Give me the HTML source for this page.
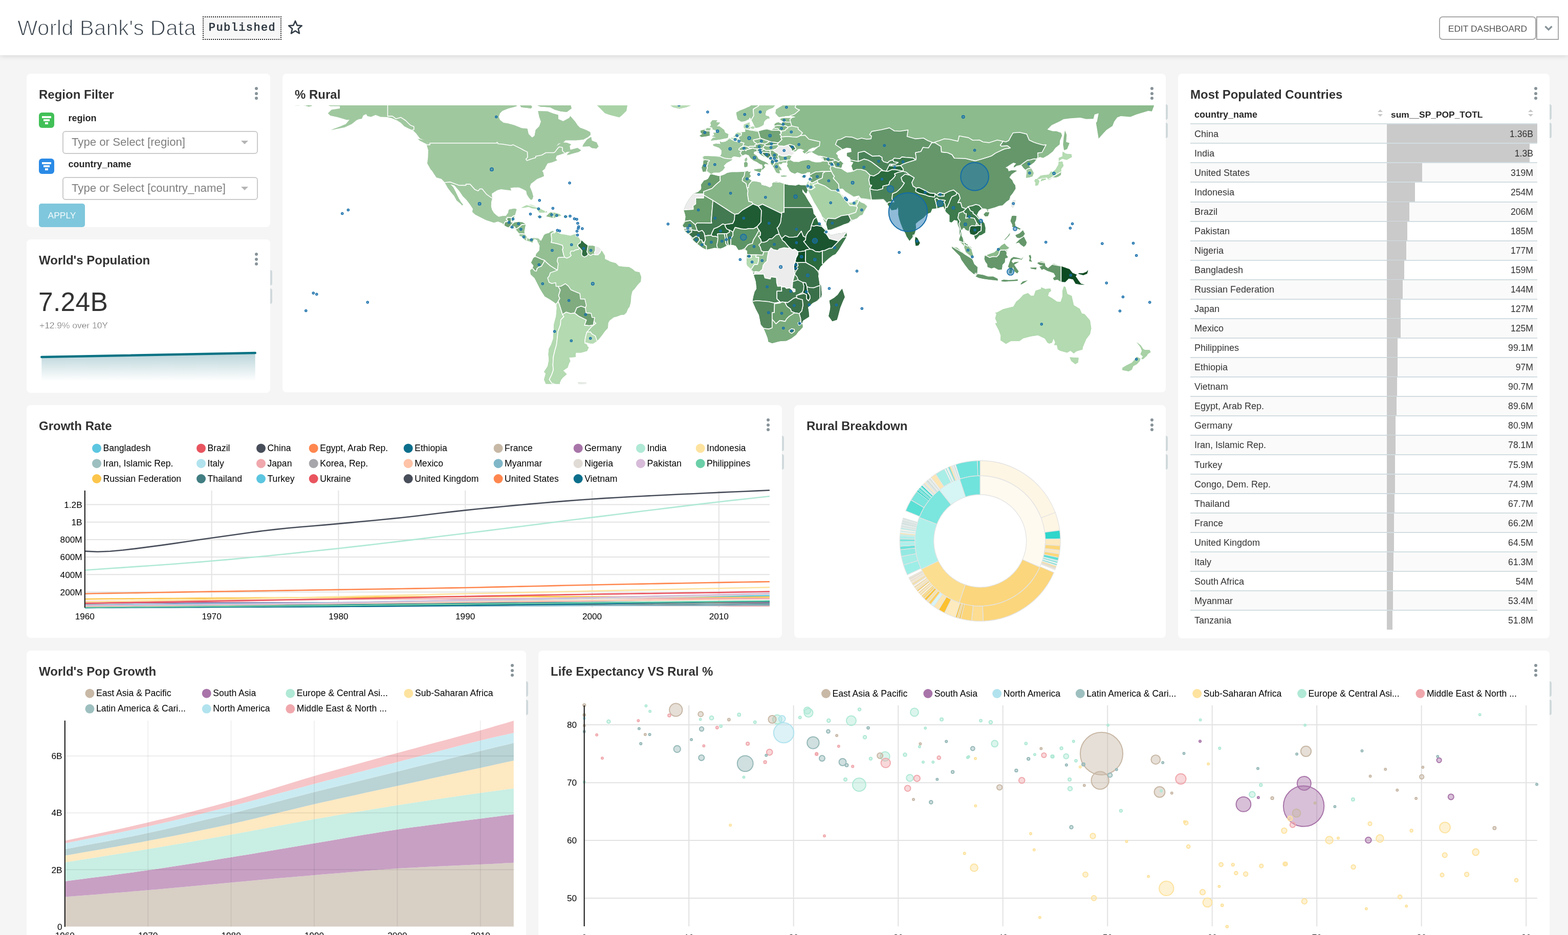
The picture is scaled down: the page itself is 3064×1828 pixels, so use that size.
<!DOCTYPE html><html><head><meta charset="utf-8"><title>World Bank's Data</title><style>
*{box-sizing:border-box;margin:0;padding:0}
html,body{width:3064px;height:1828px;overflow:hidden;background:#f5f5f5;font-family:"Liberation Sans", Arial, Helvetica, sans-serif;color:#333}
.abs{position:absolute}
.hdr{position:absolute;left:0;top:0;width:3064px;height:108px;background:#fff;box-shadow:0 2px 10px rgba(0,0,0,0.13)}
.panel{position:absolute;background:#fff;border-radius:8px}
.ttl{position:absolute;font-weight:700;font-size:24px;color:#323232;white-space:nowrap;line-height:1}
.keb{position:absolute;width:6px}
.keb i{display:block;width:6px;height:6px;border-radius:3px;background:#879399;margin-bottom:3.6px}
.grip{position:absolute;width:4px;border-radius:0 4px 4px 0;background:#d0d9dc}
.lg{font-size:17.6px;fill:#000}
.ax{font-size:17.2px;fill:#000}
svg text{font-family:"Liberation Sans", Arial, Helvetica, sans-serif}
</style></head><body>
<div class="hdr"></div>
<div class="abs" style="left:34px;top:31px;font-size:42px;line-height:48px;color:#36404a;white-space:nowrap;letter-spacing:0.2px;-webkit-text-stroke:1.3px #fff;paint-order:normal">World Bank's Data</div>
<div class="abs" style="left:396px;top:32px;width:154px;height:46px;border:2.4px dotted #222;background:#f7f7f7;font-family:'Liberation Mono',monospace;font-weight:400;font-size:22px;letter-spacing:1.4px;-webkit-text-stroke:0.7px #2b353e;line-height:41px;text-align:center;color:#2b353e;padding-left:1px">Published</div>
<svg class="abs" style="left:560px;top:38px" width="34" height="32" viewBox="0 0 34 32"><path d="M17 3 L20.6 11.6 L29.8 12.3 L22.8 18.3 L25 27.3 L17 22.4 L9 27.3 L11.2 18.3 L4.2 12.3 L13.4 11.6 Z" fill="none" stroke="#323c46" stroke-width="2.6" stroke-linejoin="round"/></svg>
<div class="abs" style="left:2812px;top:32px;width:190px;height:46px;border:2px solid #a9a9a9;border-radius:7px;background:#fff;font-size:17.4px;line-height:44px;text-align:center;color:#555;white-space:nowrap">EDIT DASHBOARD</div>
<div class="abs" style="left:3002px;top:32px;width:44px;height:46px;border:2px solid #a9a9a9;background:#fff"></div>
<svg class="abs" style="left:3016px;top:48px" width="20" height="14"><path d="M3.5 3.5 L10 10 L16.5 3.5" fill="none" stroke="#879399" stroke-width="3.2"/></svg>
<div class="panel" style="left:52px;top:144px;width:476px;height:300px"></div>
<div class="ttl" style="left:76px;top:172.7px;font-size:24px">Region Filter</div>
<div class="keb" style="left:498.0px;top:170.0px"><i></i><i></i><i></i></div>
<div class="abs" style="left:76px;top:220px;width:30px;height:30px;border-radius:6px;background:#41c057"><div class="abs" style="left:6px;top:7.3px;width:18px;height:3.4px;background:#fff"></div><div class="abs" style="left:9px;top:13.4px;width:12px;height:3.4px;background:#fff"></div><div class="abs" style="left:12px;top:19.3px;width:6px;height:3.4px;background:#fff"></div></div>
<div class="abs" style="left:133.5px;top:221px;font-size:18px;font-weight:700;line-height:20px;color:#262626">region</div>
<div class="abs" style="left:122px;top:256px;width:382px;height:45px;border:2px solid #cbcbcb;border-radius:6px;background:#fff"></div>
<div class="abs" style="left:140px;top:265px;font-size:22.2px;line-height:26px;color:#7f7f7f;white-space:nowrap">Type or Select [region]</div>
<svg class="abs" style="left:470px;top:274px" width="16" height="10"><path d="M1 1 L15 1 L8 8 Z" fill="#b4b4b4"/></svg>
<div class="abs" style="left:76px;top:310px;width:30px;height:30px;border-radius:6px;background:#2a8ae6"><div class="abs" style="left:6px;top:7.3px;width:18px;height:3.4px;background:#fff"></div><div class="abs" style="left:9px;top:13.4px;width:12px;height:3.4px;background:#fff"></div><div class="abs" style="left:12px;top:19.3px;width:6px;height:3.4px;background:#fff"></div></div>
<div class="abs" style="left:133.5px;top:311px;font-size:18px;font-weight:700;line-height:20px;color:#262626">country_name</div>
<div class="abs" style="left:122px;top:346px;width:382px;height:45px;border:2px solid #cbcbcb;border-radius:6px;background:#fff"></div>
<div class="abs" style="left:140px;top:355px;font-size:22.2px;line-height:26px;color:#7f7f7f;white-space:nowrap">Type or Select [country_name]</div>
<svg class="abs" style="left:470px;top:364px" width="16" height="10"><path d="M1 1 L15 1 L8 8 Z" fill="#b4b4b4"/></svg>
<div class="abs" style="left:76px;top:398px;width:90px;height:46px;border-radius:5px;background:#7fc7dc;color:#f4fbfd;font-size:17.4px;line-height:46px;text-align:center">APPLY</div>
<div class="panel" style="left:52px;top:468px;width:476px;height:300px"></div>
<div class="ttl" style="left:76px;top:496.7px;font-size:24px">World's Population</div>
<div class="keb" style="left:498.0px;top:494.0px"><i></i><i></i><i></i></div>
<div class="abs" style="left:75px;top:561px;font-size:51.5px;line-height:58px;color:#333;letter-spacing:0.3px">7.24B</div>
<div class="abs" style="left:77px;top:626px;font-size:17.4px;line-height:20px;color:#5a5a5a;-webkit-text-stroke:0.45px #fff">+12.9% over 10Y</div>
<svg class="abs" style="left:52px;top:468px" width="476" height="300"><defs><linearGradient id="spg" x1="0" y1="0" x2="0" y2="1"><stop offset="0" stop-color="#b9d4d9"/><stop offset="1" stop-color="#fff"/></linearGradient></defs><path d="M29.3 230 L446.7 222 L446.7 277 L29.3 277 Z" fill="url(#spg)"/><path d="M29.3 230 L446.7 222" stroke="#0b7384" stroke-width="4.5" stroke-linecap="round" fill="none"/></svg>
<div class="grip" style="left:528px;top:528px;height:30px"></div>
<div class="grip" style="left:528px;top:564px;height:30px"></div>
<div class="panel" style="left:552px;top:144px;width:1726px;height:623px"></div>
<div class="ttl" style="left:576px;top:172.7px;font-size:24px">% Rural</div>
<div class="keb" style="left:2248.0px;top:170.0px"><i></i><i></i><i></i></div>
<svg class="abs" style="left:0;top:0" width="2300" height="780" viewBox="0 0 2300 780"><defs><clipPath id="mc"><rect x="576" y="206" width="1679" height="544.5"/></clipPath><clipPath id="cl_nam"><path d="M631.4 202.3 L645.4 207.5 L664.1 207.5 L664.1 212.1 L647.8 214.5 L640.8 221.5 L645.4 226.1 L659.4 228.9 L678.1 234.5 L682.8 234.1 L675.8 242.5 L664.1 247.6 L652.4 251.8 L646.4 254.6 L659.4 251.8 L673.4 249.0 L687.4 242.5 L696.8 235.0 L701.4 233.1 L707.0 232.2 L709.8 225.7 L715.5 222.9 L717.8 227.1 L724.8 228.5 L734.1 224.7 L743.5 228.5 L757.5 228.9 L764.5 230.8 L776.1 235.5 L783.1 240.1 L790.1 247.1 L799.5 251.8 L807.4 255.1 L813.5 261.1 L820.5 270.5 L829.8 274.2 L839.1 283.1 L833.5 282.6 L836.8 293.8 L836.3 307.8 L834.9 319.5 L841.5 331.2 L843.8 333.5 L846.6 337.7 L852.7 347.0 L862.5 349.8 L868.5 355.9 L871.8 361.5 L875.1 367.6 L883.0 377.8 L887.2 382.5 L892.3 391.8 L900.7 398.8 L902.6 401.6 L904.9 400.2 L900.7 395.1 L896.1 387.2 L890.5 375.5 L885.8 366.2 L879.7 360.1 L888.1 362.4 L897.5 373.2 L904.5 383.4 L911.5 390.4 L918.9 400.2 L924.1 408.2 L923.1 414.2 L928.7 419.4 L939.5 425.0 L949.3 430.1 L965.1 435.2 L973.1 432.9 L981.5 436.2 L985.2 440.4 L990.8 443.6 L997.8 445.5 L1007.1 446.9 L1009.5 450.2 L1014.1 455.8 L1015.5 457.2 L1015.1 460.9 L1020.2 462.8 L1025.8 469.3 L1028.6 470.2 L1035.1 472.1 L1040.3 474.4 L1042.1 469.8 L1044.5 467.0 L1049.6 469.3 L1051.5 474.9 L1054.3 475.8 L1054.7 469.8 L1054.3 467.9 L1049.1 464.6 L1044.5 463.7 L1039.8 466.0 L1035.1 467.4 L1031.9 466.5 L1028.1 461.8 L1024.9 457.2 L1024.4 452.5 L1025.8 445.5 L1027.2 438.5 L1021.1 434.8 L1014.1 433.8 L1007.1 434.8 L1003.4 435.2 L1000.6 434.3 L1003.9 426.8 L1005.7 422.2 L1007.1 417.5 L1009.5 409.1 L1004.8 407.7 L994.1 410.0 L993.1 416.1 L988.5 422.2 L981.5 422.6 L974.5 424.0 L969.8 420.8 L965.1 416.6 L961.4 410.5 L959.5 403.5 L960.0 394.2 L961.9 387.6 L960.9 378.8 L965.1 376.0 L972.1 371.8 L979.1 369.9 L988.5 371.3 L997.8 372.2 L999.2 372.7 L997.3 367.6 L1004.8 366.6 L1014.1 366.6 L1021.1 369.4 L1028.1 373.2 L1029.5 380.2 L1033.7 386.7 L1037.5 390.9 L1040.7 389.0 L1042.1 383.9 L1039.8 375.5 L1035.6 365.2 L1037.5 359.2 L1042.6 355.4 L1049.1 350.3 L1051.9 348.9 L1058.5 346.6 L1063.1 344.2 L1061.3 336.3 L1059.4 334.4 L1065.0 329.8 L1065.9 327.0 L1070.1 319.5 L1079.5 317.2 L1085.5 314.8 L1088.8 313.4 L1086.0 309.7 L1087.9 304.6 L1098.1 301.3 L1102.8 299.4 L1107.5 297.1 L1114.5 296.2 L1108.9 300.8 L1107.5 304.1 L1116.8 300.8 L1130.8 297.1 L1135.5 293.8 L1128.5 289.2 L1114.5 292.9 L1113.1 285.4 L1115.9 282.2 L1107.5 278.9 L1098.1 278.4 L1091.1 283.1 L1086.5 286.8 L1091.1 280.8 L1100.5 278.4 L1105.1 274.2 L1126.1 274.2 L1140.1 272.8 L1149.0 268.1 L1154.1 263.5 L1153.2 258.3 L1144.8 254.1 L1133.1 249.5 L1128.5 244.8 L1123.8 237.8 L1114.5 227.1 L1112.1 230.8 L1100.5 236.9 L1091.1 233.1 L1090.7 224.7 L1079.5 221.5 L1070.1 217.7 L1051.5 217.3 L1053.8 228.5 L1057.1 237.8 L1053.8 247.1 L1046.8 254.1 L1044.5 265.8 L1039.8 269.1 L1032.8 262.1 L1030.5 251.8 L1018.8 250.4 L1004.8 244.8 L993.1 241.5 L983.8 240.1 L976.8 234.5 L974.5 228.5 L976.8 221.5 L981.5 216.8 L993.1 212.1 L1004.8 208.9 L1009.5 207.5 L1009.5 195.8 L948.8 191.1 L855.5 184.1 L762.1 182.7 L687.4 175.7 L654.8 181.8 L640.8 188.8 L650.1 195.8 Z M1042.1 202.8 L1056.1 208.4 L1074.8 209.8 L1084.1 214.5 L1095.8 217.7 L1107.5 219.1 L1112.1 215.4 L1116.8 212.1 L1114.5 202.8 Z M1014.1 202.8 L1018.8 209.8 L1028.1 210.7 L1037.5 212.1 L1039.8 208.9 L1035.1 202.8 Z M1138.3 286.4 L1140.1 282.2 L1147.1 272.8 L1155.1 267.7 L1156.5 275.1 L1165.8 278.4 L1169.5 286.4 L1165.3 290.6 L1156.5 289.2 L1151.8 285.9 Z M816.3 271.4 L829.8 274.2 L839.6 282.6 L833.1 281.2 L820.5 275.1 Z"/></clipPath><clipPath id="cl_grl"><path d="M1163.5 202.8 L1172.8 212.1 L1182.2 221.5 L1191.5 224.7 L1210.2 229.4 L1214.8 226.1 L1224.2 216.8 L1226.5 202.8 Z M1301.2 202.8 L1309.6 205.6 L1315.2 209.8 L1327.8 212.6 L1340.8 209.8 L1352.0 205.1 L1350.2 198.1 L1322.2 198.1 L1303.5 199.1 Z"/></clipPath><clipPath id="cl_car"><path d="M1018.8 406.3 L1028.1 401.6 L1037.5 400.2 L1044.5 402.6 L1053.8 407.2 L1063.1 411.9 L1069.7 414.2 L1065.5 415.6 L1053.8 415.6 L1049.1 408.2 L1039.8 407.2 L1032.8 404.4 L1023.5 406.3 Z M1067.8 422.2 L1074.8 415.6 L1081.8 415.6 L1093.5 418.4 L1096.7 421.7 L1088.8 423.6 L1081.8 426.4 L1074.8 424.5 L1067.8 423.1 Z M1050.1 422.6 L1059.9 423.6 L1057.1 425.4 L1050.5 423.6 Z M1101.9 422.2 L1109.3 422.6 L1108.9 424.5 L1101.9 424.5 Z"/></clipPath><clipPath id="cl_sam"><path d="M1054.3 467.9 L1057.1 471.2 L1060.8 464.6 L1063.1 459.5 L1066.4 457.2 L1072.5 455.8 L1079.5 450.6 L1083.2 453.4 L1081.3 458.1 L1084.1 455.8 L1088.8 451.6 L1089.7 454.8 L1096.7 458.1 L1105.1 459.0 L1114.5 460.9 L1121.5 458.6 L1126.6 458.6 L1123.8 461.8 L1130.8 464.2 L1133.1 468.8 L1136.4 469.8 L1142.5 475.8 L1149.0 480.5 L1158.8 480.5 L1163.5 481.9 L1170.5 484.2 L1174.7 488.9 L1177.5 492.2 L1182.2 500.1 L1182.2 506.2 L1189.2 509.4 L1192.0 511.3 L1203.6 514.6 L1209.2 520.2 L1219.5 521.6 L1229.3 522.0 L1235.8 525.8 L1241.4 530.4 L1249.8 532.3 L1253.1 541.6 L1252.2 550.5 L1245.6 557.5 L1240.5 564.5 L1235.8 569.2 L1233.5 578.5 L1232.6 591.1 L1230.2 600.0 L1227.4 603.2 L1224.2 611.2 L1219.5 615.4 L1213.9 615.8 L1205.5 619.1 L1199.4 620.5 L1191.5 626.6 L1188.7 631.2 L1187.8 641.5 L1182.2 647.6 L1176.5 655.5 L1170.0 663.4 L1165.8 667.2 L1159.3 671.4 L1153.2 671.4 L1145.7 669.5 L1142.9 668.6 L1147.1 673.2 L1148.1 677.4 L1150.9 678.4 L1147.1 686.3 L1135.5 689.6 L1125.2 689.6 L1124.7 698.0 L1112.1 698.9 L1114.5 705.9 L1112.1 710.1 L1109.3 718.5 L1100.5 724.6 L1107.5 731.6 L1099.5 738.6 L1096.3 742.8 L1093.5 749.3 L1096.3 753.1 L1095.3 763.8 L1110.7 764.7 L1100.5 767.5 L1088.8 765.7 L1079.5 760.5 L1067.8 753.5 L1063.1 741.9 L1066.4 730.2 L1063.1 726.9 L1070.1 716.2 L1072.5 704.5 L1071.5 692.8 L1072.5 682.1 L1076.7 674.2 L1080.9 662.5 L1081.8 648.5 L1082.3 634.5 L1086.5 618.2 L1087.9 602.8 L1087.4 594.4 L1082.3 590.6 L1074.8 585.5 L1064.5 579.4 L1059.4 571.5 L1055.2 564.5 L1050.5 555.2 L1044.5 543.5 L1037.0 536.5 L1036.1 528.6 L1040.7 524.4 L1042.6 519.2 L1037.9 513.6 L1042.1 504.8 L1046.8 501.0 L1047.7 496.4 L1053.8 489.8 L1054.7 480.5 L1051.9 474.9 L1054.3 475.8 Z M1129.4 747.5 L1144.8 747.0 L1146.2 749.8 L1137.8 752.6 L1130.8 751.2 Z"/></clipPath><clipPath id="cl_afr"><path d="M1388.0 341.4 L1390.8 341.0 L1401.5 343.8 L1406.2 344.7 L1415.5 341.4 L1421.1 338.2 L1429.5 336.8 L1441.2 336.8 L1452.8 336.3 L1460.8 334.4 L1463.6 336.8 L1466.8 335.4 L1464.5 340.5 L1467.3 344.2 L1462.6 348.9 L1469.2 354.0 L1477.1 355.0 L1486.4 357.3 L1488.3 362.0 L1497.2 363.8 L1504.2 367.1 L1508.8 363.8 L1509.3 358.2 L1515.8 355.0 L1523.3 356.4 L1532.2 360.1 L1541.5 362.0 L1555.0 362.9 L1560.2 361.0 L1566.2 362.4 L1575.1 362.4 L1578.4 370.8 L1575.6 378.3 L1572.3 375.5 L1567.6 369.0 L1568.1 375.5 L1573.2 382.0 L1578.8 391.8 L1582.1 397.0 L1587.7 405.8 L1589.1 412.8 L1589.6 417.5 L1595.2 424.5 L1598.9 434.3 L1603.1 438.5 L1610.1 445.5 L1616.6 449.2 L1617.6 453.9 L1623.2 460.0 L1627.8 459.0 L1637.2 456.7 L1646.5 455.8 L1654.0 453.4 L1654.9 460.0 L1652.6 465.6 L1646.5 475.8 L1639.5 487.5 L1632.5 496.8 L1626.9 499.2 L1618.5 505.7 L1611.5 512.2 L1606.8 517.8 L1603.1 521.6 L1600.3 527.6 L1598.9 540.2 L1599.8 545.8 L1601.2 555.2 L1604.0 557.5 L1605.0 566.8 L1605.4 576.2 L1604.5 580.8 L1598.4 586.9 L1587.7 592.5 L1578.8 600.9 L1580.2 608.8 L1581.2 619.1 L1569.5 626.6 L1567.6 629.8 L1569.0 639.2 L1562.5 646.2 L1560.2 648.0 L1555.5 654.6 L1546.2 661.6 L1536.8 666.2 L1522.8 667.2 L1508.8 670.9 L1501.4 668.1 L1500.4 661.6 L1496.2 650.8 L1492.5 642.0 L1486.9 634.5 L1483.2 615.8 L1477.1 604.2 L1470.6 589.2 L1472.4 579.4 L1474.8 570.6 L1478.5 564.5 L1477.1 550.5 L1472.9 537.0 L1471.5 531.8 L1466.8 526.2 L1460.3 519.7 L1458.9 513.2 L1459.4 506.6 L1459.8 498.2 L1460.3 490.3 L1455.6 487.5 L1448.2 488.0 L1443.0 488.4 L1437.9 480.5 L1431.4 478.6 L1421.1 480.0 L1410.8 484.7 L1406.2 486.1 L1396.8 484.2 L1380.5 488.0 L1372.1 483.8 L1362.3 476.3 L1353.9 468.8 L1347.8 460.0 L1343.2 455.8 L1337.6 450.6 L1337.1 445.5 L1333.8 439.9 L1338.5 432.9 L1339.9 423.6 L1338.5 417.5 L1336.2 410.5 L1340.8 398.8 L1346.4 389.5 L1354.8 379.2 L1364.2 375.5 L1369.8 370.4 L1370.7 366.6 L1369.8 361.5 L1375.8 353.1 L1380.0 351.7 L1383.8 349.4 L1386.6 344.2 Z M1645.6 564.5 L1650.7 580.8 L1647.0 588.8 L1641.8 601.8 L1637.2 619.6 L1635.3 625.2 L1626.4 628.0 L1619.4 618.2 L1619.4 617.2 L1621.8 606.5 L1622.7 599.5 L1620.8 587.8 L1630.2 582.2 L1637.2 576.2 L1640.9 570.6 Z"/></clipPath><clipPath id="cl_eur"><path d="M1371.2 327.4 L1373.5 335.8 L1381.0 334.9 L1386.1 338.2 L1389.4 340.5 L1394.5 337.2 L1405.7 337.2 L1412.2 333.0 L1416.4 327.4 L1414.1 324.2 L1419.7 318.6 L1425.8 315.3 L1430.4 312.5 L1430.0 307.8 L1434.2 305.5 L1440.7 306.4 L1445.8 307.4 L1450.5 304.1 L1456.6 301.3 L1463.1 303.6 L1466.8 309.2 L1472.9 313.9 L1478.5 316.2 L1485.5 320.9 L1489.2 321.8 L1490.6 327.0 L1488.3 331.2 L1490.6 331.2 L1495.3 326.5 L1492.5 322.8 L1495.8 320.0 L1501.8 321.4 L1499.5 319.0 L1494.4 316.2 L1489.7 314.4 L1481.8 310.6 L1479.0 305.0 L1472.9 300.8 L1473.4 296.6 L1479.4 295.2 L1479.0 298.0 L1483.2 297.6 L1486.4 302.2 L1492.0 305.5 L1497.6 307.8 L1501.8 310.6 L1506.0 313.4 L1506.0 319.0 L1508.4 322.8 L1512.1 327.4 L1514.9 333.0 L1516.8 336.8 L1520.0 338.6 L1523.8 338.6 L1522.8 332.1 L1527.5 332.6 L1525.2 327.9 L1521.9 324.6 L1521.0 320.0 L1526.6 320.9 L1529.8 317.6 L1536.8 318.1 L1539.6 320.0 L1537.8 324.2 L1540.6 328.4 L1542.9 333.5 L1546.2 336.8 L1553.2 339.6 L1558.3 336.8 L1567.2 340.0 L1574.2 339.1 L1577.4 336.8 L1583.5 336.3 L1582.6 341.4 L1583.0 345.2 L1581.2 350.3 L1578.8 355.4 L1575.1 362.4 L1578.4 370.8 L1585.8 384.8 L1590.5 394.2 L1597.5 405.8 L1604.5 417.5 L1609.2 429.2 L1614.8 438.5 L1617.6 449.2 L1625.5 448.8 L1639.5 443.2 L1648.8 438.5 L1659.1 435.7 L1667.5 429.6 L1674.5 426.8 L1680.6 421.2 L1685.3 419.8 L1688.5 412.8 L1694.6 403.5 L1689.0 398.4 L1681.5 395.6 L1678.7 392.3 L1678.7 385.3 L1673.6 390.4 L1667.5 396.0 L1658.2 396.5 L1656.3 393.7 L1656.3 389.5 L1654.5 386.7 L1652.6 392.8 L1649.8 388.1 L1647.4 383.0 L1641.8 377.8 L1639.0 369.0 L1646.5 368.5 L1650.3 372.2 L1655.4 378.3 L1667.5 384.4 L1678.3 382.0 L1682.9 388.1 L1690.9 390.0 L1703.0 390.9 L1714.2 390.4 L1726.3 390.0 L1728.2 392.8 L1733.8 397.9 L1737.5 404.4 L1742.2 411.0 L1752.0 409.6 L1754.3 404.9 L1755.3 410.5 L1755.3 419.8 L1757.6 429.2 L1759.9 436.2 L1764.6 448.3 L1769.3 456.2 L1771.6 462.3 L1777.2 470.7 L1780.5 467.0 L1785.6 460.4 L1788.4 453.4 L1790.3 447.4 L1789.3 437.6 L1794.9 432.4 L1799.6 429.2 L1804.3 425.9 L1811.3 418.4 L1818.7 415.2 L1821.5 408.2 L1827.1 407.7 L1833.2 406.8 L1837.9 404.9 L1843.9 404.0 L1846.3 411.0 L1849.5 415.2 L1855.6 420.8 L1855.6 433.8 L1859.8 434.8 L1864.5 430.1 L1871.0 431.5 L1871.9 439.4 L1875.7 447.8 L1875.2 459.5 L1874.3 470.7 L1881.7 478.2 L1884.1 483.3 L1888.3 495.0 L1893.9 499.6 L1898.5 502.4 L1902.3 502.0 L1898.5 489.8 L1898.1 483.8 L1892.5 479.6 L1886.9 476.3 L1883.1 469.3 L1878.5 460.4 L1878.9 450.2 L1882.2 445.5 L1884.5 445.5 L1886.9 449.2 L1892.9 451.6 L1896.2 457.2 L1903.2 459.5 L1906.0 468.4 L1913.9 460.0 L1917.2 459.5 L1925.1 454.8 L1925.6 445.5 L1923.7 437.1 L1920.9 433.4 L1913.5 426.8 L1908.8 420.3 L1912.5 412.8 L1917.7 408.2 L1922.3 407.2 L1927.5 408.2 L1930.3 413.8 L1931.2 409.1 L1937.3 407.2 L1945.2 404.9 L1951.3 402.6 L1959.2 401.2 L1966.2 394.6 L1973.2 389.5 L1973.7 383.9 L1978.8 377.8 L1984.4 369.0 L1983.9 362.4 L1980.2 357.8 L1977.9 352.2 L1972.3 347.0 L1976.9 340.5 L1982.5 336.8 L1987.2 334.0 L1982.5 333.0 L1976.9 333.0 L1970.9 334.9 L1969.5 330.2 L1964.8 327.4 L1968.5 325.6 L1973.2 322.3 L1980.2 318.1 L1985.8 319.5 L1981.6 324.2 L1981.1 327.4 L1987.2 323.7 L1995.6 322.3 L1999.8 327.9 L2004.5 332.6 L2006.3 333.5 L2005.9 340.5 L2004.9 347.5 L2010.5 347.0 L2017.5 344.7 L2019.9 338.2 L2015.7 330.2 L2010.5 324.2 L2014.7 321.8 L2020.8 317.2 L2025.5 311.1 L2031.5 306.9 L2038.5 308.8 L2047.9 303.6 L2057.2 296.2 L2062.3 289.2 L2070.7 282.2 L2071.2 275.1 L2075.4 264.9 L2073.5 259.7 L2064.2 256.5 L2057.2 256.5 L2046.5 253.2 L2054.9 244.8 L2071.2 236.9 L2078.2 233.1 L2092.2 231.3 L2110.9 229.9 L2122.6 232.7 L2136.6 232.2 L2138.9 223.8 L2146.8 221.5 L2143.6 237.8 L2141.7 240.1 L2146.8 270.9 L2155.7 261.1 L2162.2 254.1 L2173.9 246.2 L2177.2 237.8 L2183.2 229.4 L2190.2 227.1 L2208.9 228.5 L2220.6 223.8 L2243.9 216.8 L2250.9 217.7 L2255.6 205.1 L2255.6 172.5 L1569.5 172.5 L1546.2 177.1 L1532.2 177.1 L1508.8 181.8 L1490.2 188.8 L1480.8 195.8 L1473.8 202.8 L1469.2 205.1 L1464.5 208.4 L1461.2 209.8 L1454.2 213.1 L1445.8 216.3 L1438.8 220.1 L1439.8 226.6 L1441.6 233.6 L1448.2 237.8 L1455.2 236.9 L1463.1 233.1 L1465.4 228.9 L1467.8 233.6 L1471.0 239.2 L1474.3 246.2 L1475.7 249.9 L1482.7 249.0 L1488.3 246.2 L1492.0 243.9 L1493.0 238.3 L1495.8 234.5 L1500.0 231.7 L1503.7 231.3 L1502.8 228.0 L1496.2 225.7 L1495.8 222.4 L1497.2 216.8 L1502.3 213.5 L1510.2 210.7 L1514.4 206.1 L1519.1 201.9 L1528.4 201.4 L1534.5 203.7 L1534.0 205.1 L1529.8 206.1 L1516.3 214.0 L1515.4 221.5 L1519.6 226.6 L1522.4 228.9 L1531.7 227.5 L1539.2 226.6 L1550.8 227.5 L1554.6 228.9 L1546.2 230.8 L1530.8 230.8 L1525.2 232.2 L1525.2 234.5 L1529.4 236.4 L1528.0 242.5 L1521.0 239.2 L1516.3 240.6 L1513.5 242.9 L1514.0 248.5 L1513.0 250.4 L1507.0 254.6 L1501.8 252.7 L1492.5 254.1 L1481.8 256.9 L1476.2 254.6 L1470.1 255.5 L1466.4 254.6 L1462.2 251.8 L1463.1 249.0 L1466.4 245.3 L1464.5 244.8 L1464.5 239.2 L1453.8 243.4 L1453.3 249.0 L1455.6 251.8 L1457.0 256.5 L1455.2 258.3 L1448.2 258.8 L1441.2 259.3 L1437.4 261.6 L1435.6 265.8 L1431.8 268.6 L1427.2 270.0 L1423.0 270.9 L1422.5 274.2 L1416.4 277.5 L1409.9 278.0 L1406.6 276.6 L1408.0 281.7 L1399.2 280.8 L1393.1 282.6 L1394.5 285.0 L1405.2 288.7 L1409.9 293.8 L1409.9 300.4 L1407.1 306.0 L1397.8 305.5 L1388.4 305.0 L1377.2 305.0 L1372.1 307.8 L1374.9 313.0 L1374.0 320.9 Z M575.4 200.5 L575.4 207.0 L591.8 205.6 L603.4 208.9 L610.0 207.5 L610.0 200.5 Z M1466.4 248.5 L1470.6 247.4 L1474.3 247.1 L1474.3 250.4 L1472.0 251.8 L1467.8 250.9 Z M1460.8 249.5 L1465.0 249.0 L1465.9 251.3 L1463.1 251.8 L1460.8 250.9 Z M1388.9 274.7 L1399.2 273.7 L1410.8 271.9 L1422.0 269.5 L1423.4 262.5 L1416.9 259.3 L1415.0 254.1 L1409.0 249.5 L1405.7 247.1 L1400.6 247.1 L1407.1 239.7 L1399.2 239.2 L1401.5 235.0 L1392.2 235.0 L1388.4 240.1 L1389.4 245.7 L1386.6 248.1 L1392.6 249.9 L1392.2 252.7 L1400.6 255.5 L1401.5 259.3 L1394.0 259.7 L1395.9 264.4 L1391.2 266.3 L1399.6 268.6 L1393.1 269.5 Z M1387.5 264.9 L1386.6 258.8 L1387.5 254.1 L1388.9 250.9 L1381.0 249.9 L1375.8 253.7 L1368.8 255.5 L1369.3 259.3 L1372.6 262.1 L1367.0 265.3 L1370.7 267.7 L1378.2 266.7 Z M1473.4 331.6 L1486.0 329.8 L1488.3 330.2 L1486.0 337.2 L1482.2 335.8 L1474.3 333.0 Z M1454.7 326.5 L1453.8 319.0 L1455.2 317.2 L1458.4 316.2 L1461.2 319.5 L1460.3 325.6 L1457.5 326.5 Z M1455.6 315.3 L1455.6 311.1 L1458.9 307.8 L1460.3 311.6 L1458.4 315.3 Z M1525.2 343.8 L1529.8 342.8 L1538.2 343.8 L1535.4 345.2 L1527.5 345.6 Z M1566.2 346.1 L1569.0 343.8 L1576.5 342.4 L1572.8 345.2 L1569.5 347.0 Z M1787.9 470.7 L1788.9 463.2 L1792.6 465.6 L1797.7 474.9 L1794.5 480.0 L1789.3 480.5 Z M1976.5 403.5 L1976.0 397.9 L1980.2 390.9 L1984.4 391.8 L1982.5 401.2 L1979.3 406.3 Z M1922.3 418.9 L1926.5 414.7 L1933.1 415.2 L1930.7 422.2 L1925.1 423.1 Z M2026.4 349.8 L2033.9 343.3 L2043.2 341.9 L2049.7 341.4 L2053.9 334.9 L2056.3 336.8 L2062.3 332.1 L2068.4 321.8 L2068.9 316.2 L2075.9 315.8 L2078.2 324.2 L2073.5 330.2 L2073.5 336.8 L2073.1 341.9 L2067.9 345.6 L2063.3 347.0 L2057.2 346.6 L2054.4 348.4 L2049.3 352.2 L2046.0 347.0 L2036.2 348.0 L2029.2 350.3 Z M2068.9 314.8 L2068.9 308.8 L2075.9 306.0 L2076.8 296.6 L2082.4 300.4 L2093.6 301.8 L2094.5 306.9 L2084.3 312.5 L2075.4 310.2 Z M2021.3 354.0 L2023.1 350.3 L2027.3 350.3 L2031.1 354.0 L2028.3 362.0 L2023.1 362.9 L2023.6 356.8 Z M2033.4 354.5 L2035.7 349.4 L2043.7 348.9 L2044.1 350.8 L2037.6 353.1 Z M2079.1 293.8 L2077.3 282.2 L2078.7 268.1 L2081.0 255.1 L2084.3 263.5 L2083.3 277.5 L2089.9 279.8 L2085.2 291.5 Z M1974.6 432.0 L1977.4 422.2 L1981.1 421.7 L1986.3 422.6 L1985.3 430.1 L1983.0 435.2 L1984.4 442.2 L1994.7 447.4 L1991.9 448.8 L1983.0 443.6 L1978.3 444.1 L1978.3 439.4 Z M1984.9 475.8 L1991.9 468.8 L2000.7 462.8 L2006.3 474.0 L2004.5 479.1 L2000.7 482.4 L1994.7 478.2 L1990.9 474.0 Z M1984.9 459.5 L1992.3 456.2 L1998.9 450.2 L2002.6 457.2 L1998.9 462.3 L1991.9 465.6 L1987.2 464.6 L1984.4 460.4 Z M1962.5 469.3 L1969.9 460.9 L1973.7 455.3 L1972.3 460.0 L1964.3 468.4 Z M1859.8 482.4 L1870.5 484.2 L1883.6 496.8 L1899.9 507.1 L1903.7 516.4 L1910.2 522.5 L1909.3 535.6 L1903.2 536.0 L1892.9 527.2 L1886.4 518.8 L1878.5 507.6 L1875.7 500.6 L1869.1 494.0 L1860.7 485.6 Z M1906.5 540.2 L1910.7 536.0 L1920.9 537.4 L1930.7 540.7 L1941.0 540.7 L1949.4 544.9 L1949.9 548.6 L1933.5 546.8 L1920.9 544.9 L1912.1 543.0 Z M1924.2 500.1 L1927.5 499.2 L1933.5 496.8 L1942.9 493.6 L1951.7 485.6 L1956.9 480.0 L1962.9 476.3 L1967.6 481.4 L1971.8 484.2 L1968.1 488.0 L1966.2 498.2 L1970.4 503.8 L1964.3 504.8 L1963.4 512.7 L1958.7 517.8 L1957.8 526.7 L1951.3 527.6 L1942.9 523.0 L1937.3 524.8 L1929.8 522.0 L1929.3 516.4 L1925.6 511.8 L1923.7 506.6 Z M1972.3 534.2 L1973.2 524.8 L1969.9 521.6 L1974.6 507.6 L1976.0 505.2 L1980.7 502.4 L1989.5 504.3 L1996.1 506.6 L1999.8 502.0 L1996.5 507.6 L1989.5 506.2 L1980.2 506.2 L1976.5 510.4 L1979.7 515.0 L1982.5 512.7 L1990.9 511.8 L1981.6 517.4 L1985.8 523.9 L1990.5 530.4 L1987.7 534.6 L1982.5 530.4 L1979.3 521.1 L1976.9 534.2 Z M2010.5 500.1 L2013.3 498.2 L2015.2 502.9 L2013.8 507.1 L2016.6 511.8 L2011.0 510.4 L2012.4 504.8 Z M2012.9 523.4 L2025.5 523.0 L2024.5 526.7 L2015.2 525.3 Z M1994.2 555.6 L1998.4 550.5 L2009.6 547.7 L2005.9 550.0 L1996.1 556.1 Z M1956.9 548.2 L1961.5 546.8 L1970.9 547.7 L1979.3 547.2 L1988.6 546.3 L1988.6 549.1 L1977.9 549.6 L1963.9 550.5 L1956.9 550.0 Z M2026.9 514.6 L2033.4 510.4 L2041.3 512.7 L2042.7 520.6 L2047.9 524.4 L2058.6 515.5 L2073.5 520.6 L2089.9 526.2 L2095.9 533.7 L2104.3 537.0 L2102.0 540.2 L2107.6 548.6 L2112.3 554.7 L2119.3 556.6 L2112.3 556.6 L2102.5 556.1 L2096.9 546.3 L2088.5 544.4 L2081.0 551.9 L2073.5 551.0 L2066.5 546.8 L2060.0 547.7 L2057.7 544.0 L2062.8 540.2 L2059.1 533.7 L2046.5 529.5 L2039.5 525.8 L2035.7 527.6 L2031.5 521.6 L2039.0 518.8 L2032.5 518.3 Z M2107.6 534.2 L2116.0 534.2 L2123.0 531.4 L2126.3 528.1 L2124.4 535.1 L2117.0 537.9 L2107.6 535.6 Z"/></clipPath><clipPath id="cl_aus"><path d="M1944.7 611.2 L1948.5 610.7 L1960.1 604.6 L1970.9 601.8 L1980.2 599.5 L1985.8 589.7 L1992.3 584.6 L1999.8 576.2 L2008.7 572.9 L2014.7 578.5 L2020.3 578.0 L2023.6 568.2 L2034.3 565.0 L2034.3 561.7 L2042.7 565.0 L2052.5 564.0 L2053.9 568.7 L2049.7 572.0 L2047.9 578.5 L2055.3 582.7 L2065.6 589.7 L2072.6 590.2 L2076.3 579.0 L2075.9 569.6 L2078.7 560.3 L2081.9 560.8 L2085.7 574.8 L2094.1 578.5 L2098.3 596.7 L2109.9 603.7 L2114.1 613.0 L2119.3 614.0 L2130.0 626.6 L2132.4 642.0 L2130.0 653.2 L2122.6 663.0 L2116.0 678.4 L2115.1 683.5 L2103.4 686.8 L2098.3 691.0 L2091.7 685.8 L2085.2 689.6 L2071.7 685.8 L2067.0 683.0 L2065.1 674.6 L2060.0 674.6 L2061.9 669.0 L2058.6 662.0 L2055.8 670.0 L2050.2 671.8 L2046.5 669.5 L2041.8 662.0 L2028.3 655.5 L2013.8 657.8 L1999.3 661.6 L1992.3 666.7 L1975.5 666.7 L1965.7 672.3 L1955.0 665.3 L1955.5 656.0 L1951.7 645.7 L1944.7 632.2 L1948.5 631.2 L1944.7 622.4 L1947.1 614.0 Z M2090.3 698.4 L2107.6 699.4 L2106.7 708.7 L2101.1 712.0 L2093.1 705.4 Z M2221.0 669.0 L2229.0 675.1 L2233.6 682.1 L2236.9 684.0 L2246.2 684.0 L2248.6 688.6 L2243.0 691.9 L2241.1 695.6 L2233.2 702.6 L2230.4 701.2 L2233.2 697.0 L2228.5 692.4 L2231.3 685.8 L2228.5 678.8 Z M2221.5 697.5 L2228.5 701.2 L2227.1 705.9 L2221.5 712.0 L2214.5 715.7 L2211.7 722.7 L2205.6 726.0 L2193.0 723.6 L2193.5 719.0 L2201.4 714.3 L2211.7 709.2 L2218.7 701.2 Z"/></clipPath></defs><g clip-path="url(#mc)"><path d="M631.4 202.3 L645.4 207.5 L664.1 207.5 L664.1 212.1 L647.8 214.5 L640.8 221.5 L645.4 226.1 L659.4 228.9 L678.1 234.5 L682.8 234.1 L675.8 242.5 L664.1 247.6 L652.4 251.8 L646.4 254.6 L659.4 251.8 L673.4 249.0 L687.4 242.5 L696.8 235.0 L701.4 233.1 L707.0 232.2 L709.8 225.7 L715.5 222.9 L717.8 227.1 L724.8 228.5 L734.1 224.7 L743.5 228.5 L757.5 228.9 L764.5 230.8 L776.1 235.5 L783.1 240.1 L790.1 247.1 L799.5 251.8 L807.4 255.1 L813.5 261.1 L820.5 270.5 L829.8 274.2 L839.1 283.1 L833.5 282.6 L836.8 293.8 L836.3 307.8 L834.9 319.5 L841.5 331.2 L843.8 333.5 L846.6 337.7 L852.7 347.0 L862.5 349.8 L868.5 355.9 L871.8 361.5 L875.1 367.6 L883.0 377.8 L887.2 382.5 L892.3 391.8 L900.7 398.8 L902.6 401.6 L904.9 400.2 L900.7 395.1 L896.1 387.2 L890.5 375.5 L885.8 366.2 L879.7 360.1 L888.1 362.4 L897.5 373.2 L904.5 383.4 L911.5 390.4 L918.9 400.2 L924.1 408.2 L923.1 414.2 L928.7 419.4 L939.5 425.0 L949.3 430.1 L965.1 435.2 L973.1 432.9 L981.5 436.2 L985.2 440.4 L990.8 443.6 L997.8 445.5 L1007.1 446.9 L1009.5 450.2 L1014.1 455.8 L1015.5 457.2 L1015.1 460.9 L1020.2 462.8 L1025.8 469.3 L1028.6 470.2 L1035.1 472.1 L1040.3 474.4 L1042.1 469.8 L1044.5 467.0 L1049.6 469.3 L1051.5 474.9 L1054.3 475.8 L1054.7 469.8 L1054.3 467.9 L1049.1 464.6 L1044.5 463.7 L1039.8 466.0 L1035.1 467.4 L1031.9 466.5 L1028.1 461.8 L1024.9 457.2 L1024.4 452.5 L1025.8 445.5 L1027.2 438.5 L1021.1 434.8 L1014.1 433.8 L1007.1 434.8 L1003.4 435.2 L1000.6 434.3 L1003.9 426.8 L1005.7 422.2 L1007.1 417.5 L1009.5 409.1 L1004.8 407.7 L994.1 410.0 L993.1 416.1 L988.5 422.2 L981.5 422.6 L974.5 424.0 L969.8 420.8 L965.1 416.6 L961.4 410.5 L959.5 403.5 L960.0 394.2 L961.9 387.6 L960.9 378.8 L965.1 376.0 L972.1 371.8 L979.1 369.9 L988.5 371.3 L997.8 372.2 L999.2 372.7 L997.3 367.6 L1004.8 366.6 L1014.1 366.6 L1021.1 369.4 L1028.1 373.2 L1029.5 380.2 L1033.7 386.7 L1037.5 390.9 L1040.7 389.0 L1042.1 383.9 L1039.8 375.5 L1035.6 365.2 L1037.5 359.2 L1042.6 355.4 L1049.1 350.3 L1051.9 348.9 L1058.5 346.6 L1063.1 344.2 L1061.3 336.3 L1059.4 334.4 L1065.0 329.8 L1065.9 327.0 L1070.1 319.5 L1079.5 317.2 L1085.5 314.8 L1088.8 313.4 L1086.0 309.7 L1087.9 304.6 L1098.1 301.3 L1102.8 299.4 L1107.5 297.1 L1114.5 296.2 L1108.9 300.8 L1107.5 304.1 L1116.8 300.8 L1130.8 297.1 L1135.5 293.8 L1128.5 289.2 L1114.5 292.9 L1113.1 285.4 L1115.9 282.2 L1107.5 278.9 L1098.1 278.4 L1091.1 283.1 L1086.5 286.8 L1091.1 280.8 L1100.5 278.4 L1105.1 274.2 L1126.1 274.2 L1140.1 272.8 L1149.0 268.1 L1154.1 263.5 L1153.2 258.3 L1144.8 254.1 L1133.1 249.5 L1128.5 244.8 L1123.8 237.8 L1114.5 227.1 L1112.1 230.8 L1100.5 236.9 L1091.1 233.1 L1090.7 224.7 L1079.5 221.5 L1070.1 217.7 L1051.5 217.3 L1053.8 228.5 L1057.1 237.8 L1053.8 247.1 L1046.8 254.1 L1044.5 265.8 L1039.8 269.1 L1032.8 262.1 L1030.5 251.8 L1018.8 250.4 L1004.8 244.8 L993.1 241.5 L983.8 240.1 L976.8 234.5 L974.5 228.5 L976.8 221.5 L981.5 216.8 L993.1 212.1 L1004.8 208.9 L1009.5 207.5 L1009.5 195.8 L948.8 191.1 L855.5 184.1 L762.1 182.7 L687.4 175.7 L654.8 181.8 L640.8 188.8 L650.1 195.8 Z M1042.1 202.8 L1056.1 208.4 L1074.8 209.8 L1084.1 214.5 L1095.8 217.7 L1107.5 219.1 L1112.1 215.4 L1116.8 212.1 L1114.5 202.8 Z M1014.1 202.8 L1018.8 209.8 L1028.1 210.7 L1037.5 212.1 L1039.8 208.9 L1035.1 202.8 Z M1138.3 286.4 L1140.1 282.2 L1147.1 272.8 L1155.1 267.7 L1156.5 275.1 L1165.8 278.4 L1169.5 286.4 L1165.3 290.6 L1156.5 289.2 L1151.8 285.9 Z M816.3 271.4 L829.8 274.2 L839.6 282.6 L833.1 281.2 L820.5 275.1 Z" fill="#a0c89f"/><path d="M1163.5 202.8 L1172.8 212.1 L1182.2 221.5 L1191.5 224.7 L1210.2 229.4 L1214.8 226.1 L1224.2 216.8 L1226.5 202.8 Z M1301.2 202.8 L1309.6 205.6 L1315.2 209.8 L1327.8 212.6 L1340.8 209.8 L1352.0 205.1 L1350.2 198.1 L1322.2 198.1 L1303.5 199.1 Z" fill="#a9d3a7"/><path d="M1018.8 406.3 L1028.1 401.6 L1037.5 400.2 L1044.5 402.6 L1053.8 407.2 L1063.1 411.9 L1069.7 414.2 L1065.5 415.6 L1053.8 415.6 L1049.1 408.2 L1039.8 407.2 L1032.8 404.4 L1023.5 406.3 Z M1067.8 422.2 L1074.8 415.6 L1081.8 415.6 L1093.5 418.4 L1096.7 421.7 L1088.8 423.6 L1081.8 426.4 L1074.8 424.5 L1067.8 423.1 Z M1050.1 422.6 L1059.9 423.6 L1057.1 425.4 L1050.5 423.6 Z M1101.9 422.2 L1109.3 422.6 L1108.9 424.5 L1101.9 424.5 Z" fill="#b3dab0"/><path d="M1054.3 467.9 L1057.1 471.2 L1060.8 464.6 L1063.1 459.5 L1066.4 457.2 L1072.5 455.8 L1079.5 450.6 L1083.2 453.4 L1081.3 458.1 L1084.1 455.8 L1088.8 451.6 L1089.7 454.8 L1096.7 458.1 L1105.1 459.0 L1114.5 460.9 L1121.5 458.6 L1126.6 458.6 L1123.8 461.8 L1130.8 464.2 L1133.1 468.8 L1136.4 469.8 L1142.5 475.8 L1149.0 480.5 L1158.8 480.5 L1163.5 481.9 L1170.5 484.2 L1174.7 488.9 L1177.5 492.2 L1182.2 500.1 L1182.2 506.2 L1189.2 509.4 L1192.0 511.3 L1203.6 514.6 L1209.2 520.2 L1219.5 521.6 L1229.3 522.0 L1235.8 525.8 L1241.4 530.4 L1249.8 532.3 L1253.1 541.6 L1252.2 550.5 L1245.6 557.5 L1240.5 564.5 L1235.8 569.2 L1233.5 578.5 L1232.6 591.1 L1230.2 600.0 L1227.4 603.2 L1224.2 611.2 L1219.5 615.4 L1213.9 615.8 L1205.5 619.1 L1199.4 620.5 L1191.5 626.6 L1188.7 631.2 L1187.8 641.5 L1182.2 647.6 L1176.5 655.5 L1170.0 663.4 L1165.8 667.2 L1159.3 671.4 L1153.2 671.4 L1145.7 669.5 L1142.9 668.6 L1147.1 673.2 L1148.1 677.4 L1150.9 678.4 L1147.1 686.3 L1135.5 689.6 L1125.2 689.6 L1124.7 698.0 L1112.1 698.9 L1114.5 705.9 L1112.1 710.1 L1109.3 718.5 L1100.5 724.6 L1107.5 731.6 L1099.5 738.6 L1096.3 742.8 L1093.5 749.3 L1096.3 753.1 L1095.3 763.8 L1110.7 764.7 L1100.5 767.5 L1088.8 765.7 L1079.5 760.5 L1067.8 753.5 L1063.1 741.9 L1066.4 730.2 L1063.1 726.9 L1070.1 716.2 L1072.5 704.5 L1071.5 692.8 L1072.5 682.1 L1076.7 674.2 L1080.9 662.5 L1081.8 648.5 L1082.3 634.5 L1086.5 618.2 L1087.9 602.8 L1087.4 594.4 L1082.3 590.6 L1074.8 585.5 L1064.5 579.4 L1059.4 571.5 L1055.2 564.5 L1050.5 555.2 L1044.5 543.5 L1037.0 536.5 L1036.1 528.6 L1040.7 524.4 L1042.6 519.2 L1037.9 513.6 L1042.1 504.8 L1046.8 501.0 L1047.7 496.4 L1053.8 489.8 L1054.7 480.5 L1051.9 474.9 L1054.3 475.8 Z M1129.4 747.5 L1144.8 747.0 L1146.2 749.8 L1137.8 752.6 L1130.8 751.2 Z" fill="#a8d1a6"/><path d="M1388.0 341.4 L1390.8 341.0 L1401.5 343.8 L1406.2 344.7 L1415.5 341.4 L1421.1 338.2 L1429.5 336.8 L1441.2 336.8 L1452.8 336.3 L1460.8 334.4 L1463.6 336.8 L1466.8 335.4 L1464.5 340.5 L1467.3 344.2 L1462.6 348.9 L1469.2 354.0 L1477.1 355.0 L1486.4 357.3 L1488.3 362.0 L1497.2 363.8 L1504.2 367.1 L1508.8 363.8 L1509.3 358.2 L1515.8 355.0 L1523.3 356.4 L1532.2 360.1 L1541.5 362.0 L1555.0 362.9 L1560.2 361.0 L1566.2 362.4 L1575.1 362.4 L1578.4 370.8 L1575.6 378.3 L1572.3 375.5 L1567.6 369.0 L1568.1 375.5 L1573.2 382.0 L1578.8 391.8 L1582.1 397.0 L1587.7 405.8 L1589.1 412.8 L1589.6 417.5 L1595.2 424.5 L1598.9 434.3 L1603.1 438.5 L1610.1 445.5 L1616.6 449.2 L1617.6 453.9 L1623.2 460.0 L1627.8 459.0 L1637.2 456.7 L1646.5 455.8 L1654.0 453.4 L1654.9 460.0 L1652.6 465.6 L1646.5 475.8 L1639.5 487.5 L1632.5 496.8 L1626.9 499.2 L1618.5 505.7 L1611.5 512.2 L1606.8 517.8 L1603.1 521.6 L1600.3 527.6 L1598.9 540.2 L1599.8 545.8 L1601.2 555.2 L1604.0 557.5 L1605.0 566.8 L1605.4 576.2 L1604.5 580.8 L1598.4 586.9 L1587.7 592.5 L1578.8 600.9 L1580.2 608.8 L1581.2 619.1 L1569.5 626.6 L1567.6 629.8 L1569.0 639.2 L1562.5 646.2 L1560.2 648.0 L1555.5 654.6 L1546.2 661.6 L1536.8 666.2 L1522.8 667.2 L1508.8 670.9 L1501.4 668.1 L1500.4 661.6 L1496.2 650.8 L1492.5 642.0 L1486.9 634.5 L1483.2 615.8 L1477.1 604.2 L1470.6 589.2 L1472.4 579.4 L1474.8 570.6 L1478.5 564.5 L1477.1 550.5 L1472.9 537.0 L1471.5 531.8 L1466.8 526.2 L1460.3 519.7 L1458.9 513.2 L1459.4 506.6 L1459.8 498.2 L1460.3 490.3 L1455.6 487.5 L1448.2 488.0 L1443.0 488.4 L1437.9 480.5 L1431.4 478.6 L1421.1 480.0 L1410.8 484.7 L1406.2 486.1 L1396.8 484.2 L1380.5 488.0 L1372.1 483.8 L1362.3 476.3 L1353.9 468.8 L1347.8 460.0 L1343.2 455.8 L1337.6 450.6 L1337.1 445.5 L1333.8 439.9 L1338.5 432.9 L1339.9 423.6 L1338.5 417.5 L1336.2 410.5 L1340.8 398.8 L1346.4 389.5 L1354.8 379.2 L1364.2 375.5 L1369.8 370.4 L1370.7 366.6 L1369.8 361.5 L1375.8 353.1 L1380.0 351.7 L1383.8 349.4 L1386.6 344.2 Z M1645.6 564.5 L1650.7 580.8 L1647.0 588.8 L1641.8 601.8 L1637.2 619.6 L1635.3 625.2 L1626.4 628.0 L1619.4 618.2 L1619.4 617.2 L1621.8 606.5 L1622.7 599.5 L1620.8 587.8 L1630.2 582.2 L1637.2 576.2 L1640.9 570.6 Z" fill="#4d8458"/><path d="M1371.2 327.4 L1373.5 335.8 L1381.0 334.9 L1386.1 338.2 L1389.4 340.5 L1394.5 337.2 L1405.7 337.2 L1412.2 333.0 L1416.4 327.4 L1414.1 324.2 L1419.7 318.6 L1425.8 315.3 L1430.4 312.5 L1430.0 307.8 L1434.2 305.5 L1440.7 306.4 L1445.8 307.4 L1450.5 304.1 L1456.6 301.3 L1463.1 303.6 L1466.8 309.2 L1472.9 313.9 L1478.5 316.2 L1485.5 320.9 L1489.2 321.8 L1490.6 327.0 L1488.3 331.2 L1490.6 331.2 L1495.3 326.5 L1492.5 322.8 L1495.8 320.0 L1501.8 321.4 L1499.5 319.0 L1494.4 316.2 L1489.7 314.4 L1481.8 310.6 L1479.0 305.0 L1472.9 300.8 L1473.4 296.6 L1479.4 295.2 L1479.0 298.0 L1483.2 297.6 L1486.4 302.2 L1492.0 305.5 L1497.6 307.8 L1501.8 310.6 L1506.0 313.4 L1506.0 319.0 L1508.4 322.8 L1512.1 327.4 L1514.9 333.0 L1516.8 336.8 L1520.0 338.6 L1523.8 338.6 L1522.8 332.1 L1527.5 332.6 L1525.2 327.9 L1521.9 324.6 L1521.0 320.0 L1526.6 320.9 L1529.8 317.6 L1536.8 318.1 L1539.6 320.0 L1537.8 324.2 L1540.6 328.4 L1542.9 333.5 L1546.2 336.8 L1553.2 339.6 L1558.3 336.8 L1567.2 340.0 L1574.2 339.1 L1577.4 336.8 L1583.5 336.3 L1582.6 341.4 L1583.0 345.2 L1581.2 350.3 L1578.8 355.4 L1575.1 362.4 L1578.4 370.8 L1585.8 384.8 L1590.5 394.2 L1597.5 405.8 L1604.5 417.5 L1609.2 429.2 L1614.8 438.5 L1617.6 449.2 L1625.5 448.8 L1639.5 443.2 L1648.8 438.5 L1659.1 435.7 L1667.5 429.6 L1674.5 426.8 L1680.6 421.2 L1685.3 419.8 L1688.5 412.8 L1694.6 403.5 L1689.0 398.4 L1681.5 395.6 L1678.7 392.3 L1678.7 385.3 L1673.6 390.4 L1667.5 396.0 L1658.2 396.5 L1656.3 393.7 L1656.3 389.5 L1654.5 386.7 L1652.6 392.8 L1649.8 388.1 L1647.4 383.0 L1641.8 377.8 L1639.0 369.0 L1646.5 368.5 L1650.3 372.2 L1655.4 378.3 L1667.5 384.4 L1678.3 382.0 L1682.9 388.1 L1690.9 390.0 L1703.0 390.9 L1714.2 390.4 L1726.3 390.0 L1728.2 392.8 L1733.8 397.9 L1737.5 404.4 L1742.2 411.0 L1752.0 409.6 L1754.3 404.9 L1755.3 410.5 L1755.3 419.8 L1757.6 429.2 L1759.9 436.2 L1764.6 448.3 L1769.3 456.2 L1771.6 462.3 L1777.2 470.7 L1780.5 467.0 L1785.6 460.4 L1788.4 453.4 L1790.3 447.4 L1789.3 437.6 L1794.9 432.4 L1799.6 429.2 L1804.3 425.9 L1811.3 418.4 L1818.7 415.2 L1821.5 408.2 L1827.1 407.7 L1833.2 406.8 L1837.9 404.9 L1843.9 404.0 L1846.3 411.0 L1849.5 415.2 L1855.6 420.8 L1855.6 433.8 L1859.8 434.8 L1864.5 430.1 L1871.0 431.5 L1871.9 439.4 L1875.7 447.8 L1875.2 459.5 L1874.3 470.7 L1881.7 478.2 L1884.1 483.3 L1888.3 495.0 L1893.9 499.6 L1898.5 502.4 L1902.3 502.0 L1898.5 489.8 L1898.1 483.8 L1892.5 479.6 L1886.9 476.3 L1883.1 469.3 L1878.5 460.4 L1878.9 450.2 L1882.2 445.5 L1884.5 445.5 L1886.9 449.2 L1892.9 451.6 L1896.2 457.2 L1903.2 459.5 L1906.0 468.4 L1913.9 460.0 L1917.2 459.5 L1925.1 454.8 L1925.6 445.5 L1923.7 437.1 L1920.9 433.4 L1913.5 426.8 L1908.8 420.3 L1912.5 412.8 L1917.7 408.2 L1922.3 407.2 L1927.5 408.2 L1930.3 413.8 L1931.2 409.1 L1937.3 407.2 L1945.2 404.9 L1951.3 402.6 L1959.2 401.2 L1966.2 394.6 L1973.2 389.5 L1973.7 383.9 L1978.8 377.8 L1984.4 369.0 L1983.9 362.4 L1980.2 357.8 L1977.9 352.2 L1972.3 347.0 L1976.9 340.5 L1982.5 336.8 L1987.2 334.0 L1982.5 333.0 L1976.9 333.0 L1970.9 334.9 L1969.5 330.2 L1964.8 327.4 L1968.5 325.6 L1973.2 322.3 L1980.2 318.1 L1985.8 319.5 L1981.6 324.2 L1981.1 327.4 L1987.2 323.7 L1995.6 322.3 L1999.8 327.9 L2004.5 332.6 L2006.3 333.5 L2005.9 340.5 L2004.9 347.5 L2010.5 347.0 L2017.5 344.7 L2019.9 338.2 L2015.7 330.2 L2010.5 324.2 L2014.7 321.8 L2020.8 317.2 L2025.5 311.1 L2031.5 306.9 L2038.5 308.8 L2047.9 303.6 L2057.2 296.2 L2062.3 289.2 L2070.7 282.2 L2071.2 275.1 L2075.4 264.9 L2073.5 259.7 L2064.2 256.5 L2057.2 256.5 L2046.5 253.2 L2054.9 244.8 L2071.2 236.9 L2078.2 233.1 L2092.2 231.3 L2110.9 229.9 L2122.6 232.7 L2136.6 232.2 L2138.9 223.8 L2146.8 221.5 L2143.6 237.8 L2141.7 240.1 L2146.8 270.9 L2155.7 261.1 L2162.2 254.1 L2173.9 246.2 L2177.2 237.8 L2183.2 229.4 L2190.2 227.1 L2208.9 228.5 L2220.6 223.8 L2243.9 216.8 L2250.9 217.7 L2255.6 205.1 L2255.6 172.5 L1569.5 172.5 L1546.2 177.1 L1532.2 177.1 L1508.8 181.8 L1490.2 188.8 L1480.8 195.8 L1473.8 202.8 L1469.2 205.1 L1464.5 208.4 L1461.2 209.8 L1454.2 213.1 L1445.8 216.3 L1438.8 220.1 L1439.8 226.6 L1441.6 233.6 L1448.2 237.8 L1455.2 236.9 L1463.1 233.1 L1465.4 228.9 L1467.8 233.6 L1471.0 239.2 L1474.3 246.2 L1475.7 249.9 L1482.7 249.0 L1488.3 246.2 L1492.0 243.9 L1493.0 238.3 L1495.8 234.5 L1500.0 231.7 L1503.7 231.3 L1502.8 228.0 L1496.2 225.7 L1495.8 222.4 L1497.2 216.8 L1502.3 213.5 L1510.2 210.7 L1514.4 206.1 L1519.1 201.9 L1528.4 201.4 L1534.5 203.7 L1534.0 205.1 L1529.8 206.1 L1516.3 214.0 L1515.4 221.5 L1519.6 226.6 L1522.4 228.9 L1531.7 227.5 L1539.2 226.6 L1550.8 227.5 L1554.6 228.9 L1546.2 230.8 L1530.8 230.8 L1525.2 232.2 L1525.2 234.5 L1529.4 236.4 L1528.0 242.5 L1521.0 239.2 L1516.3 240.6 L1513.5 242.9 L1514.0 248.5 L1513.0 250.4 L1507.0 254.6 L1501.8 252.7 L1492.5 254.1 L1481.8 256.9 L1476.2 254.6 L1470.1 255.5 L1466.4 254.6 L1462.2 251.8 L1463.1 249.0 L1466.4 245.3 L1464.5 244.8 L1464.5 239.2 L1453.8 243.4 L1453.3 249.0 L1455.6 251.8 L1457.0 256.5 L1455.2 258.3 L1448.2 258.8 L1441.2 259.3 L1437.4 261.6 L1435.6 265.8 L1431.8 268.6 L1427.2 270.0 L1423.0 270.9 L1422.5 274.2 L1416.4 277.5 L1409.9 278.0 L1406.6 276.6 L1408.0 281.7 L1399.2 280.8 L1393.1 282.6 L1394.5 285.0 L1405.2 288.7 L1409.9 293.8 L1409.9 300.4 L1407.1 306.0 L1397.8 305.5 L1388.4 305.0 L1377.2 305.0 L1372.1 307.8 L1374.9 313.0 L1374.0 320.9 Z M575.4 200.5 L575.4 207.0 L591.8 205.6 L603.4 208.9 L610.0 207.5 L610.0 200.5 Z M1466.4 248.5 L1470.6 247.4 L1474.3 247.1 L1474.3 250.4 L1472.0 251.8 L1467.8 250.9 Z M1460.8 249.5 L1465.0 249.0 L1465.9 251.3 L1463.1 251.8 L1460.8 250.9 Z M1388.9 274.7 L1399.2 273.7 L1410.8 271.9 L1422.0 269.5 L1423.4 262.5 L1416.9 259.3 L1415.0 254.1 L1409.0 249.5 L1405.7 247.1 L1400.6 247.1 L1407.1 239.7 L1399.2 239.2 L1401.5 235.0 L1392.2 235.0 L1388.4 240.1 L1389.4 245.7 L1386.6 248.1 L1392.6 249.9 L1392.2 252.7 L1400.6 255.5 L1401.5 259.3 L1394.0 259.7 L1395.9 264.4 L1391.2 266.3 L1399.6 268.6 L1393.1 269.5 Z M1387.5 264.9 L1386.6 258.8 L1387.5 254.1 L1388.9 250.9 L1381.0 249.9 L1375.8 253.7 L1368.8 255.5 L1369.3 259.3 L1372.6 262.1 L1367.0 265.3 L1370.7 267.7 L1378.2 266.7 Z M1473.4 331.6 L1486.0 329.8 L1488.3 330.2 L1486.0 337.2 L1482.2 335.8 L1474.3 333.0 Z M1454.7 326.5 L1453.8 319.0 L1455.2 317.2 L1458.4 316.2 L1461.2 319.5 L1460.3 325.6 L1457.5 326.5 Z M1455.6 315.3 L1455.6 311.1 L1458.9 307.8 L1460.3 311.6 L1458.4 315.3 Z M1525.2 343.8 L1529.8 342.8 L1538.2 343.8 L1535.4 345.2 L1527.5 345.6 Z M1566.2 346.1 L1569.0 343.8 L1576.5 342.4 L1572.8 345.2 L1569.5 347.0 Z M1787.9 470.7 L1788.9 463.2 L1792.6 465.6 L1797.7 474.9 L1794.5 480.0 L1789.3 480.5 Z M1976.5 403.5 L1976.0 397.9 L1980.2 390.9 L1984.4 391.8 L1982.5 401.2 L1979.3 406.3 Z M1922.3 418.9 L1926.5 414.7 L1933.1 415.2 L1930.7 422.2 L1925.1 423.1 Z M2026.4 349.8 L2033.9 343.3 L2043.2 341.9 L2049.7 341.4 L2053.9 334.9 L2056.3 336.8 L2062.3 332.1 L2068.4 321.8 L2068.9 316.2 L2075.9 315.8 L2078.2 324.2 L2073.5 330.2 L2073.5 336.8 L2073.1 341.9 L2067.9 345.6 L2063.3 347.0 L2057.2 346.6 L2054.4 348.4 L2049.3 352.2 L2046.0 347.0 L2036.2 348.0 L2029.2 350.3 Z M2068.9 314.8 L2068.9 308.8 L2075.9 306.0 L2076.8 296.6 L2082.4 300.4 L2093.6 301.8 L2094.5 306.9 L2084.3 312.5 L2075.4 310.2 Z M2021.3 354.0 L2023.1 350.3 L2027.3 350.3 L2031.1 354.0 L2028.3 362.0 L2023.1 362.9 L2023.6 356.8 Z M2033.4 354.5 L2035.7 349.4 L2043.7 348.9 L2044.1 350.8 L2037.6 353.1 Z M2079.1 293.8 L2077.3 282.2 L2078.7 268.1 L2081.0 255.1 L2084.3 263.5 L2083.3 277.5 L2089.9 279.8 L2085.2 291.5 Z M1974.6 432.0 L1977.4 422.2 L1981.1 421.7 L1986.3 422.6 L1985.3 430.1 L1983.0 435.2 L1984.4 442.2 L1994.7 447.4 L1991.9 448.8 L1983.0 443.6 L1978.3 444.1 L1978.3 439.4 Z M1984.9 475.8 L1991.9 468.8 L2000.7 462.8 L2006.3 474.0 L2004.5 479.1 L2000.7 482.4 L1994.7 478.2 L1990.9 474.0 Z M1984.9 459.5 L1992.3 456.2 L1998.9 450.2 L2002.6 457.2 L1998.9 462.3 L1991.9 465.6 L1987.2 464.6 L1984.4 460.4 Z M1962.5 469.3 L1969.9 460.9 L1973.7 455.3 L1972.3 460.0 L1964.3 468.4 Z M1859.8 482.4 L1870.5 484.2 L1883.6 496.8 L1899.9 507.1 L1903.7 516.4 L1910.2 522.5 L1909.3 535.6 L1903.2 536.0 L1892.9 527.2 L1886.4 518.8 L1878.5 507.6 L1875.7 500.6 L1869.1 494.0 L1860.7 485.6 Z M1906.5 540.2 L1910.7 536.0 L1920.9 537.4 L1930.7 540.7 L1941.0 540.7 L1949.4 544.9 L1949.9 548.6 L1933.5 546.8 L1920.9 544.9 L1912.1 543.0 Z M1924.2 500.1 L1927.5 499.2 L1933.5 496.8 L1942.9 493.6 L1951.7 485.6 L1956.9 480.0 L1962.9 476.3 L1967.6 481.4 L1971.8 484.2 L1968.1 488.0 L1966.2 498.2 L1970.4 503.8 L1964.3 504.8 L1963.4 512.7 L1958.7 517.8 L1957.8 526.7 L1951.3 527.6 L1942.9 523.0 L1937.3 524.8 L1929.8 522.0 L1929.3 516.4 L1925.6 511.8 L1923.7 506.6 Z M1972.3 534.2 L1973.2 524.8 L1969.9 521.6 L1974.6 507.6 L1976.0 505.2 L1980.7 502.4 L1989.5 504.3 L1996.1 506.6 L1999.8 502.0 L1996.5 507.6 L1989.5 506.2 L1980.2 506.2 L1976.5 510.4 L1979.7 515.0 L1982.5 512.7 L1990.9 511.8 L1981.6 517.4 L1985.8 523.9 L1990.5 530.4 L1987.7 534.6 L1982.5 530.4 L1979.3 521.1 L1976.9 534.2 Z M2010.5 500.1 L2013.3 498.2 L2015.2 502.9 L2013.8 507.1 L2016.6 511.8 L2011.0 510.4 L2012.4 504.8 Z M2012.9 523.4 L2025.5 523.0 L2024.5 526.7 L2015.2 525.3 Z M1994.2 555.6 L1998.4 550.5 L2009.6 547.7 L2005.9 550.0 L1996.1 556.1 Z M1956.9 548.2 L1961.5 546.8 L1970.9 547.7 L1979.3 547.2 L1988.6 546.3 L1988.6 549.1 L1977.9 549.6 L1963.9 550.5 L1956.9 550.0 Z M2026.9 514.6 L2033.4 510.4 L2041.3 512.7 L2042.7 520.6 L2047.9 524.4 L2058.6 515.5 L2073.5 520.6 L2089.9 526.2 L2095.9 533.7 L2104.3 537.0 L2102.0 540.2 L2107.6 548.6 L2112.3 554.7 L2119.3 556.6 L2112.3 556.6 L2102.5 556.1 L2096.9 546.3 L2088.5 544.4 L2081.0 551.9 L2073.5 551.0 L2066.5 546.8 L2060.0 547.7 L2057.7 544.0 L2062.8 540.2 L2059.1 533.7 L2046.5 529.5 L2039.5 525.8 L2035.7 527.6 L2031.5 521.6 L2039.0 518.8 L2032.5 518.3 Z M2107.6 534.2 L2116.0 534.2 L2123.0 531.4 L2126.3 528.1 L2124.4 535.1 L2117.0 537.9 L2107.6 535.6 Z" fill="#8cbb8d"/><path d="M1944.7 611.2 L1948.5 610.7 L1960.1 604.6 L1970.9 601.8 L1980.2 599.5 L1985.8 589.7 L1992.3 584.6 L1999.8 576.2 L2008.7 572.9 L2014.7 578.5 L2020.3 578.0 L2023.6 568.2 L2034.3 565.0 L2034.3 561.7 L2042.7 565.0 L2052.5 564.0 L2053.9 568.7 L2049.7 572.0 L2047.9 578.5 L2055.3 582.7 L2065.6 589.7 L2072.6 590.2 L2076.3 579.0 L2075.9 569.6 L2078.7 560.3 L2081.9 560.8 L2085.7 574.8 L2094.1 578.5 L2098.3 596.7 L2109.9 603.7 L2114.1 613.0 L2119.3 614.0 L2130.0 626.6 L2132.4 642.0 L2130.0 653.2 L2122.6 663.0 L2116.0 678.4 L2115.1 683.5 L2103.4 686.8 L2098.3 691.0 L2091.7 685.8 L2085.2 689.6 L2071.7 685.8 L2067.0 683.0 L2065.1 674.6 L2060.0 674.6 L2061.9 669.0 L2058.6 662.0 L2055.8 670.0 L2050.2 671.8 L2046.5 669.5 L2041.8 662.0 L2028.3 655.5 L2013.8 657.8 L1999.3 661.6 L1992.3 666.7 L1975.5 666.7 L1965.7 672.3 L1955.0 665.3 L1955.5 656.0 L1951.7 645.7 L1944.7 632.2 L1948.5 631.2 L1944.7 622.4 L1947.1 614.0 Z M2090.3 698.4 L2107.6 699.4 L2106.7 708.7 L2101.1 712.0 L2093.1 705.4 Z M2221.0 669.0 L2229.0 675.1 L2233.6 682.1 L2236.9 684.0 L2246.2 684.0 L2248.6 688.6 L2243.0 691.9 L2241.1 695.6 L2233.2 702.6 L2230.4 701.2 L2233.2 697.0 L2228.5 692.4 L2231.3 685.8 L2228.5 678.8 Z M2221.5 697.5 L2228.5 701.2 L2227.1 705.9 L2221.5 712.0 L2214.5 715.7 L2211.7 722.7 L2205.6 726.0 L2193.0 723.6 L2193.5 719.0 L2201.4 714.3 L2211.7 709.2 L2218.7 701.2 Z" fill="#b3dab0"/><g clip-path="url(#cl_nam)"><path d="M840.1 279.8 L971.2 279.8 L971.2 278.0 L974.0 281.2 L981.5 281.7 L995.5 284.0 L997.8 284.5 L1002.9 283.1 L1019.7 291.5 L1023.5 293.8 L1030.5 297.1 L1030.9 307.8 L1027.7 311.1 L1029.5 313.9 L1037.5 311.1 L1046.8 308.3 L1046.8 305.5 L1058.5 303.2 L1066.9 298.5 L1081.8 298.5 L1084.6 297.1 L1087.9 292.4 L1092.5 287.3 L1097.2 287.8 L1099.1 288.7 L1099.1 295.2 L1102.3 298.0 L1107.5 303.2 L1182.2 303.2 L1182.2 181.8 L757.5 181.8 L757.5 227.1 L766.8 227.1 L773.8 232.2 L783.1 229.4 L792.5 235.5 L801.8 244.8 L808.8 247.6 L808.8 253.2 L799.5 256.5 L827.5 283.1 L840.1 283.1 Z" fill="#a0c89f" stroke="#fff" stroke-width="1.6" stroke-linejoin="round"/><path d="M869.0 356.8 L880.2 355.9 L897.5 362.4 L910.5 362.4 L910.5 360.1 L918.5 360.1 L927.8 370.4 L934.3 373.2 L937.6 369.4 L942.3 369.4 L951.1 380.2 L961.9 387.6 L967.5 391.8 L979.1 419.8 L993.1 405.8 L1011.8 405.8 L1007.1 420.8 L1003.4 422.2 L999.7 425.4 L990.8 425.4 L990.8 428.0 L988.9 428.0 L993.6 433.4 L987.5 433.4 L985.2 437.1 L985.2 440.8 L981.5 447.8 L855.5 415.2 L864.8 356.8 Z" fill="#a0c89f" stroke="#fff" stroke-width="1.6" stroke-linejoin="round"/><path d="M985.2 440.8 L985.2 437.1 L987.5 433.4 L993.6 433.4 L988.9 428.0 L990.8 428.0 L990.8 425.4 L999.4 425.4 L999.2 434.3 L1003.9 435.2 L999.2 439.0 L998.5 441.3 L995.0 444.3 L990.8 447.8 Z" fill="#6e9f70" stroke="#fff" stroke-width="1.6" stroke-linejoin="round"/><path d="M999.4 425.4 L1003.4 422.2 L1007.1 422.2 L1003.9 433.8 L999.2 434.3 Z" fill="#a0c89f" stroke="#fff" stroke-width="1.6" stroke-linejoin="round"/><path d="M1003.9 435.2 L999.2 439.0 L998.5 441.3 L1002.5 443.6 L1005.7 443.6 L1007.6 447.8 L1010.9 446.4 L1015.5 443.2 L1019.3 439.4 L1027.2 438.5 L1028.1 429.2 L1004.8 429.2 Z" fill="#7aab7c" stroke="#fff" stroke-width="1.6" stroke-linejoin="round"/><path d="M998.5 441.3 L1002.5 443.6 L1005.7 443.6 L1006.2 446.9 L995.0 445.5 L995.0 444.3 Z" fill="#8cba8b" stroke="#fff" stroke-width="1.6" stroke-linejoin="round"/><path d="M1007.6 447.8 L1010.9 446.4 L1015.5 443.2 L1019.3 439.4 L1027.2 438.5 L1030.5 438.5 L1025.8 457.6 L1025.3 457.6 L1015.5 456.7 L1004.8 457.2 L1006.2 448.3 Z" fill="#8cba8b" stroke="#fff" stroke-width="1.6" stroke-linejoin="round"/><path d="M1025.3 457.6 L1015.5 456.7 L1011.8 461.8 L1028.1 472.1 L1028.6 470.7 L1030.0 463.7 L1032.8 461.8 Z" fill="#a0c89f" stroke="#fff" stroke-width="1.6" stroke-linejoin="round"/><path d="M1028.6 470.7 L1030.0 463.7 L1054.3 465.6 L1055.2 473.0 L1053.3 475.8 L1042.1 478.2 L1028.1 473.5 Z" fill="#a0c89f" stroke="#fff" stroke-width="1.6" stroke-linejoin="round"/></g><g clip-path="url(#cl_grl)"><path d="M1294.2 219.1 L1359.5 219.1 L1359.5 195.8 L1294.2 195.8 Z" fill="#b8dcb5" stroke="#fff" stroke-width="1.6" stroke-linejoin="round"/></g><g clip-path="url(#cl_car)"><path d="M1014.1 410.5 L1070.1 419.8 L1070.1 410.5 L1014.1 396.5 Z" fill="#b3dab0" stroke="#fff" stroke-width="1.6" stroke-linejoin="round"/><path d="M1065.5 429.2 L1080.9 426.8 L1080.9 423.1 L1079.9 418.9 L1080.9 413.8 L1065.5 412.8 Z" fill="#8cba8b" stroke="#fff" stroke-width="1.6" stroke-linejoin="round"/><path d="M1080.9 426.8 L1080.9 423.1 L1079.9 418.9 L1080.9 413.8 L1100.5 413.8 L1100.5 429.2 Z" fill="#a8d1a6" stroke="#fff" stroke-width="1.6" stroke-linejoin="round"/><path d="M1046.8 429.2 L1061.3 429.2 L1061.3 419.8 L1046.8 419.8 Z" fill="#a0c89f" stroke="#fff" stroke-width="1.6" stroke-linejoin="round"/><path d="M1098.1 426.8 L1112.1 426.8 L1112.1 419.8 L1098.1 419.8 Z" fill="#b3dab0" stroke="#fff" stroke-width="1.6" stroke-linejoin="round"/></g><g clip-path="url(#cl_sam)"><path d="M1054.3 467.9 L1065.5 454.8 L1082.7 450.2 L1082.7 453.4 L1077.1 457.2 L1078.1 469.8 L1077.1 474.0 L1088.3 476.3 L1099.1 479.6 L1100.5 485.2 L1099.1 487.5 L1101.4 498.2 L1103.3 502.9 L1091.1 503.4 L1089.7 505.7 L1088.8 510.8 L1090.7 515.5 L1089.3 528.1 L1085.5 526.2 L1075.3 519.7 L1067.8 513.2 L1064.1 509.0 L1058.5 507.1 L1053.8 504.8 L1044.5 501.5 L1046.8 473.5 L1051.9 474.9 Z" fill="#93bf93" stroke="#fff" stroke-width="1.6" stroke-linejoin="round"/><path d="M1082.7 453.4 L1077.1 457.2 L1078.1 469.8 L1077.1 474.0 L1088.3 476.3 L1099.1 479.6 L1100.5 485.2 L1099.1 487.5 L1101.4 498.2 L1103.3 502.9 L1107.5 504.8 L1113.1 502.4 L1116.3 499.2 L1114.0 495.4 L1115.9 490.8 L1121.5 490.8 L1123.8 488.9 L1130.8 487.5 L1132.2 484.2 L1128.9 481.0 L1129.9 477.2 L1134.1 474.9 L1135.5 468.8 L1136.4 469.8 L1140.1 464.2 L1130.8 454.8 L1098.1 452.5 L1084.1 448.8 Z" fill="#b3dab0" stroke="#fff" stroke-width="1.6" stroke-linejoin="round"/><path d="M1136.4 469.8 L1135.5 468.8 L1134.1 474.9 L1129.9 477.2 L1128.9 481.0 L1132.2 484.2 L1135.0 487.5 L1137.3 490.3 L1136.4 496.8 L1137.8 500.1 L1142.0 502.4 L1147.1 500.1 L1149.5 496.8 L1147.1 492.2 L1148.5 484.2 L1149.0 480.5 L1149.5 473.5 L1140.1 466.5 Z" fill="#2f6c40" stroke="#fff" stroke-width="1.6" stroke-linejoin="round"/><path d="M1149.0 480.5 L1148.5 484.2 L1147.1 492.2 L1149.5 496.8 L1154.1 499.6 L1158.8 496.8 L1163.0 498.2 L1161.6 493.6 L1163.5 489.8 L1163.5 481.4 L1158.8 478.2 L1149.5 475.8 Z" fill="#8fbb8e" stroke="#fff" stroke-width="1.6" stroke-linejoin="round"/><path d="M1163.5 481.4 L1163.5 489.8 L1161.6 493.6 L1163.0 498.2 L1168.6 498.2 L1172.8 493.6 L1174.7 488.9 L1172.8 480.5 L1163.5 478.2 Z" fill="#ececec" stroke="#fff" stroke-width="1.6" stroke-linejoin="round"/><path d="M1047.7 502.0 L1053.8 504.8 L1058.5 507.1 L1064.1 509.0 L1062.7 512.7 L1058.0 520.6 L1052.4 522.5 L1049.6 524.8 L1048.2 530.0 L1044.9 529.5 L1040.7 524.4 L1035.1 522.5 L1035.1 501.5 Z" fill="#7aab7c" stroke="#fff" stroke-width="1.6" stroke-linejoin="round"/><path d="M1040.7 524.4 L1044.9 529.5 L1048.2 530.0 L1049.6 524.8 L1052.4 522.5 L1058.0 520.6 L1062.7 512.7 L1064.1 509.0 L1067.8 513.2 L1075.3 519.7 L1085.5 526.2 L1089.3 528.1 L1086.0 529.5 L1075.3 533.2 L1073.4 539.3 L1070.1 543.5 L1072.9 551.9 L1078.1 554.2 L1086.0 552.8 L1086.5 559.8 L1090.7 559.8 L1094.9 566.8 L1091.6 578.0 L1093.9 583.6 L1090.7 589.2 L1087.4 594.4 L1032.8 592.5 L1032.8 522.5 Z" fill="#93bf93" stroke="#fff" stroke-width="1.6" stroke-linejoin="round"/><path d="M1090.7 559.8 L1094.9 566.8 L1091.6 578.0 L1093.9 583.6 L1090.7 589.2 L1093.0 595.3 L1095.8 604.2 L1099.1 614.9 L1106.5 610.2 L1114.9 613.0 L1122.9 612.1 L1127.1 601.8 L1135.5 598.6 L1143.9 601.8 L1145.7 597.2 L1142.9 584.6 L1134.5 584.6 L1133.1 573.8 L1127.1 571.5 L1115.4 566.4 L1110.7 559.4 L1104.7 554.7 L1095.8 559.8 Z" fill="#80ac80" stroke="#fff" stroke-width="1.6" stroke-linejoin="round"/><path d="M1122.9 612.1 L1127.1 601.8 L1135.5 598.6 L1143.9 601.8 L1145.3 611.6 L1155.1 612.6 L1156.9 620.5 L1162.1 621.0 L1160.7 628.0 L1159.7 635.4 L1151.8 636.8 L1142.0 635.9 L1145.7 625.6 L1130.8 618.2 Z" fill="#6e9f70" stroke="#fff" stroke-width="1.6" stroke-linejoin="round"/><path d="M1087.4 594.4 L1090.7 589.2 L1093.0 595.3 L1095.8 604.2 L1099.1 614.9 L1101.9 619.1 L1095.8 625.2 L1095.3 634.5 L1090.2 648.5 L1088.8 662.5 L1087.4 674.2 L1084.1 685.8 L1081.3 697.5 L1080.4 713.8 L1081.3 723.2 L1078.1 732.5 L1073.4 741.9 L1078.1 748.9 L1088.8 752.6 L1096.3 753.1 L1095.3 769.9 L1042.1 769.9 L1042.1 592.5 Z" fill="#b3dab0" stroke="#fff" stroke-width="1.6" stroke-linejoin="round"/><path d="M1099.1 614.9 L1106.5 610.2 L1114.9 613.0 L1122.9 612.1 L1130.8 618.2 L1145.7 625.6 L1142.0 635.9 L1151.8 636.8 L1159.7 635.4 L1160.7 628.0 L1164.4 632.2 L1155.5 639.2 L1146.7 649.4 L1143.9 660.2 L1142.9 667.2 L1149.5 676.5 L1158.8 695.2 L1135.5 769.9 L1095.3 769.9 L1096.3 753.1 L1088.8 752.6 L1078.1 748.9 L1073.4 741.9 L1078.1 732.5 L1081.3 723.2 L1080.4 713.8 L1081.3 697.5 L1084.1 685.8 L1087.4 674.2 L1088.8 662.5 L1090.2 648.5 L1095.3 634.5 L1095.8 625.2 L1101.9 619.1 Z" fill="#b3dab0" stroke="#fff" stroke-width="1.6" stroke-linejoin="round"/><path d="M1142.9 667.2 L1143.9 660.2 L1146.7 649.4 L1154.1 649.0 L1156.0 652.2 L1163.5 656.9 L1166.3 665.8 L1168.1 669.5 L1158.8 674.2 L1142.9 670.9 Z" fill="#b8dcb5" stroke="#fff" stroke-width="1.6" stroke-linejoin="round"/><path d="M1126.1 741.9 L1154.1 741.9 L1154.1 755.9 L1126.1 755.9 Z" fill="#ececec" stroke="#fff" stroke-width="1.6" stroke-linejoin="round"/></g><g clip-path="url(#cl_afr)"><path d="M1407.3 344.7 L1407.1 347.5 L1407.6 353.6 L1399.2 360.6 L1391.2 368.5 L1374.9 374.6 L1374.9 379.2 L1353.9 379.2 L1340.8 382.5 L1359.5 335.8 L1406.2 335.8 Z" fill="#6a9e6d" stroke="#fff" stroke-width="1.6" stroke-linejoin="round"/><path d="M1374.9 379.2 L1374.9 387.2 L1359.5 387.2 L1359.5 398.8 L1354.4 402.1 L1354.8 409.1 L1335.7 410.5 L1331.5 405.8 L1340.8 382.5 L1353.9 379.2 Z" fill="#ececec" stroke="#fff" stroke-width="1.6" stroke-linejoin="round"/><path d="M1335.7 410.5 L1354.8 409.1 L1354.4 402.1 L1359.5 398.8 L1359.5 387.2 L1374.9 387.2 L1374.9 381.1 L1393.1 391.8 L1389.8 432.0 L1390.8 436.2 L1362.3 435.7 L1358.6 439.4 L1348.8 431.0 L1338.5 432.9 L1331.5 429.2 Z" fill="#6a9e6d" stroke="#fff" stroke-width="1.6" stroke-linejoin="round"/><path d="M1407.3 344.7 L1406.2 335.8 L1457.5 333.5 L1455.6 336.3 L1454.2 344.2 L1451.0 348.4 L1450.5 353.6 L1458.0 358.7 L1459.8 367.1 L1461.7 373.2 L1460.8 380.2 L1461.7 385.3 L1463.1 393.7 L1469.2 395.1 L1471.5 398.8 L1450.5 411.0 L1442.6 418.0 L1435.6 418.9 L1430.4 416.1 L1421.1 410.0 L1393.1 391.8 L1374.9 381.1 L1374.9 374.6 L1391.2 368.5 L1399.2 360.6 L1407.6 353.6 L1407.1 347.5 Z" fill="#85b486" stroke="#fff" stroke-width="1.6" stroke-linejoin="round"/><path d="M1455.6 336.3 L1457.5 333.5 L1471.5 333.5 L1469.2 354.0 L1463.6 361.0 L1462.6 367.1 L1459.8 367.1 L1458.0 358.7 L1450.5 353.6 L1451.0 348.4 L1454.2 344.2 Z" fill="#85b486" stroke="#fff" stroke-width="1.6" stroke-linejoin="round"/><path d="M1469.2 354.0 L1533.1 356.8 L1532.2 405.8 L1532.2 415.2 L1527.5 415.2 L1527.5 417.5 L1489.7 399.3 L1481.8 403.0 L1471.5 398.8 L1469.2 395.1 L1463.1 393.7 L1461.7 385.3 L1460.8 380.2 L1461.7 373.2 L1459.8 367.1 L1462.6 367.1 L1463.6 361.0 Z" fill="#9ec79d" stroke="#fff" stroke-width="1.6" stroke-linejoin="round"/><path d="M1532.2 360.1 L1533.1 356.8 L1575.1 361.5 L1578.4 370.8 L1583.5 377.8 L1588.2 405.8 L1587.7 405.8 L1532.2 405.8 Z" fill="#4d8458" stroke="#fff" stroke-width="1.6" stroke-linejoin="round"/><path d="M1532.2 405.8 L1587.7 405.8 L1595.6 424.5 L1590.0 429.2 L1585.4 441.3 L1584.0 449.2 L1579.3 453.4 L1575.6 459.5 L1574.6 464.2 L1569.5 461.8 L1565.8 452.0 L1557.8 462.8 L1549.9 463.7 L1541.5 463.7 L1534.5 460.4 L1527.5 466.5 L1522.4 457.6 L1520.0 449.7 L1518.2 445.5 L1521.0 443.2 L1525.2 435.2 L1527.5 417.5 L1527.5 415.2 L1532.2 415.2 Z" fill="#3a7049" stroke="#fff" stroke-width="1.6" stroke-linejoin="round"/><path d="M1574.6 464.2 L1569.5 461.8 L1565.8 452.0 L1557.8 462.8 L1549.9 463.7 L1541.5 463.7 L1534.5 460.4 L1527.5 466.5 L1528.9 469.8 L1533.6 473.5 L1539.2 480.5 L1543.4 484.7 L1548.0 488.4 L1553.2 487.0 L1559.2 492.2 L1564.8 491.7 L1571.8 490.8 L1574.2 488.9 L1583.0 487.0 L1577.0 480.5 L1570.4 472.1 L1574.2 469.3 Z" fill="#1a5530" stroke="#fff" stroke-width="1.6" stroke-linejoin="round"/><path d="M1585.4 441.3 L1590.0 429.2 L1595.6 424.5 L1598.9 433.8 L1610.1 445.5 L1616.6 449.2 L1613.4 450.2 L1605.9 442.7 L1595.2 440.8 L1590.5 442.2 Z" fill="#2a6a3c" stroke="#fff" stroke-width="1.6" stroke-linejoin="round"/><path d="M1616.6 449.2 L1613.4 450.2 L1610.6 454.4 L1615.2 457.6 L1617.6 453.9 Z" fill="#b3dab0" stroke="#fff" stroke-width="1.6" stroke-linejoin="round"/><path d="M1585.4 441.3 L1590.5 442.2 L1595.2 440.8 L1605.9 442.7 L1613.4 450.2 L1610.6 454.4 L1615.2 457.6 L1620.8 466.5 L1639.0 471.2 L1625.5 485.2 L1620.8 485.6 L1611.5 489.8 L1606.8 490.3 L1601.7 492.6 L1593.3 491.7 L1587.7 488.0 L1583.0 487.0 L1577.0 480.5 L1570.4 472.1 L1574.2 469.3 L1574.6 464.2 L1575.6 459.5 L1579.3 453.4 L1584.0 449.2 Z" fill="#1a5530" stroke="#fff" stroke-width="1.6" stroke-linejoin="round"/><path d="M1615.2 457.6 L1620.8 466.5 L1639.0 471.2 L1646.5 464.2 L1654.5 453.4 L1634.8 452.5 L1618.5 454.8 Z" fill="#ececec" stroke="#fff" stroke-width="1.6" stroke-linejoin="round"/><path d="M1639.0 471.2 L1625.5 485.2 L1620.8 485.6 L1611.5 489.8 L1606.8 490.3 L1606.8 516.4 L1611.5 515.5 L1658.2 494.5 L1658.2 461.8 L1646.5 464.2 Z" fill="#3f7a4e" stroke="#fff" stroke-width="1.6" stroke-linejoin="round"/><path d="M1606.8 490.3 L1601.7 492.6 L1593.3 491.7 L1587.7 488.0 L1583.0 487.0 L1574.2 488.9 L1573.7 508.0 L1574.6 513.2 L1591.0 522.5 L1598.4 530.4 L1602.2 527.2 L1609.6 516.4 L1606.8 515.5 Z" fill="#2a6a3c" stroke="#fff" stroke-width="1.6" stroke-linejoin="round"/><path d="M1573.7 508.0 L1574.2 488.9 L1571.8 490.8 L1564.8 491.7 L1559.2 492.2 L1558.8 497.8 L1555.5 503.8 L1553.6 512.2 L1557.8 513.6 L1564.4 513.2 L1574.6 513.2 Z" fill="#0f4d26" stroke="#fff" stroke-width="1.6" stroke-linejoin="round"/><path d="M1553.6 512.2 L1557.8 513.6 L1559.7 519.7 L1557.4 521.1 L1557.4 523.9 L1559.2 524.8 L1555.5 529.5 L1551.8 529.0 L1550.8 521.6 L1551.8 516.9 Z" fill="#0f4d26" stroke="#fff" stroke-width="1.6" stroke-linejoin="round"/><path d="M1574.6 513.2 L1591.0 522.5 L1598.4 530.4 L1602.2 541.2 L1604.5 557.5 L1597.5 559.8 L1590.5 562.6 L1582.6 562.2 L1577.0 560.8 L1574.2 552.8 L1569.0 552.4 L1560.2 548.6 L1557.4 541.2 L1552.7 536.0 L1555.5 529.5 L1559.2 524.8 L1557.4 523.9 L1557.4 521.1 L1559.7 519.7 L1557.8 513.6 L1564.4 513.2 Z" fill="#3a7049" stroke="#fff" stroke-width="1.6" stroke-linejoin="round"/><path d="M1559.2 492.2 L1553.2 487.0 L1548.0 488.4 L1543.4 484.7 L1539.2 485.2 L1532.2 484.2 L1522.8 486.6 L1520.0 489.8 L1511.2 488.0 L1506.5 484.7 L1501.8 491.7 L1500.0 500.1 L1498.6 510.8 L1494.4 514.1 L1491.1 518.8 L1489.7 526.7 L1483.6 531.8 L1476.2 530.9 L1472.9 537.0 L1475.7 536.0 L1492.5 536.0 L1494.8 543.5 L1505.1 545.4 L1506.5 541.2 L1517.2 542.6 L1517.7 552.8 L1519.6 559.8 L1527.0 559.4 L1527.5 561.2 L1533.6 560.8 L1536.8 564.0 L1542.9 562.6 L1547.1 565.9 L1550.8 571.0 L1553.6 570.1 L1553.6 565.4 L1548.0 563.6 L1549.0 550.5 L1552.7 536.0 L1551.8 529.0 L1550.8 521.6 L1551.8 516.9 L1553.6 512.2 L1555.5 503.8 L1558.8 497.8 Z" fill="#ececec" stroke="#fff" stroke-width="1.6" stroke-linejoin="round"/><path d="M1482.7 479.1 L1487.8 473.5 L1493.4 473.5 L1498.6 471.6 L1503.2 467.0 L1508.8 466.5 L1516.8 459.0 L1522.4 457.6 L1527.5 466.5 L1528.9 469.8 L1533.6 473.5 L1539.2 480.5 L1543.4 484.7 L1539.2 485.2 L1532.2 484.2 L1522.8 486.6 L1520.0 489.8 L1511.2 488.0 L1506.5 484.7 L1501.8 491.7 L1492.5 492.2 L1487.8 490.8 L1485.5 482.8 Z" fill="#4d8458" stroke="#fff" stroke-width="1.6" stroke-linejoin="round"/><path d="M1489.7 399.3 L1527.5 417.5 L1525.2 435.2 L1521.0 443.2 L1518.2 445.5 L1520.0 449.7 L1522.4 457.6 L1516.8 459.0 L1508.8 466.5 L1503.2 467.0 L1498.6 471.6 L1493.4 473.5 L1487.8 473.5 L1486.4 467.9 L1481.8 461.8 L1485.5 460.4 L1486.0 454.8 L1483.2 450.2 L1480.8 446.9 L1479.0 443.2 L1486.9 434.3 L1487.8 411.4 L1481.8 403.0 Z" fill="#245f37" stroke="#fff" stroke-width="1.6" stroke-linejoin="round"/><path d="M1471.5 398.8 L1481.8 403.0 L1487.8 411.4 L1486.9 434.3 L1479.0 443.2 L1472.9 446.9 L1463.1 446.9 L1456.6 448.3 L1447.7 447.4 L1436.5 444.6 L1432.3 453.9 L1428.1 451.1 L1424.8 449.7 L1420.2 447.8 L1417.4 443.2 L1416.4 439.0 L1431.8 436.6 L1435.1 429.6 L1435.6 418.9 L1442.6 418.0 L1450.5 411.0 Z" fill="#1f5c33" stroke="#fff" stroke-width="1.6" stroke-linejoin="round"/><path d="M1358.6 439.4 L1362.3 435.7 L1390.8 436.2 L1389.8 432.0 L1393.1 391.8 L1421.1 410.0 L1430.4 416.1 L1435.6 418.9 L1435.1 429.6 L1431.8 436.6 L1416.4 439.0 L1412.2 438.0 L1406.2 442.2 L1401.0 445.0 L1395.4 446.9 L1391.2 455.3 L1389.8 460.0 L1383.8 460.4 L1377.2 461.4 L1375.8 455.3 L1372.1 450.6 L1365.6 453.0 L1362.3 450.6 Z" fill="#437a51" stroke="#fff" stroke-width="1.6" stroke-linejoin="round"/><path d="M1416.4 439.0 L1417.4 443.2 L1420.2 447.8 L1424.8 449.7 L1425.8 453.9 L1419.7 457.2 L1415.0 456.7 L1402.0 457.2 L1402.9 464.2 L1398.7 462.3 L1393.1 462.3 L1389.8 460.0 L1391.2 455.3 L1395.4 446.9 L1401.0 445.0 L1406.2 442.2 L1412.2 438.0 Z" fill="#2a6a3c" stroke="#fff" stroke-width="1.6" stroke-linejoin="round"/><path d="M1338.5 432.9 L1348.8 431.0 L1358.6 439.4 L1362.3 450.6 L1357.2 450.6 L1351.6 449.2 L1337.6 450.6 L1331.5 443.2 Z" fill="#5d9465" stroke="#fff" stroke-width="1.6" stroke-linejoin="round"/><path d="M1337.1 445.0 L1351.1 445.5 L1351.1 446.4 L1337.6 447.4 Z" fill="#6a9e6d" stroke="#fff" stroke-width="1.6" stroke-linejoin="round"/><path d="M1337.6 450.6 L1351.6 449.2 L1351.6 453.9 L1345.5 457.6 L1336.2 457.2 Z" fill="#5d9465" stroke="#fff" stroke-width="1.6" stroke-linejoin="round"/><path d="M1351.6 449.2 L1357.2 450.6 L1362.3 450.6 L1365.6 453.0 L1372.1 450.6 L1375.8 455.3 L1377.2 461.4 L1378.6 468.4 L1376.8 473.0 L1373.5 474.9 L1371.2 468.8 L1367.4 468.8 L1366.0 465.1 L1363.2 461.8 L1359.0 462.3 L1353.9 466.0 L1345.5 457.6 L1351.6 453.9 Z" fill="#3a7049" stroke="#fff" stroke-width="1.6" stroke-linejoin="round"/><path d="M1353.9 466.0 L1359.0 462.3 L1363.2 461.8 L1366.0 465.1 L1367.4 468.8 L1366.0 471.2 L1362.3 476.3 L1352.5 473.5 Z" fill="#4d8458" stroke="#fff" stroke-width="1.6" stroke-linejoin="round"/><path d="M1362.3 476.3 L1366.0 471.2 L1367.4 468.8 L1371.2 468.8 L1373.5 474.9 L1376.8 473.0 L1375.8 478.2 L1380.5 481.0 L1380.5 488.0 L1368.8 487.5 Z" fill="#6a9e6d" stroke="#fff" stroke-width="1.6" stroke-linejoin="round"/><path d="M1380.5 488.0 L1380.5 481.0 L1375.8 478.2 L1376.8 473.0 L1378.6 468.4 L1377.2 461.4 L1383.8 460.4 L1389.8 460.0 L1393.1 462.3 L1398.7 462.3 L1402.9 464.2 L1402.4 471.6 L1400.6 479.1 L1402.0 485.2 L1401.5 489.8 Z" fill="#5d9465" stroke="#fff" stroke-width="1.6" stroke-linejoin="round"/><path d="M1402.0 485.2 L1400.6 479.1 L1402.4 471.6 L1402.9 464.2 L1402.0 457.2 L1415.0 456.7 L1416.0 459.5 L1417.4 467.4 L1418.3 472.6 L1418.3 476.3 L1421.1 480.0 L1410.8 487.5 Z" fill="#5d9465" stroke="#fff" stroke-width="1.6" stroke-linejoin="round"/><path d="M1421.1 480.0 L1418.3 476.3 L1418.3 472.6 L1417.4 467.4 L1416.0 459.5 L1415.0 456.7 L1419.7 457.2 L1423.0 479.6 Z" fill="#4d8458" stroke="#fff" stroke-width="1.6" stroke-linejoin="round"/><path d="M1423.0 479.6 L1419.7 457.2 L1425.8 453.9 L1424.8 449.7 L1428.1 451.1 L1432.3 453.9 L1432.3 460.4 L1428.1 466.5 L1428.1 479.1 Z" fill="#4d8458" stroke="#fff" stroke-width="1.6" stroke-linejoin="round"/><path d="M1428.1 479.1 L1428.1 466.5 L1432.3 460.4 L1432.3 453.9 L1436.5 444.6 L1447.7 447.4 L1456.6 448.3 L1463.1 446.9 L1472.9 446.9 L1479.0 443.2 L1480.8 446.9 L1483.2 450.2 L1477.6 460.4 L1472.4 468.8 L1470.1 476.3 L1466.4 476.8 L1461.2 479.1 L1455.6 486.1 L1441.2 492.2 Z" fill="#5d9465" stroke="#fff" stroke-width="1.6" stroke-linejoin="round"/><path d="M1455.6 486.1 L1461.2 479.1 L1466.4 476.8 L1470.1 476.3 L1472.4 468.8 L1477.6 460.4 L1483.2 450.2 L1486.0 454.8 L1485.5 460.4 L1481.8 461.8 L1486.4 467.9 L1487.8 473.5 L1482.7 479.1 L1485.5 482.8 L1487.8 490.8 L1492.5 492.2 L1490.6 498.7 L1477.6 498.2 L1468.2 498.2 L1460.3 497.8 L1457.5 492.2 Z" fill="#6a9e6d" stroke="#fff" stroke-width="1.6" stroke-linejoin="round"/><path d="M1460.3 497.8 L1468.2 498.2 L1468.2 503.8 L1458.9 503.8 L1457.5 499.2 Z" fill="#6a9e6d" stroke="#fff" stroke-width="1.6" stroke-linejoin="round"/><path d="M1458.9 503.8 L1468.2 503.8 L1468.2 498.2 L1477.6 498.2 L1477.1 502.9 L1482.7 502.9 L1482.2 510.8 L1480.4 516.9 L1473.8 517.4 L1470.1 523.4 L1467.3 526.7 L1457.5 517.8 L1455.2 508.5 Z" fill="#b3dab0" stroke="#fff" stroke-width="1.6" stroke-linejoin="round"/><path d="M1477.6 498.2 L1490.6 498.7 L1492.5 492.2 L1501.8 491.7 L1500.0 500.1 L1498.6 510.8 L1494.4 514.1 L1491.1 518.8 L1489.7 526.7 L1483.6 531.8 L1476.2 530.9 L1472.4 532.3 L1467.3 526.7 L1470.1 523.4 L1473.8 517.4 L1480.4 516.9 L1482.2 510.8 L1482.7 502.9 L1477.1 502.9 Z" fill="#93bf93" stroke="#fff" stroke-width="1.6" stroke-linejoin="round"/><path d="M1472.9 537.0 L1475.7 536.0 L1492.5 536.0 L1494.8 543.5 L1505.1 545.4 L1506.5 541.2 L1517.2 542.6 L1517.7 552.8 L1519.6 559.8 L1527.0 559.4 L1527.5 569.2 L1518.2 569.2 L1518.2 584.1 L1524.7 590.6 L1513.5 592.5 L1501.8 589.7 L1478.5 587.8 L1470.6 589.2 L1462.2 578.5 L1469.2 536.5 Z" fill="#4d8458" stroke="#fff" stroke-width="1.6" stroke-linejoin="round"/><path d="M1527.5 561.2 L1533.6 560.8 L1536.8 564.0 L1542.9 562.6 L1547.1 565.9 L1550.8 571.0 L1553.6 570.1 L1553.6 565.4 L1548.0 563.6 L1549.0 550.5 L1559.2 547.2 L1569.0 552.4 L1570.9 558.9 L1570.4 566.8 L1568.1 572.0 L1556.4 577.6 L1556.9 581.3 L1550.8 583.2 L1545.2 587.4 L1539.2 591.6 L1533.6 591.1 L1524.7 590.6 L1518.2 584.1 L1518.2 569.2 L1527.5 569.2 L1527.0 559.4 Z" fill="#437a51" stroke="#fff" stroke-width="1.6" stroke-linejoin="round"/><path d="M1569.0 552.4 L1574.2 552.8 L1577.0 560.8 L1578.4 571.5 L1582.6 577.6 L1583.0 583.2 L1579.8 588.3 L1576.0 584.1 L1576.0 576.2 L1570.9 573.8 L1568.1 572.0 L1570.4 566.8 L1570.9 558.9 Z" fill="#1a5530" stroke="#fff" stroke-width="1.6" stroke-linejoin="round"/><path d="M1604.5 557.5 L1606.8 578.5 L1588.2 597.2 L1581.2 620.5 L1569.0 634.0 L1564.8 631.2 L1564.4 622.4 L1561.6 613.0 L1566.7 607.9 L1569.0 597.2 L1568.1 586.0 L1557.4 583.2 L1556.9 581.3 L1556.4 577.6 L1570.9 573.8 L1576.0 576.2 L1576.0 584.1 L1579.8 588.3 L1583.0 583.2 L1582.6 577.6 L1578.4 571.5 L1577.0 560.8 L1582.6 562.2 L1590.5 562.6 L1597.5 559.8 Z" fill="#3a7049" stroke="#fff" stroke-width="1.6" stroke-linejoin="round"/><path d="M1533.6 591.1 L1539.2 591.6 L1545.2 587.4 L1550.8 583.2 L1556.9 581.3 L1557.4 583.2 L1568.1 586.0 L1569.0 597.2 L1566.7 607.9 L1561.6 613.0 L1552.7 611.6 L1546.2 608.8 L1544.8 604.2 L1537.8 599.0 Z" fill="#3a7049" stroke="#fff" stroke-width="1.6" stroke-linejoin="round"/><path d="M1470.6 589.2 L1478.5 587.8 L1501.8 589.7 L1513.5 592.5 L1524.7 590.6 L1533.6 591.1 L1528.4 590.2 L1524.2 592.5 L1513.5 593.9 L1513.0 611.2 L1508.8 611.2 L1508.8 624.2 L1508.8 641.0 L1501.8 643.4 L1492.5 642.0 L1480.8 629.8 L1466.8 587.8 Z" fill="#55885d" stroke="#fff" stroke-width="1.6" stroke-linejoin="round"/><path d="M1513.0 611.2 L1513.5 593.9 L1524.2 592.5 L1528.4 590.2 L1533.6 591.1 L1537.8 599.0 L1544.8 604.2 L1546.2 608.8 L1552.7 611.6 L1542.0 618.6 L1536.8 623.8 L1534.5 628.4 L1523.8 626.6 L1516.3 633.1 L1508.8 624.2 L1508.8 611.2 Z" fill="#6a9e6d" stroke="#fff" stroke-width="1.6" stroke-linejoin="round"/><path d="M1492.5 642.0 L1501.8 643.4 L1508.8 641.0 L1508.8 624.2 L1516.3 633.1 L1523.8 626.6 L1534.5 628.4 L1536.8 623.8 L1542.0 618.6 L1552.7 611.6 L1561.6 613.0 L1564.4 622.4 L1564.8 631.2 L1569.0 634.0 L1569.5 639.2 L1564.8 671.8 L1494.8 671.8 L1485.5 643.8 Z" fill="#7aab7c" stroke="#fff" stroke-width="1.6" stroke-linejoin="round"/><path d="M1541.5 646.6 L1546.6 642.9 L1552.2 643.8 L1552.7 647.6 L1547.1 651.8 L1543.4 649.9 Z" fill="#4d8458" stroke="#fff" stroke-width="1.6" stroke-linejoin="round"/><path d="M1559.2 631.2 L1564.4 629.4 L1564.8 634.5 L1561.1 635.9 Z" fill="#2a6a3c" stroke="#fff" stroke-width="1.6" stroke-linejoin="round"/><path d="M1602.2 555.2 L1658.2 555.2 L1658.2 634.5 L1602.2 634.5 Z" fill="#3a7049" stroke="#fff" stroke-width="1.6" stroke-linejoin="round"/></g><g clip-path="url(#cl_eur)"><path d="M575.4 200.5 L575.4 207.0 L591.8 205.6 L603.4 208.9 L610.0 207.5 L610.0 200.5 Z" fill="#8cbb8d" stroke="#fff" stroke-width="1.6" stroke-linejoin="round"/><path d="M1468.7 233.1 L1472.9 226.1 L1472.4 220.1 L1472.0 213.5 L1481.8 207.5 L1487.8 199.5 L1499.5 188.8 L1555.5 181.8 L1555.5 172.5 L1415.5 172.5 L1415.5 240.1 L1452.8 240.1 Z" fill="#9bc69b" stroke="#fff" stroke-width="1.6" stroke-linejoin="round"/><path d="M1468.7 233.1 L1472.9 226.1 L1472.4 220.1 L1472.0 213.5 L1481.8 207.5 L1487.8 199.5 L1499.5 188.8 L1511.6 186.0 L1520.5 191.1 L1526.1 196.7 L1528.4 201.4 L1518.2 209.8 L1508.8 223.8 L1506.5 242.5 L1485.5 251.8 L1474.8 250.4 L1466.8 237.8 Z" fill="#a8cfa6" stroke="#fff" stroke-width="1.6" stroke-linejoin="round"/><path d="M1528.4 201.4 L1526.1 196.7 L1520.5 191.1 L1511.6 186.0 L1513.5 181.8 L1550.8 181.8 L1551.8 186.5 L1548.5 188.8 L1555.0 193.5 L1553.2 200.5 L1555.5 205.1 L1553.6 209.8 L1557.8 213.1 L1562.5 214.9 L1553.2 222.9 L1545.2 226.1 L1536.8 229.4 L1518.2 230.3 L1511.2 226.1 L1513.5 214.5 L1525.2 207.5 Z" fill="#a0c99f" stroke="#fff" stroke-width="1.6" stroke-linejoin="round"/><path d="M1546.6 230.8 L1543.4 233.6 L1544.8 238.7 L1536.8 238.7 L1532.2 237.8 L1528.9 238.3 L1522.8 235.5 L1518.2 233.1 L1527.5 229.9 L1547.1 229.9 Z" fill="#8cba8b" stroke="#fff" stroke-width="1.6" stroke-linejoin="round"/><path d="M1528.9 238.3 L1532.2 237.8 L1536.8 238.7 L1544.8 238.7 L1547.1 246.2 L1539.6 248.5 L1535.9 246.2 L1529.8 245.7 L1519.1 245.3 L1513.5 246.7 L1511.2 240.1 L1520.5 237.8 Z" fill="#85b486" stroke="#fff" stroke-width="1.6" stroke-linejoin="round"/><path d="M1513.5 246.7 L1519.1 245.3 L1529.8 245.7 L1535.9 246.2 L1539.6 248.5 L1539.2 250.9 L1535.9 252.3 L1534.5 255.1 L1527.0 256.5 L1524.2 255.1 L1521.4 254.6 L1520.5 251.3 L1514.4 250.9 L1511.2 249.5 Z" fill="#85b486" stroke="#fff" stroke-width="1.6" stroke-linejoin="round"/><path d="M1527.0 256.5 L1534.5 255.1 L1535.9 252.3 L1539.2 250.9 L1539.6 248.5 L1547.1 246.2 L1559.7 249.0 L1559.7 252.3 L1568.1 259.7 L1563.9 265.3 L1557.8 268.1 L1548.5 267.7 L1539.2 266.7 L1527.5 267.7 L1525.6 264.4 L1523.8 263.0 L1526.6 260.7 Z" fill="#9ec79d" stroke="#fff" stroke-width="1.6" stroke-linejoin="round"/><path d="M1481.8 256.9 L1483.6 263.0 L1484.1 265.8 L1485.5 270.0 L1491.6 272.3 L1494.4 273.3 L1502.3 276.1 L1506.5 277.5 L1511.6 278.0 L1521.0 279.4 L1528.0 272.8 L1525.6 268.1 L1527.5 267.7 L1525.6 264.4 L1523.8 263.0 L1526.6 260.7 L1524.2 255.1 L1521.4 254.6 L1507.0 254.6 L1494.8 250.9 L1481.8 253.7 Z" fill="#72a476" stroke="#fff" stroke-width="1.6" stroke-linejoin="round"/><path d="M1443.5 258.3 L1449.1 260.2 L1448.2 264.9 L1444.0 266.3 L1443.0 270.5 L1444.0 271.4 L1445.4 273.7 L1444.0 274.7 L1445.4 277.5 L1453.8 279.8 L1451.0 286.4 L1455.6 285.4 L1460.3 286.8 L1463.1 287.8 L1464.5 286.4 L1472.4 285.9 L1476.2 286.8 L1475.2 283.6 L1479.9 281.7 L1473.8 277.5 L1472.0 273.7 L1484.6 270.9 L1485.5 270.0 L1484.1 265.8 L1483.6 263.0 L1481.8 256.9 L1466.8 254.1 L1460.8 252.7 L1453.8 251.8 L1443.5 255.5 Z" fill="#93bf93" stroke="#fff" stroke-width="1.6" stroke-linejoin="round"/><path d="M1449.1 260.2 L1448.2 264.9 L1444.0 266.3 L1443.0 270.5 L1442.1 271.4 L1442.6 269.5 L1438.8 268.1 L1435.6 268.6 L1431.4 268.6 L1429.5 265.8 L1436.5 258.8 L1443.5 258.3 Z" fill="#b3dab0" stroke="#fff" stroke-width="1.6" stroke-linejoin="round"/><path d="M1431.4 268.6 L1435.6 268.6 L1438.8 268.1 L1442.6 269.5 L1442.1 271.4 L1444.0 271.4 L1445.4 273.7 L1444.0 274.7 L1442.6 277.0 L1438.4 276.1 L1435.1 275.6 L1427.6 271.4 L1427.2 270.0 L1429.5 267.7 Z" fill="#c5e4c1" stroke="#fff" stroke-width="1.6" stroke-linejoin="round"/><path d="M1427.2 270.0 L1427.6 271.4 L1435.1 275.6 L1438.4 276.1 L1442.6 277.5 L1445.4 277.5 L1453.8 279.8 L1451.0 286.4 L1448.2 287.3 L1444.0 291.0 L1444.0 292.9 L1448.2 294.3 L1448.6 297.1 L1446.3 298.0 L1448.2 302.2 L1450.5 304.1 L1443.5 310.2 L1430.4 310.6 L1423.4 310.2 L1415.5 309.2 L1407.1 306.0 L1387.5 289.2 L1387.5 279.8 L1424.8 268.1 Z" fill="#9ec79d" stroke="#fff" stroke-width="1.6" stroke-linejoin="round"/><path d="M1444.0 292.9 L1448.2 294.3 L1452.4 294.3 L1454.7 292.0 L1457.5 294.8 L1459.8 292.4 L1464.5 291.5 L1464.5 289.6 L1460.3 286.8 L1455.6 285.4 L1451.0 286.4 L1448.2 287.3 L1444.0 291.0 Z" fill="#8cba8b" stroke="#fff" stroke-width="1.6" stroke-linejoin="round"/><path d="M1460.3 286.8 L1464.5 289.6 L1472.0 289.2 L1473.4 290.6 L1479.4 291.5 L1486.9 290.6 L1490.6 289.6 L1492.5 285.9 L1495.3 284.5 L1494.4 281.7 L1485.5 279.8 L1479.9 281.7 L1475.2 283.6 L1476.2 286.8 L1472.4 285.9 L1464.5 286.4 L1463.1 287.8 Z" fill="#83b384" stroke="#fff" stroke-width="1.6" stroke-linejoin="round"/><path d="M1472.0 273.7 L1473.8 277.5 L1479.9 281.7 L1485.5 279.8 L1494.4 281.7 L1498.1 280.3 L1502.3 277.5 L1502.3 276.1 L1494.4 273.3 L1491.6 272.3 L1485.5 270.0 L1484.6 270.9 Z" fill="#8fbc8f" stroke="#fff" stroke-width="1.6" stroke-linejoin="round"/><path d="M1494.4 281.7 L1495.3 284.5 L1498.6 285.4 L1503.2 285.4 L1508.8 283.6 L1518.6 282.6 L1521.0 279.4 L1511.6 278.0 L1506.5 277.5 L1502.3 276.1 L1502.3 277.5 L1498.1 280.3 Z" fill="#76a77a" stroke="#fff" stroke-width="1.6" stroke-linejoin="round"/><path d="M1490.6 289.6 L1492.5 285.9 L1495.3 284.5 L1498.6 285.4 L1503.2 285.4 L1508.8 283.6 L1518.6 282.6 L1522.4 285.0 L1516.8 291.0 L1510.2 293.4 L1503.2 294.3 L1496.7 294.3 L1493.0 291.5 Z" fill="#8cba8b" stroke="#fff" stroke-width="1.6" stroke-linejoin="round"/><path d="M1479.4 291.5 L1486.9 290.6 L1490.6 289.6 L1493.0 291.5 L1487.8 294.8 L1486.4 296.2 L1479.0 296.2 Z" fill="#8cba8b" stroke="#fff" stroke-width="1.6" stroke-linejoin="round"/><path d="M1479.0 296.2 L1486.4 296.2 L1487.8 294.8 L1493.0 291.5 L1496.7 294.3 L1503.2 294.3 L1506.0 297.6 L1504.2 299.0 L1497.2 298.0 L1490.2 297.6 L1489.2 299.9 L1492.5 303.6 L1497.2 307.4 L1501.8 310.6 L1490.2 307.8 L1480.8 300.8 Z" fill="#80b081" stroke="#fff" stroke-width="1.6" stroke-linejoin="round"/><path d="M1490.2 297.6 L1497.2 298.0 L1504.2 299.0 L1505.6 300.8 L1507.0 305.5 L1503.7 306.4 L1501.8 310.2 L1497.2 307.4 L1492.5 303.6 L1489.2 299.9 Z" fill="#4d8458" stroke="#fff" stroke-width="1.6" stroke-linejoin="round"/><path d="M1503.2 294.3 L1510.2 293.4 L1515.4 297.6 L1520.5 300.4 L1521.4 302.2 L1520.0 306.4 L1522.4 310.6 L1520.0 311.1 L1516.3 311.6 L1511.6 310.2 L1510.2 308.8 L1507.0 305.5 L1505.6 300.8 L1504.2 299.0 L1506.0 297.6 Z" fill="#80b081" stroke="#fff" stroke-width="1.6" stroke-linejoin="round"/><path d="M1501.8 310.2 L1503.7 306.4 L1507.0 305.5 L1510.2 308.8 L1507.9 310.2 L1506.0 313.0 L1501.4 311.1 Z" fill="#80b081" stroke="#fff" stroke-width="1.6" stroke-linejoin="round"/><path d="M1506.0 313.0 L1507.9 310.2 L1511.2 311.6 L1511.6 316.7 L1513.5 319.0 L1510.2 323.7 L1508.4 323.7 L1504.2 319.5 Z" fill="#7aab7c" stroke="#fff" stroke-width="1.6" stroke-linejoin="round"/><path d="M1511.2 311.6 L1516.3 311.6 L1520.0 311.1 L1522.8 315.3 L1521.0 316.7 L1513.5 317.6 L1511.6 316.7 Z" fill="#8cba8b" stroke="#fff" stroke-width="1.6" stroke-linejoin="round"/><path d="M1508.4 323.7 L1510.2 323.7 L1513.5 319.0 L1513.5 317.6 L1521.0 316.7 L1522.8 315.3 L1529.8 314.4 L1538.2 313.9 L1537.3 318.1 L1534.5 326.5 L1529.8 342.8 L1513.5 340.5 L1506.5 326.5 Z" fill="#93bf93" stroke="#fff" stroke-width="1.6" stroke-linejoin="round"/><path d="M1521.4 302.2 L1527.5 304.6 L1534.5 305.0 L1541.5 302.7 L1549.0 304.6 L1553.2 305.5 L1548.5 312.5 L1545.7 312.5 L1538.7 313.0 L1538.2 313.9 L1529.8 314.4 L1522.8 315.3 L1522.4 310.6 L1520.0 306.4 Z" fill="#93bf93" stroke="#fff" stroke-width="1.6" stroke-linejoin="round"/><path d="M1510.2 293.4 L1516.8 291.0 L1522.4 285.0 L1531.7 285.9 L1539.6 283.6 L1546.6 291.5 L1547.1 296.2 L1554.1 297.6 L1553.6 299.4 L1549.0 304.6 L1541.5 302.7 L1534.5 305.0 L1527.5 304.6 L1521.4 302.2 L1520.5 300.4 L1515.4 297.6 Z" fill="#ececec" stroke="#fff" stroke-width="1.6" stroke-linejoin="round"/><path d="M1539.6 283.6 L1543.8 282.2 L1551.8 285.0 L1555.5 291.5 L1547.1 296.2 L1546.6 291.5 Z" fill="#4d8458" stroke="#fff" stroke-width="1.6" stroke-linejoin="round"/><path d="M1518.6 282.6 L1521.0 279.4 L1528.0 272.8 L1525.6 268.1 L1527.5 267.7 L1539.2 266.7 L1548.5 267.7 L1557.8 268.1 L1563.9 265.3 L1573.2 264.4 L1580.7 272.3 L1593.8 275.1 L1602.2 277.0 L1601.2 285.4 L1593.8 288.7 L1578.8 296.2 L1571.8 301.3 L1567.2 296.2 L1555.5 296.2 L1554.1 297.1 L1547.1 296.2 L1555.5 291.5 L1551.8 285.0 L1543.8 282.2 L1539.6 283.6 L1531.7 285.9 L1522.4 285.0 Z" fill="#8cba8b" stroke="#fff" stroke-width="1.6" stroke-linejoin="round"/><path d="M1374.9 313.0 L1377.2 312.0 L1384.7 313.0 L1386.6 314.4 L1383.3 317.2 L1383.3 320.9 L1381.0 324.2 L1382.4 327.9 L1380.5 333.5 L1381.0 334.9 L1368.8 340.5 L1368.8 312.5 Z" fill="#73a577" stroke="#fff" stroke-width="1.6" stroke-linejoin="round"/><path d="M1374.9 313.0 L1377.2 312.0 L1384.7 313.0 L1386.6 314.4 L1383.3 317.2 L1383.3 320.9 L1381.0 324.2 L1382.4 327.9 L1380.5 333.5 L1381.0 334.9 L1389.4 341.0 L1415.5 340.5 L1434.2 324.2 L1434.2 311.1 L1430.4 310.6 L1423.4 310.2 L1415.5 309.2 L1407.1 306.0 L1371.2 303.2 Z" fill="#9ec79d" stroke="#fff" stroke-width="1.6" stroke-linejoin="round"/><path d="M1450.5 304.1 L1448.2 302.2 L1446.3 298.0 L1448.6 297.1 L1448.2 294.3 L1452.4 294.3 L1454.7 292.0 L1457.5 294.8 L1459.8 292.4 L1464.5 291.5 L1472.0 289.2 L1473.4 290.6 L1479.4 291.5 L1479.0 296.2 L1476.2 298.5 L1483.2 305.5 L1492.5 312.5 L1503.2 319.5 L1504.2 324.2 L1494.8 335.8 L1466.8 340.5 L1448.2 326.5 Z" fill="#85b486" stroke="#fff" stroke-width="1.6" stroke-linejoin="round"/><path d="M1454.7 315.8 L1461.2 315.8 L1461.2 307.4 L1454.7 307.4 Z" fill="#9ec79d" stroke="#fff" stroke-width="1.6" stroke-linejoin="round"/><path d="M1453.8 251.8 L1460.8 252.7 L1466.8 254.6 L1474.3 254.1 L1474.8 249.0 L1473.4 246.2 L1466.8 237.8 L1452.8 240.1 L1450.5 251.8 Z" fill="#b3dab0" stroke="#fff" stroke-width="1.6" stroke-linejoin="round"/><path d="M1382.8 277.5 L1424.8 271.4 L1424.8 261.1 L1410.8 230.8 L1378.2 230.8 L1378.2 249.5 L1389.8 249.5 L1390.8 254.6 L1387.5 265.8 Z" fill="#9fc89e" stroke="#fff" stroke-width="1.6" stroke-linejoin="round"/><path d="M1377.2 254.4 L1381.4 256.0 L1386.1 256.0 L1390.8 254.6 L1389.8 249.5 L1380.5 249.5 Z" fill="#9fc89e" stroke="#fff" stroke-width="1.6" stroke-linejoin="round"/><path d="M1364.2 270.5 L1387.5 268.1 L1387.5 256.5 L1386.1 256.0 L1381.4 256.0 L1377.2 254.4 L1380.5 249.5 L1364.2 249.5 Z" fill="#73a577" stroke="#fff" stroke-width="1.6" stroke-linejoin="round"/><path d="M1538.2 313.9 L1538.7 313.0 L1545.7 312.5 L1548.5 312.5 L1550.8 315.8 L1560.2 314.8 L1583.5 311.1 L1609.6 314.8 L1615.2 314.4 L1618.5 316.7 L1619.4 321.4 L1624.6 323.2 L1622.2 329.3 L1624.6 334.9 L1612.9 335.4 L1605.0 335.4 L1593.8 336.3 L1586.8 339.6 L1584.4 341.4 L1582.6 341.0 L1555.5 345.2 L1536.8 340.5 L1535.9 321.8 L1537.3 318.1 Z" fill="#8cba8b" stroke="#fff" stroke-width="1.6" stroke-linejoin="round"/><path d="M1601.2 305.0 L1611.5 306.9 L1619.9 309.2 L1627.8 310.2 L1633.0 313.4 L1625.5 315.8 L1618.5 316.7 L1615.2 314.4 L1609.6 314.8 L1608.2 309.2 Z" fill="#72a476" stroke="#fff" stroke-width="1.6" stroke-linejoin="round"/><path d="M1618.5 316.7 L1625.5 315.8 L1628.3 318.6 L1632.5 327.4 L1624.6 323.2 L1619.4 321.4 Z" fill="#72a476" stroke="#fff" stroke-width="1.6" stroke-linejoin="round"/><path d="M1625.5 315.8 L1633.0 313.4 L1638.6 316.2 L1642.3 313.4 L1648.8 319.5 L1644.2 329.3 L1639.5 328.4 L1632.5 327.4 L1628.3 318.6 Z" fill="#72a476" stroke="#fff" stroke-width="1.6" stroke-linejoin="round"/><path d="M1582.6 341.0 L1584.4 341.4 L1586.8 339.6 L1593.8 336.3 L1605.0 335.4 L1612.9 335.4 L1608.2 338.6 L1606.8 348.0 L1596.6 352.6 L1587.2 357.8 L1583.0 355.9 L1585.8 347.0 L1582.1 346.1 Z" fill="#72a476" stroke="#fff" stroke-width="1.6" stroke-linejoin="round"/><path d="M1579.3 354.0 L1581.6 353.1 L1586.3 348.9 L1585.8 347.0 L1582.1 346.1 L1578.8 349.8 Z" fill="#b3dab0" stroke="#fff" stroke-width="1.6" stroke-linejoin="round"/><path d="M1575.1 362.4 L1578.4 370.8 L1581.2 361.5 L1581.6 353.1 L1579.3 354.0 L1573.2 359.2 Z" fill="#c5e4c1" stroke="#fff" stroke-width="1.6" stroke-linejoin="round"/><path d="M1578.4 370.8 L1585.8 370.8 L1592.8 366.2 L1588.2 361.5 L1597.5 358.2 L1598.9 358.2 L1596.6 352.6 L1587.2 357.8 L1581.6 355.9 L1581.2 361.5 Z" fill="#b3dab0" stroke="#fff" stroke-width="1.6" stroke-linejoin="round"/><path d="M1596.6 352.6 L1606.8 348.0 L1608.2 338.6 L1612.9 335.4 L1624.6 334.9 L1627.8 341.0 L1630.6 344.7 L1628.3 348.4 L1633.9 354.5 L1638.6 360.1 L1639.5 366.2 L1639.0 369.0 L1638.1 372.7 L1632.5 372.7 L1624.1 372.2 L1611.5 363.4 L1598.9 358.2 Z" fill="#85b486" stroke="#fff" stroke-width="1.6" stroke-linejoin="round"/><path d="M1638.1 372.7 L1639.0 369.0 L1644.2 373.2 L1641.8 377.8 L1632.5 372.7 Z" fill="#b3dab0" stroke="#fff" stroke-width="1.6" stroke-linejoin="round"/><path d="M1585.8 370.8 L1592.8 366.2 L1588.2 361.5 L1597.5 358.2 L1611.5 363.4 L1624.1 372.2 L1632.5 372.7 L1641.8 377.8 L1652.6 392.8 L1656.3 395.6 L1660.5 401.6 L1673.1 402.6 L1675.5 405.8 L1672.2 415.2 L1658.2 419.8 L1644.2 421.7 L1632.0 427.8 L1617.6 426.8 L1614.8 432.0 L1602.2 419.8 L1574.2 377.8 L1578.4 370.8 Z" fill="#a8d1a6" stroke="#fff" stroke-width="1.6" stroke-linejoin="round"/><path d="M1614.8 432.0 L1617.6 426.8 L1632.0 427.8 L1644.2 421.7 L1658.2 419.8 L1663.3 430.6 L1659.1 435.7 L1616.2 452.5 L1613.8 438.5 Z" fill="#3a7049" stroke="#fff" stroke-width="1.6" stroke-linejoin="round"/><path d="M1658.2 419.8 L1672.2 415.2 L1675.5 405.8 L1673.1 402.6 L1678.7 392.3 L1678.7 385.3 L1695.5 401.2 L1686.2 429.2 L1663.3 430.6 Z" fill="#9ec79d" stroke="#fff" stroke-width="1.6" stroke-linejoin="round"/><path d="M1656.3 395.6 L1660.5 401.6 L1673.1 402.6 L1677.8 392.8 L1677.8 389.0 L1667.5 391.8 Z" fill="#b3dab0" stroke="#fff" stroke-width="1.6" stroke-linejoin="round"/><path d="M1624.6 323.2 L1622.2 329.3 L1624.6 334.9 L1627.8 341.0 L1630.6 344.7 L1628.3 348.4 L1633.9 354.5 L1638.6 360.1 L1639.5 366.2 L1639.0 369.0 L1648.8 373.2 L1667.5 384.8 L1682.9 388.1 L1703.0 390.9 L1703.9 386.2 L1710.9 384.4 L1710.5 381.6 L1708.6 376.9 L1702.1 371.8 L1699.7 369.0 L1703.5 362.0 L1699.7 361.5 L1697.9 351.2 L1700.2 342.4 L1691.8 334.0 L1682.9 331.2 L1674.1 331.2 L1667.1 334.4 L1655.9 336.8 L1644.2 329.3 L1639.5 328.4 L1632.5 327.4 Z" fill="#93bf93" stroke="#fff" stroke-width="1.6" stroke-linejoin="round"/><path d="M1632.5 282.6 L1636.2 273.7 L1642.8 272.3 L1652.6 267.2 L1664.7 268.1 L1675.5 272.3 L1683.4 270.0 L1693.7 272.3 L1702.1 271.4 L1703.0 265.8 L1699.3 263.0 L1703.5 256.9 L1721.7 253.7 L1738.0 249.9 L1747.8 256.0 L1758.5 256.5 L1774.4 254.1 L1772.5 266.7 L1788.9 271.4 L1804.7 270.0 L1812.7 274.7 L1823.4 278.9 L1820.6 279.4 L1814.5 289.2 L1803.8 288.2 L1799.6 296.2 L1788.9 298.5 L1790.3 308.3 L1789.8 312.5 L1784.2 308.8 L1770.2 307.8 L1762.3 306.9 L1758.5 310.2 L1747.3 309.2 L1744.5 312.5 L1737.5 315.3 L1734.7 318.6 L1726.8 316.2 L1723.5 312.5 L1723.5 307.8 L1718.4 304.6 L1704.9 305.5 L1689.0 295.7 L1676.9 298.5 L1676.9 315.8 L1662.4 313.0 L1653.5 307.8 L1651.2 298.5 L1645.1 292.0 L1643.7 290.1 Z" fill="#65976b" stroke="#fff" stroke-width="1.6" stroke-linejoin="round"/><path d="M1676.9 315.8 L1676.9 298.5 L1689.0 295.7 L1704.9 305.5 L1718.4 304.6 L1723.5 307.8 L1723.5 312.5 L1726.8 316.2 L1734.7 318.6 L1737.5 315.3 L1744.5 312.5 L1746.9 316.2 L1755.3 317.6 L1750.1 320.9 L1744.5 321.4 L1738.9 320.9 L1735.7 327.0 L1731.9 334.9 L1725.9 334.0 L1716.5 327.0 L1706.7 319.5 L1702.1 316.2 L1696.0 313.0 L1688.5 311.1 L1681.5 313.9 Z" fill="#4a8258" stroke="#fff" stroke-width="1.6" stroke-linejoin="round"/><path d="M1662.4 313.0 L1676.9 315.8 L1681.5 313.9 L1688.5 311.1 L1696.0 313.0 L1702.1 316.2 L1706.7 319.5 L1716.5 327.0 L1725.9 334.0 L1721.7 333.5 L1716.5 339.1 L1707.2 344.2 L1700.2 342.4 L1691.8 334.0 L1682.9 331.2 L1674.1 331.2 L1667.1 334.4 L1660.5 324.2 L1658.2 314.8 Z" fill="#5d9465" stroke="#fff" stroke-width="1.6" stroke-linejoin="round"/><path d="M1747.3 309.2 L1758.5 310.2 L1762.3 306.9 L1770.2 307.8 L1784.2 308.8 L1789.8 312.5 L1774.4 317.2 L1765.5 320.4 L1759.9 323.7 L1751.5 324.6 L1738.9 324.2 L1744.5 321.4 L1750.1 320.9 L1755.3 317.6 L1746.9 316.2 L1744.5 312.5 Z" fill="#3d7a4c" stroke="#fff" stroke-width="1.6" stroke-linejoin="round"/><path d="M1731.9 334.9 L1735.7 327.0 L1738.9 320.9 L1744.5 321.4 L1738.9 324.2 L1751.5 324.6 L1759.9 323.7 L1764.6 329.3 L1765.1 334.9 L1759.5 333.5 L1749.7 331.6 L1743.1 331.6 L1735.2 334.9 Z" fill="#2a6a3c" stroke="#fff" stroke-width="1.6" stroke-linejoin="round"/><path d="M1700.2 342.4 L1697.9 351.2 L1699.7 361.5 L1703.5 362.0 L1699.7 369.0 L1707.2 371.3 L1714.7 371.8 L1724.9 369.0 L1725.4 363.8 L1737.1 361.0 L1738.9 354.5 L1743.6 350.3 L1747.3 346.6 L1749.7 342.8 L1747.8 340.0 L1755.7 336.8 L1765.1 334.9 L1759.5 333.5 L1749.7 331.6 L1743.1 331.6 L1735.2 334.9 L1731.9 334.9 L1725.9 334.0 L1721.7 333.5 L1716.5 339.1 L1707.2 344.2 Z" fill="#2a6a3c" stroke="#fff" stroke-width="1.6" stroke-linejoin="round"/><path d="M1699.7 369.0 L1703.0 390.9 L1726.3 390.0 L1733.8 397.9 L1736.6 395.1 L1746.9 394.6 L1743.1 388.6 L1744.1 378.8 L1752.0 375.5 L1760.4 367.6 L1763.7 363.4 L1767.4 357.8 L1763.2 354.5 L1760.9 347.0 L1768.8 340.5 L1778.6 342.8 L1771.1 336.8 L1765.1 334.9 L1755.7 336.8 L1747.8 340.0 L1749.7 342.8 L1747.3 346.6 L1743.6 350.3 L1738.9 354.5 L1737.1 361.0 L1725.4 363.8 L1724.9 369.0 L1714.7 371.8 L1707.2 371.3 Z" fill="#4a8258" stroke="#fff" stroke-width="1.6" stroke-linejoin="round"/><path d="M1736.6 395.1 L1746.9 394.6 L1743.1 388.6 L1744.1 378.8 L1752.0 375.5 L1760.4 367.6 L1763.7 363.4 L1767.4 357.8 L1763.2 354.5 L1760.9 347.0 L1768.8 340.5 L1778.6 342.8 L1786.5 347.5 L1781.9 356.8 L1784.2 363.8 L1790.3 367.6 L1789.3 374.1 L1795.9 377.8 L1807.5 380.6 L1814.5 383.4 L1826.2 385.3 L1827.1 378.3 L1829.9 381.1 L1833.2 383.4 L1844.9 383.4 L1845.3 378.8 L1854.2 374.1 L1863.5 371.3 L1870.1 376.9 L1868.2 381.1 L1860.3 384.4 L1857.0 390.9 L1854.7 397.4 L1850.9 405.4 L1847.7 405.8 L1846.3 397.9 L1844.4 395.6 L1847.2 391.8 L1834.6 390.4 L1830.9 387.2 L1826.7 389.0 L1828.5 394.6 L1829.9 400.2 L1830.9 406.8 L1807.5 429.2 L1791.2 443.2 L1787.9 460.4 L1782.3 468.4 L1777.2 473.5 L1770.2 471.2 L1751.5 452.5 L1732.9 415.2 L1733.8 397.9 Z" fill="#3d7a4c" stroke="#fff" stroke-width="1.6" stroke-linejoin="round"/><path d="M1789.3 374.1 L1795.9 377.8 L1807.5 380.6 L1814.5 383.4 L1826.2 385.3 L1827.1 378.3 L1816.9 377.4 L1807.5 372.2 L1795.9 366.6 L1790.3 367.6 Z" fill="#1c5a32" stroke="#fff" stroke-width="1.6" stroke-linejoin="round"/><path d="M1829.9 381.1 L1833.2 383.4 L1844.9 383.4 L1845.3 378.8 L1835.5 376.4 Z" fill="#3d7a4c" stroke="#fff" stroke-width="1.6" stroke-linejoin="round"/><path d="M1847.7 405.8 L1846.3 397.9 L1844.4 395.6 L1847.2 391.8 L1834.6 390.4 L1830.9 387.2 L1826.7 389.0 L1828.5 394.6 L1829.9 400.2 L1830.9 408.2 L1846.3 412.8 Z" fill="#3d7a4c" stroke="#fff" stroke-width="1.6" stroke-linejoin="round"/><path d="M1784.2 485.2 L1802.9 485.2 L1802.9 459.5 L1784.2 459.5 Z" fill="#1c5a32" stroke="#fff" stroke-width="1.6" stroke-linejoin="round"/><path d="M1995.6 322.3 L2007.7 313.4 L2013.8 312.5 L2020.8 310.6 L2025.5 311.1 L2028.3 307.8 L2027.8 299.0 L2036.2 298.0 L2044.1 283.1 L2038.5 283.6 L2026.4 280.3 L2019.9 278.0 L2011.0 273.7 L2006.3 262.1 L1992.3 258.8 L1979.7 259.7 L1975.5 266.7 L1971.3 274.7 L1965.3 277.5 L1960.1 276.1 L1954.5 284.0 L1956.9 285.9 L1968.5 285.0 L1974.1 289.2 L1963.4 291.0 L1956.9 293.8 L1945.2 299.4 L1937.7 304.6 L1934.0 306.0 L1919.5 310.6 L1905.5 314.4 L1885.9 309.7 L1864.9 309.2 L1860.3 302.2 L1851.9 298.5 L1839.7 297.1 L1838.8 286.4 L1826.7 278.9 L1823.4 278.9 L1820.6 279.4 L1814.5 289.2 L1803.8 288.2 L1799.6 296.2 L1788.9 298.5 L1790.3 308.3 L1789.8 312.5 L1774.4 317.2 L1765.5 320.4 L1759.9 323.7 L1764.6 329.3 L1765.1 334.9 L1771.1 336.8 L1778.6 342.8 L1786.5 347.5 L1781.9 356.8 L1784.2 363.8 L1790.3 367.6 L1795.9 366.6 L1807.5 372.2 L1816.9 377.4 L1827.1 378.3 L1829.9 381.1 L1835.5 376.4 L1845.3 378.8 L1854.2 374.1 L1863.5 371.3 L1870.1 376.9 L1873.8 379.7 L1876.1 387.6 L1871.5 396.5 L1877.1 396.0 L1879.9 405.4 L1887.8 408.2 L1892.0 404.0 L1896.2 403.0 L1900.9 402.1 L1906.9 399.8 L1913.5 401.6 L1919.1 407.7 L1920.5 424.5 L1938.2 426.8 L1952.2 405.8 L1971.8 396.5 L1989.5 368.5 L1994.2 340.5 L1991.9 324.2 Z" fill="#65976b" stroke="#fff" stroke-width="1.6" stroke-linejoin="round"/><path d="M1823.4 278.9 L1826.7 278.9 L1838.8 286.4 L1839.7 297.1 L1851.9 298.5 L1860.3 302.2 L1864.9 309.2 L1885.9 309.7 L1905.5 314.4 L1919.5 310.6 L1934.0 306.0 L1937.7 304.6 L1945.2 299.4 L1956.9 293.8 L1963.4 291.0 L1974.1 289.2 L1968.5 285.0 L1956.9 285.9 L1954.5 284.0 L1960.1 276.1 L1948.9 273.7 L1932.6 278.9 L1920.9 277.5 L1913.9 273.7 L1900.9 274.2 L1892.5 269.1 L1874.3 265.8 L1871.9 276.1 L1855.1 272.3 L1844.9 271.4 L1835.5 275.1 Z" fill="#87b787" stroke="#fff" stroke-width="1.6" stroke-linejoin="round"/><path d="M1995.6 322.3 L1998.9 319.5 L2007.7 313.4 L2013.8 312.5 L2020.8 310.6 L2025.5 311.1 L2031.5 312.5 L2019.9 328.4 L2014.7 328.4 L2009.1 329.8 L2004.0 332.6 L1994.2 333.5 L1991.9 324.2 Z" fill="#6fa475" stroke="#fff" stroke-width="1.6" stroke-linejoin="round"/><path d="M2004.0 332.6 L2009.1 329.8 L2014.7 328.4 L2019.9 328.4 L2026.9 340.5 L2017.5 349.8 L2003.5 352.2 L1998.9 345.2 L1996.5 333.5 Z" fill="#a0c99f" stroke="#fff" stroke-width="1.6" stroke-linejoin="round"/><path d="M2019.4 368.5 L2096.9 321.8 L2096.9 295.7 L2074.5 295.7 L2065.6 311.1 L2066.5 321.8 L2045.5 338.2 L2029.2 342.8 L2018.9 349.8 Z" fill="#b5dcb2" stroke="#fff" stroke-width="1.6" stroke-linejoin="round"/><path d="M1973.2 408.2 L1987.2 408.2 L1987.2 388.1 L1973.2 388.1 Z" fill="#ececec" stroke="#fff" stroke-width="1.6" stroke-linejoin="round"/><path d="M1847.7 405.8 L1850.9 405.4 L1854.7 397.4 L1857.0 390.9 L1860.3 384.4 L1868.2 381.1 L1870.1 376.9 L1873.8 379.7 L1876.1 387.6 L1871.5 396.5 L1877.1 396.0 L1879.9 405.4 L1887.8 408.2 L1882.7 413.3 L1873.8 416.6 L1871.9 426.4 L1876.1 432.9 L1873.8 438.0 L1878.5 451.6 L1876.1 460.0 L1868.2 461.8 L1854.2 438.5 L1846.3 412.8 Z" fill="#3d7a4c" stroke="#fff" stroke-width="1.6" stroke-linejoin="round"/><path d="M1876.1 460.0 L1878.5 451.6 L1873.8 438.0 L1876.1 432.9 L1871.9 426.4 L1873.8 416.6 L1882.7 413.3 L1885.0 417.5 L1888.3 417.5 L1887.3 426.8 L1894.3 425.0 L1904.1 426.8 L1908.3 435.2 L1906.5 441.8 L1898.5 441.3 L1894.3 451.6 L1889.2 452.5 L1885.0 447.8 L1882.2 466.5 L1884.5 478.2 L1887.3 479.1 L1890.6 481.4 L1892.0 479.6 L1896.2 475.8 L1879.9 473.5 L1872.9 470.2 Z" fill="#5d9465" stroke="#fff" stroke-width="1.6" stroke-linejoin="round"/><path d="M1887.8 408.2 L1892.0 404.0 L1893.9 407.2 L1896.2 411.9 L1901.8 414.7 L1901.3 417.0 L1906.5 420.8 L1912.5 427.3 L1917.2 432.9 L1917.2 438.5 L1917.7 441.8 L1912.5 440.8 L1908.3 435.2 L1904.1 426.8 L1894.3 425.0 L1887.3 426.8 L1888.3 417.5 L1885.0 417.5 L1882.7 413.3 Z" fill="#3d7a4c" stroke="#fff" stroke-width="1.6" stroke-linejoin="round"/><path d="M1893.9 452.0 L1895.3 443.6 L1898.5 441.3 L1906.5 441.8 L1912.5 440.8 L1917.7 441.8 L1917.2 451.1 L1912.1 453.9 L1909.7 457.2 L1905.5 459.5 L1902.7 460.0 L1896.2 459.5 Z" fill="#1c5a32" stroke="#fff" stroke-width="1.6" stroke-linejoin="round"/><path d="M1892.0 404.0 L1896.2 403.0 L1900.9 402.1 L1906.9 399.8 L1913.5 401.6 L1919.1 407.7 L1919.5 419.8 L1928.9 438.5 L1928.9 461.8 L1900.9 471.2 L1902.7 460.0 L1905.5 459.5 L1909.7 457.2 L1912.1 453.9 L1917.2 451.1 L1917.7 441.8 L1917.2 438.5 L1917.2 432.9 L1912.5 427.3 L1906.5 420.8 L1901.3 417.0 L1901.8 414.7 L1896.2 411.9 L1893.9 407.2 Z" fill="#3d7a4c" stroke="#fff" stroke-width="1.6" stroke-linejoin="round"/><path d="M1884.5 478.2 L1887.3 479.1 L1890.6 481.4 L1892.0 479.6 L1900.9 489.8 L1903.2 502.9 L1898.5 502.9 L1882.2 489.8 Z" fill="#8cba8b" stroke="#fff" stroke-width="1.6" stroke-linejoin="round"/><path d="M1927.0 499.6 L1933.5 503.4 L1940.5 501.5 L1947.5 502.0 L1951.7 497.8 L1954.1 489.8 L1956.9 488.9 L1964.8 488.9 L1975.5 485.2 L1961.5 471.2 L1928.9 494.5 Z" fill="#8cba8b" stroke="#fff" stroke-width="1.6" stroke-linejoin="round"/><path d="M1856.5 479.6 L1879.9 493.1 L1898.5 504.8 L1914.9 522.5 L1912.5 541.2 L1882.2 527.2 L1856.5 494.5 Z" fill="#65976b" stroke="#fff" stroke-width="1.6" stroke-linejoin="round"/><path d="M1905.5 534.2 L1952.2 538.8 L1998.9 544.9 L2010.5 545.8 L1998.9 557.5 L1947.5 551.4 L1905.5 543.5 Z" fill="#65976b" stroke="#fff" stroke-width="1.6" stroke-linejoin="round"/><path d="M1921.9 499.2 L1927.0 499.6 L1933.5 503.4 L1940.5 501.5 L1947.5 502.0 L1951.7 497.8 L1954.1 489.8 L1956.9 488.9 L1964.8 488.9 L1970.9 499.2 L1961.5 529.5 L1928.9 524.8 L1921.9 513.2 Z" fill="#65976b" stroke="#fff" stroke-width="1.6" stroke-linejoin="round"/><path d="M1968.5 536.5 L1968.5 508.5 L1980.2 499.2 L2003.5 499.2 L2019.9 494.5 L2026.9 513.2 L2031.5 522.5 L2031.5 529.5 L2017.5 531.8 L1991.9 537.4 Z" fill="#65976b" stroke="#fff" stroke-width="1.6" stroke-linejoin="round"/><path d="M2024.5 510.8 L2073.5 520.2 L2073.5 551.4 L2054.9 550.5 L2031.5 529.5 L2024.5 513.2 Z" fill="#65976b" stroke="#fff" stroke-width="1.6" stroke-linejoin="round"/><path d="M2073.5 520.2 L2129.6 517.8 L2129.6 559.8 L2073.5 551.4 Z" fill="#0c4a22" stroke="#fff" stroke-width="1.6" stroke-linejoin="round"/><path d="M1959.2 471.2 L1975.5 485.2 L2008.2 485.2 L2008.2 417.5 L1970.9 417.5 L1959.2 461.8 Z" fill="#65976b" stroke="#fff" stroke-width="1.6" stroke-linejoin="round"/><path d="M1919.5 426.8 L1938.2 426.8 L1938.2 410.5 L1919.5 410.5 Z" fill="#65976b" stroke="#fff" stroke-width="1.6" stroke-linejoin="round"/></g><g clip-path="url(#cl_aus)"><path d="M1928.9 555.2 L2138.9 555.2 L2138.9 718.5 L1928.9 718.5 Z" fill="#b3dab0" stroke="#fff" stroke-width="1.6" stroke-linejoin="round"/><path d="M2185.6 662.5 L2255.6 662.5 L2255.6 732.5 L2185.6 732.5 Z" fill="#a8d1a6" stroke="#fff" stroke-width="1.6" stroke-linejoin="round"/></g><path d="M1543.8 310.2 L1546.2 306.0 L1549.0 301.8 L1554.1 297.1 L1559.2 291.5 L1564.8 291.0 L1571.8 293.8 L1567.2 296.6 L1572.3 300.8 L1576.5 300.4 L1581.2 298.0 L1586.3 297.1 L1590.5 299.9 L1594.2 301.8 L1600.8 305.0 L1609.2 312.5 L1609.6 314.8 L1603.1 317.2 L1594.2 317.6 L1586.8 315.8 L1579.8 312.5 L1571.4 312.5 L1561.1 316.7 L1551.8 316.2 L1546.6 314.4 Z" fill="#fff"/><path d="M1578.8 295.2 L1580.2 292.4 L1588.2 288.7 L1598.4 288.2 L1593.8 291.5 L1591.9 293.8 L1586.8 296.6 L1581.2 296.6 Z" fill="#fff"/><path d="M1633.4 299.9 L1637.2 295.7 L1645.1 292.0 L1654.5 288.7 L1662.9 290.1 L1663.8 297.1 L1654.9 299.0 L1654.9 305.0 L1661.5 308.8 L1661.9 315.3 L1667.5 317.6 L1663.8 324.2 L1667.1 334.0 L1663.8 336.3 L1655.9 336.8 L1649.8 334.0 L1644.2 329.3 L1646.0 320.9 L1650.3 320.0 L1646.5 317.6 L1642.3 313.4 L1637.2 307.8 L1637.2 304.1 Z" fill="#fff"/><circle cx="1774.4" cy="414.7" r="37.7" fill="rgba(31,119,180,0.5)" stroke="#136ca8" stroke-width="2.0"/><circle cx="1904.6" cy="345.2" r="27.4" fill="rgba(31,119,180,0.5)" stroke="#136ca8" stroke-width="2.0"/><circle cx="1739.9" cy="369.4" r="6.4" fill="rgba(31,119,180,0.5)" stroke="#136ca8" stroke-width="1.5"/><circle cx="1836.9" cy="397.4" r="6.0" fill="rgba(31,119,180,0.5)" stroke="#136ca8" stroke-width="1.5"/><circle cx="1452.8" cy="463.7" r="6.0" fill="rgba(31,119,180,0.5)" stroke="#136ca8" stroke-width="1.5"/><circle cx="1592.4" cy="470.7" r="5.0" fill="rgba(31,119,180,0.5)" stroke="#136ca8" stroke-width="1.5"/><circle cx="1554.6" cy="384.4" r="3.3" fill="rgba(31,119,180,0.5)" stroke="#136ca8" stroke-width="1.5"/><circle cx="1983.5" cy="447.4" r="3.6" fill="rgba(31,119,180,0.5)" stroke="#136ca8" stroke-width="1.5"/><circle cx="1916.7" cy="432.0" r="3.4" fill="rgba(31,119,180,0.5)" stroke="#136ca8" stroke-width="1.5"/><circle cx="960.9" cy="331.2" r="3.1" fill="rgba(31,119,180,0.5)" stroke="#136ca8" stroke-width="1.5"/><circle cx="937.1" cy="398.4" r="2.7" fill="rgba(31,119,180,0.5)" stroke="#136ca8" stroke-width="1.5"/><circle cx="1158.3" cy="554.7" r="2.7" fill="rgba(31,119,180,0.5)" stroke="#136ca8" stroke-width="1.5"/><circle cx="1866.3" cy="163.1" r="2.6" fill="rgba(31,119,180,0.5)" stroke="#136ca8" stroke-width="1.5"/><circle cx="1882.2" cy="228.5" r="2.7" fill="rgba(31,119,180,0.5)" stroke="#136ca8" stroke-width="1.5"/><circle cx="2059.5" cy="339.1" r="2.5" fill="rgba(31,119,180,0.5)" stroke="#136ca8" stroke-width="1.5"/><circle cx="1464.0" cy="270.0" r="2.9" fill="rgba(31,119,180,0.5)" stroke="#136ca8" stroke-width="1.5"/><circle cx="1579.8" cy="326.5" r="2.7" fill="rgba(31,119,180,0.5)" stroke="#136ca8" stroke-width="1.5"/><circle cx="1666.1" cy="357.3" r="2.7" fill="rgba(31,119,180,0.5)" stroke="#136ca8" stroke-width="1.5"/><circle cx="1886.4" cy="438.5" r="2.6" fill="rgba(31,119,180,0.5)" stroke="#136ca8" stroke-width="1.5"/><circle cx="1426.7" cy="291.0" r="2.5" fill="rgba(31,119,180,0.5)" stroke="#136ca8" stroke-width="1.5"/><circle cx="1402.0" cy="256.5" r="2.5" fill="rgba(31,119,180,0.5)" stroke="#136ca8" stroke-width="1.5"/><circle cx="1474.3" cy="308.3" r="2.4" fill="rgba(31,119,180,0.5)" stroke="#136ca8" stroke-width="1.5"/><circle cx="1396.8" cy="321.8" r="2.0" fill="rgba(31,119,180,0.5)" stroke="#136ca8" stroke-width="1.5"/><circle cx="1863.1" cy="406.3" r="2.6" fill="rgba(31,119,180,0.5)" stroke="#136ca8" stroke-width="1.5"/><circle cx="1578.4" cy="538.4" r="2.7" fill="rgba(31,119,180,0.5)" stroke="#136ca8" stroke-width="1.5"/><circle cx="1592.4" cy="507.6" r="2.5" fill="rgba(31,119,180,0.5)" stroke="#136ca8" stroke-width="1.5"/><circle cx="1566.2" cy="502.0" r="2.5" fill="rgba(31,119,180,0.5)" stroke="#136ca8" stroke-width="1.5"/><circle cx="1525.6" cy="522.0" r="2.7" fill="rgba(31,119,180,0.5)" stroke="#136ca8" stroke-width="1.5"/><circle cx="1530.8" cy="641.5" r="2.0" fill="rgba(31,119,180,0.5)" stroke="#136ca8" stroke-width="1.5"/><circle cx="1408.0" cy="451.6" r="2.0" fill="rgba(31,119,180,0.5)" stroke="#136ca8" stroke-width="1.5"/><circle cx="1410.8" cy="471.6" r="2.0" fill="rgba(31,119,180,0.5)" stroke="#136ca8" stroke-width="1.5"/><circle cx="1389.8" cy="473.5" r="2.0" fill="rgba(31,119,180,0.5)" stroke="#136ca8" stroke-width="1.5"/><circle cx="1473.4" cy="481.9" r="2.0" fill="rgba(31,119,180,0.5)" stroke="#136ca8" stroke-width="1.5"/><circle cx="1502.8" cy="436.6" r="2.0" fill="rgba(31,119,180,0.5)" stroke="#136ca8" stroke-width="1.5"/><circle cx="1453.3" cy="426.4" r="2.0" fill="rgba(31,119,180,0.5)" stroke="#136ca8" stroke-width="1.5"/><circle cx="1397.3" cy="426.4" r="2.0" fill="rgba(31,119,180,0.5)" stroke="#136ca8" stroke-width="1.5"/><circle cx="1556.4" cy="448.3" r="2.0" fill="rgba(31,119,180,0.5)" stroke="#136ca8" stroke-width="1.5"/><circle cx="1556.4" cy="474.4" r="2.0" fill="rgba(31,119,180,0.5)" stroke="#136ca8" stroke-width="1.5"/><circle cx="1626.4" cy="436.2" r="2.0" fill="rgba(31,119,180,0.5)" stroke="#136ca8" stroke-width="1.5"/><circle cx="1623.2" cy="396.5" r="2.0" fill="rgba(31,119,180,0.5)" stroke="#136ca8" stroke-width="1.5"/><circle cx="1619.4" cy="353.6" r="2.0" fill="rgba(31,119,180,0.5)" stroke="#136ca8" stroke-width="1.5"/><circle cx="1597.0" cy="345.2" r="2.0" fill="rgba(31,119,180,0.5)" stroke="#136ca8" stroke-width="1.5"/><circle cx="1723.5" cy="350.3" r="2.0" fill="rgba(31,119,180,0.5)" stroke="#136ca8" stroke-width="1.5"/><circle cx="1717.0" cy="315.3" r="2.0" fill="rgba(31,119,180,0.5)" stroke="#136ca8" stroke-width="1.5"/><circle cx="1728.2" cy="284.5" r="2.0" fill="rgba(31,119,180,0.5)" stroke="#136ca8" stroke-width="1.5"/><circle cx="1748.3" cy="327.0" r="2.0" fill="rgba(31,119,180,0.5)" stroke="#136ca8" stroke-width="1.5"/><circle cx="1764.6" cy="316.2" r="2.0" fill="rgba(31,119,180,0.5)" stroke="#136ca8" stroke-width="1.5"/><circle cx="1688.1" cy="327.0" r="2.0" fill="rgba(31,119,180,0.5)" stroke="#136ca8" stroke-width="1.5"/><circle cx="1904.6" cy="293.8" r="2.0" fill="rgba(31,119,180,0.5)" stroke="#136ca8" stroke-width="1.5"/><circle cx="2010.5" cy="320.4" r="2.0" fill="rgba(31,119,180,0.5)" stroke="#136ca8" stroke-width="1.5"/><circle cx="2011.9" cy="338.2" r="2.0" fill="rgba(31,119,180,0.5)" stroke="#136ca8" stroke-width="1.5"/><circle cx="1808.0" cy="376.0" r="2.0" fill="rgba(31,119,180,0.5)" stroke="#136ca8" stroke-width="1.5"/><circle cx="1792.1" cy="471.6" r="2.0" fill="rgba(31,119,180,0.5)" stroke="#136ca8" stroke-width="1.5"/><circle cx="1893.9" cy="423.6" r="2.0" fill="rgba(31,119,180,0.5)" stroke="#136ca8" stroke-width="1.5"/><circle cx="1905.1" cy="449.7" r="2.0" fill="rgba(31,119,180,0.5)" stroke="#136ca8" stroke-width="1.5"/><circle cx="1891.5" cy="488.9" r="2.0" fill="rgba(31,119,180,0.5)" stroke="#136ca8" stroke-width="1.5"/><circle cx="1980.2" cy="397.9" r="2.0" fill="rgba(31,119,180,0.5)" stroke="#136ca8" stroke-width="1.5"/><circle cx="1499.0" cy="560.8" r="2.0" fill="rgba(31,119,180,0.5)" stroke="#136ca8" stroke-width="1.5"/><circle cx="1545.2" cy="569.6" r="2.0" fill="rgba(31,119,180,0.5)" stroke="#136ca8" stroke-width="1.5"/><circle cx="1575.6" cy="570.6" r="2.0" fill="rgba(31,119,180,0.5)" stroke="#136ca8" stroke-width="1.5"/><circle cx="1581.2" cy="595.8" r="2.0" fill="rgba(31,119,180,0.5)" stroke="#136ca8" stroke-width="1.5"/><circle cx="1551.8" cy="597.2" r="2.0" fill="rgba(31,119,180,0.5)" stroke="#136ca8" stroke-width="1.5"/><circle cx="1501.8" cy="611.2" r="2.0" fill="rgba(31,119,180,0.5)" stroke="#136ca8" stroke-width="1.5"/><circle cx="1527.5" cy="612.6" r="2.0" fill="rgba(31,119,180,0.5)" stroke="#136ca8" stroke-width="1.5"/><circle cx="1634.4" cy="596.2" r="2.0" fill="rgba(31,119,180,0.5)" stroke="#136ca8" stroke-width="1.5"/><circle cx="1469.6" cy="512.2" r="2.0" fill="rgba(31,119,180,0.5)" stroke="#136ca8" stroke-width="1.5"/><circle cx="1489.2" cy="509.4" r="2.0" fill="rgba(31,119,180,0.5)" stroke="#136ca8" stroke-width="1.5"/><circle cx="1513.0" cy="477.7" r="2.0" fill="rgba(31,119,180,0.5)" stroke="#136ca8" stroke-width="1.5"/><circle cx="1426.2" cy="465.1" r="2.0" fill="rgba(31,119,180,0.5)" stroke="#136ca8" stroke-width="1.5"/><circle cx="1419.2" cy="468.4" r="2.0" fill="rgba(31,119,180,0.5)" stroke="#136ca8" stroke-width="1.5"/><circle cx="1371.6" cy="478.6" r="2.0" fill="rgba(31,119,180,0.5)" stroke="#136ca8" stroke-width="1.5"/><circle cx="1360.4" cy="468.8" r="2.0" fill="rgba(31,119,180,0.5)" stroke="#136ca8" stroke-width="1.5"/><circle cx="1364.6" cy="460.0" r="2.0" fill="rgba(31,119,180,0.5)" stroke="#136ca8" stroke-width="1.5"/><circle cx="1344.6" cy="452.5" r="2.0" fill="rgba(31,119,180,0.5)" stroke="#136ca8" stroke-width="1.5"/><circle cx="1347.8" cy="440.8" r="2.0" fill="rgba(31,119,180,0.5)" stroke="#136ca8" stroke-width="1.5"/><circle cx="1344.1" cy="446.0" r="2.0" fill="rgba(31,119,180,0.5)" stroke="#136ca8" stroke-width="1.5"/><circle cx="1364.6" cy="410.5" r="2.0" fill="rgba(31,119,180,0.5)" stroke="#136ca8" stroke-width="1.5"/><circle cx="1427.6" cy="377.8" r="2.0" fill="rgba(31,119,180,0.5)" stroke="#136ca8" stroke-width="1.5"/><circle cx="1459.8" cy="349.8" r="2.0" fill="rgba(31,119,180,0.5)" stroke="#136ca8" stroke-width="1.5"/><circle cx="1495.8" cy="385.8" r="2.0" fill="rgba(31,119,180,0.5)" stroke="#136ca8" stroke-width="1.5"/><circle cx="1386.1" cy="360.1" r="2.0" fill="rgba(31,119,180,0.5)" stroke="#136ca8" stroke-width="1.5"/><circle cx="1601.2" cy="437.6" r="2.0" fill="rgba(31,119,180,0.5)" stroke="#136ca8" stroke-width="1.5"/><circle cx="1614.3" cy="453.4" r="2.0" fill="rgba(31,119,180,0.5)" stroke="#136ca8" stroke-width="1.5"/><circle cx="1631.1" cy="484.2" r="2.0" fill="rgba(31,119,180,0.5)" stroke="#136ca8" stroke-width="1.5"/><circle cx="1555.0" cy="517.8" r="2.0" fill="rgba(31,119,180,0.5)" stroke="#136ca8" stroke-width="1.5"/><circle cx="1555.0" cy="524.4" r="2.0" fill="rgba(31,119,180,0.5)" stroke="#136ca8" stroke-width="1.5"/><circle cx="1562.5" cy="632.2" r="2.0" fill="rgba(31,119,180,0.5)" stroke="#136ca8" stroke-width="1.5"/><circle cx="1547.1" cy="646.6" r="2.0" fill="rgba(31,119,180,0.5)" stroke="#136ca8" stroke-width="1.5"/><circle cx="1463.6" cy="501.0" r="2.0" fill="rgba(31,119,180,0.5)" stroke="#136ca8" stroke-width="1.5"/><circle cx="1116.8" cy="478.6" r="2.0" fill="rgba(31,119,180,0.5)" stroke="#136ca8" stroke-width="1.5"/><circle cx="1079.0" cy="489.4" r="2.0" fill="rgba(31,119,180,0.5)" stroke="#136ca8" stroke-width="1.5"/><circle cx="1053.3" cy="517.4" r="2.0" fill="rgba(31,119,180,0.5)" stroke="#136ca8" stroke-width="1.5"/><circle cx="1060.3" cy="554.7" r="2.0" fill="rgba(31,119,180,0.5)" stroke="#136ca8" stroke-width="1.5"/><circle cx="1111.7" cy="587.4" r="2.0" fill="rgba(31,119,180,0.5)" stroke="#136ca8" stroke-width="1.5"/><circle cx="1144.3" cy="614.9" r="2.0" fill="rgba(31,119,180,0.5)" stroke="#136ca8" stroke-width="1.5"/><circle cx="1116.3" cy="666.2" r="2.0" fill="rgba(31,119,180,0.5)" stroke="#136ca8" stroke-width="1.5"/><circle cx="1083.7" cy="648.0" r="2.0" fill="rgba(31,119,180,0.5)" stroke="#136ca8" stroke-width="1.5"/><circle cx="1153.7" cy="661.6" r="2.0" fill="rgba(31,119,180,0.5)" stroke="#136ca8" stroke-width="1.5"/><circle cx="1140.6" cy="485.6" r="2.0" fill="rgba(31,119,180,0.5)" stroke="#136ca8" stroke-width="1.5"/><circle cx="1154.6" cy="489.4" r="2.0" fill="rgba(31,119,180,0.5)" stroke="#136ca8" stroke-width="1.5"/><circle cx="994.5" cy="434.8" r="2.0" fill="rgba(31,119,180,0.5)" stroke="#136ca8" stroke-width="1.5"/><circle cx="1013.2" cy="437.6" r="2.0" fill="rgba(31,119,180,0.5)" stroke="#136ca8" stroke-width="1.5"/><circle cx="1000.6" cy="444.1" r="2.0" fill="rgba(31,119,180,0.5)" stroke="#136ca8" stroke-width="1.5"/><circle cx="1017.9" cy="448.3" r="2.0" fill="rgba(31,119,180,0.5)" stroke="#136ca8" stroke-width="1.5"/><circle cx="1023.5" cy="463.2" r="2.0" fill="rgba(31,119,180,0.5)" stroke="#136ca8" stroke-width="1.5"/><circle cx="1038.4" cy="468.8" r="2.0" fill="rgba(31,119,180,0.5)" stroke="#136ca8" stroke-width="1.5"/><circle cx="1002.5" cy="428.2" r="2.0" fill="rgba(31,119,180,0.5)" stroke="#136ca8" stroke-width="1.5"/><circle cx="1052.4" cy="408.2" r="2.0" fill="rgba(31,119,180,0.5)" stroke="#136ca8" stroke-width="1.5"/><circle cx="1078.1" cy="419.8" r="2.0" fill="rgba(31,119,180,0.5)" stroke="#136ca8" stroke-width="1.5"/><circle cx="1087.9" cy="421.2" r="2.0" fill="rgba(31,119,180,0.5)" stroke="#136ca8" stroke-width="1.5"/><circle cx="1054.7" cy="424.0" r="2.0" fill="rgba(31,119,180,0.5)" stroke="#136ca8" stroke-width="1.5"/><circle cx="1105.1" cy="423.6" r="2.0" fill="rgba(31,119,180,0.5)" stroke="#136ca8" stroke-width="1.5"/><circle cx="1054.3" cy="391.8" r="2.0" fill="rgba(31,119,180,0.5)" stroke="#136ca8" stroke-width="1.5"/><circle cx="1113.1" cy="357.8" r="2.0" fill="rgba(31,119,180,0.5)" stroke="#136ca8" stroke-width="1.5"/><circle cx="1128.5" cy="459.5" r="2.0" fill="rgba(31,119,180,0.5)" stroke="#136ca8" stroke-width="1.5"/><circle cx="1137.8" cy="446.9" r="2.0" fill="rgba(31,119,180,0.5)" stroke="#136ca8" stroke-width="1.5"/><circle cx="1129.9" cy="446.4" r="2.0" fill="rgba(31,119,180,0.5)" stroke="#136ca8" stroke-width="1.5"/><circle cx="1130.8" cy="443.2" r="2.0" fill="rgba(31,119,180,0.5)" stroke="#136ca8" stroke-width="1.5"/><circle cx="1128.9" cy="436.6" r="2.0" fill="rgba(31,119,180,0.5)" stroke="#136ca8" stroke-width="1.5"/><circle cx="1127.1" cy="428.7" r="2.0" fill="rgba(31,119,180,0.5)" stroke="#136ca8" stroke-width="1.5"/><circle cx="1122.4" cy="427.8" r="2.0" fill="rgba(31,119,180,0.5)" stroke="#136ca8" stroke-width="1.5"/><circle cx="1127.5" cy="452.0" r="2.0" fill="rgba(31,119,180,0.5)" stroke="#136ca8" stroke-width="1.5"/><circle cx="1089.3" cy="450.2" r="2.0" fill="rgba(31,119,180,0.5)" stroke="#136ca8" stroke-width="1.5"/><circle cx="1093.5" cy="451.6" r="2.0" fill="rgba(31,119,180,0.5)" stroke="#136ca8" stroke-width="1.5"/><circle cx="1036.5" cy="418.4" r="2.0" fill="rgba(31,119,180,0.5)" stroke="#136ca8" stroke-width="1.5"/><circle cx="1080.4" cy="407.2" r="2.0" fill="rgba(31,119,180,0.5)" stroke="#136ca8" stroke-width="1.5"/><circle cx="1114.0" cy="422.6" r="2.0" fill="rgba(31,119,180,0.5)" stroke="#136ca8" stroke-width="1.5"/><circle cx="969.8" cy="228.5" r="2.0" fill="rgba(31,119,180,0.5)" stroke="#136ca8" stroke-width="1.5"/><circle cx="1216.7" cy="173.9" r="2.0" fill="rgba(31,119,180,0.5)" stroke="#136ca8" stroke-width="1.5"/><circle cx="1326.8" cy="205.6" r="2.0" fill="rgba(31,119,180,0.5)" stroke="#136ca8" stroke-width="1.5"/><circle cx="1305.4" cy="438.0" r="2.0" fill="rgba(31,119,180,0.5)" stroke="#136ca8" stroke-width="1.5"/><circle cx="1446.3" cy="507.6" r="2.0" fill="rgba(31,119,180,0.5)" stroke="#136ca8" stroke-width="1.5"/><circle cx="1674.5" cy="530.0" r="2.0" fill="rgba(31,119,180,0.5)" stroke="#136ca8" stroke-width="1.5"/><circle cx="1684.3" cy="603.2" r="2.0" fill="rgba(31,119,180,0.5)" stroke="#136ca8" stroke-width="1.5"/><circle cx="1620.4" cy="564.0" r="2.0" fill="rgba(31,119,180,0.5)" stroke="#136ca8" stroke-width="1.5"/><circle cx="1757.1" cy="493.6" r="2.0" fill="rgba(31,119,180,0.5)" stroke="#136ca8" stroke-width="1.5"/><circle cx="1482.7" cy="341.0" r="2.0" fill="rgba(31,119,180,0.5)" stroke="#136ca8" stroke-width="1.5"/><circle cx="1571.4" cy="344.7" r="2.0" fill="rgba(31,119,180,0.5)" stroke="#136ca8" stroke-width="1.5"/><circle cx="1377.2" cy="259.3" r="2.0" fill="rgba(31,119,180,0.5)" stroke="#136ca8" stroke-width="1.5"/><circle cx="1440.2" cy="265.3" r="2.0" fill="rgba(31,119,180,0.5)" stroke="#136ca8" stroke-width="1.5"/><circle cx="1436.5" cy="272.8" r="2.0" fill="rgba(31,119,180,0.5)" stroke="#136ca8" stroke-width="1.5"/><circle cx="1444.0" cy="276.1" r="2.0" fill="rgba(31,119,180,0.5)" stroke="#136ca8" stroke-width="1.5"/><circle cx="1453.8" cy="290.1" r="2.0" fill="rgba(31,119,180,0.5)" stroke="#136ca8" stroke-width="1.5"/><circle cx="1483.6" cy="286.8" r="2.0" fill="rgba(31,119,180,0.5)" stroke="#136ca8" stroke-width="1.5"/><circle cx="1487.8" cy="276.1" r="2.0" fill="rgba(31,119,180,0.5)" stroke="#136ca8" stroke-width="1.5"/><circle cx="1504.6" cy="265.3" r="2.5" fill="rgba(31,119,180,0.5)" stroke="#136ca8" stroke-width="1.5"/><circle cx="1507.4" cy="281.2" r="2.0" fill="rgba(31,119,180,0.5)" stroke="#136ca8" stroke-width="1.5"/><circle cx="1506.5" cy="288.2" r="2.0" fill="rgba(31,119,180,0.5)" stroke="#136ca8" stroke-width="1.5"/><circle cx="1485.0" cy="293.4" r="2.0" fill="rgba(31,119,180,0.5)" stroke="#136ca8" stroke-width="1.5"/><circle cx="1486.4" cy="298.0" r="2.0" fill="rgba(31,119,180,0.5)" stroke="#136ca8" stroke-width="1.5"/><circle cx="1498.1" cy="302.2" r="2.0" fill="rgba(31,119,180,0.5)" stroke="#136ca8" stroke-width="1.5"/><circle cx="1513.5" cy="303.2" r="2.0" fill="rgba(31,119,180,0.5)" stroke="#136ca8" stroke-width="1.5"/><circle cx="1506.0" cy="309.2" r="2.0" fill="rgba(31,119,180,0.5)" stroke="#136ca8" stroke-width="1.5"/><circle cx="1513.0" cy="309.7" r="2.0" fill="rgba(31,119,180,0.5)" stroke="#136ca8" stroke-width="1.5"/><circle cx="1509.8" cy="316.2" r="2.0" fill="rgba(31,119,180,0.5)" stroke="#136ca8" stroke-width="1.5"/><circle cx="1516.8" cy="314.4" r="2.0" fill="rgba(31,119,180,0.5)" stroke="#136ca8" stroke-width="1.5"/><circle cx="1517.2" cy="326.0" r="2.0" fill="rgba(31,119,180,0.5)" stroke="#136ca8" stroke-width="1.5"/><circle cx="1534.5" cy="309.2" r="2.0" fill="rgba(31,119,180,0.5)" stroke="#136ca8" stroke-width="1.5"/><circle cx="1532.2" cy="294.3" r="2.0" fill="rgba(31,119,180,0.5)" stroke="#136ca8" stroke-width="1.5"/><circle cx="1548.0" cy="287.3" r="2.0" fill="rgba(31,119,180,0.5)" stroke="#136ca8" stroke-width="1.5"/><circle cx="1561.1" cy="282.6" r="2.0" fill="rgba(31,119,180,0.5)" stroke="#136ca8" stroke-width="1.5"/><circle cx="1546.2" cy="257.9" r="2.0" fill="rgba(31,119,180,0.5)" stroke="#136ca8" stroke-width="1.5"/><circle cx="1527.0" cy="250.9" r="2.0" fill="rgba(31,119,180,0.5)" stroke="#136ca8" stroke-width="1.5"/><circle cx="1530.3" cy="242.9" r="2.0" fill="rgba(31,119,180,0.5)" stroke="#136ca8" stroke-width="1.5"/><circle cx="1532.2" cy="235.0" r="2.0" fill="rgba(31,119,180,0.5)" stroke="#136ca8" stroke-width="1.5"/><circle cx="1536.8" cy="209.8" r="2.0" fill="rgba(31,119,180,0.5)" stroke="#136ca8" stroke-width="1.5"/><circle cx="1485.5" cy="219.1" r="2.0" fill="rgba(31,119,180,0.5)" stroke="#136ca8" stroke-width="1.5"/><circle cx="1455.2" cy="223.8" r="2.0" fill="rgba(31,119,180,0.5)" stroke="#136ca8" stroke-width="1.5"/><circle cx="1459.8" cy="247.1" r="2.0" fill="rgba(31,119,180,0.5)" stroke="#136ca8" stroke-width="1.5"/><circle cx="1377.2" cy="323.7" r="2.0" fill="rgba(31,119,180,0.5)" stroke="#136ca8" stroke-width="1.5"/><circle cx="1618.0" cy="311.1" r="2.0" fill="rgba(31,119,180,0.5)" stroke="#136ca8" stroke-width="1.5"/><circle cx="1625.5" cy="321.4" r="2.0" fill="rgba(31,119,180,0.5)" stroke="#136ca8" stroke-width="1.5"/><circle cx="1637.6" cy="321.4" r="2.0" fill="rgba(31,119,180,0.5)" stroke="#136ca8" stroke-width="1.5"/><circle cx="1583.0" cy="350.3" r="2.0" fill="rgba(31,119,180,0.5)" stroke="#136ca8" stroke-width="1.5"/><circle cx="1578.4" cy="363.8" r="2.0" fill="rgba(31,119,180,0.5)" stroke="#136ca8" stroke-width="1.5"/><circle cx="1584.4" cy="365.7" r="2.0" fill="rgba(31,119,180,0.5)" stroke="#136ca8" stroke-width="1.5"/><circle cx="1637.2" cy="371.8" r="2.0" fill="rgba(31,119,180,0.5)" stroke="#136ca8" stroke-width="1.5"/><circle cx="1651.7" cy="387.2" r="2.0" fill="rgba(31,119,180,0.5)" stroke="#136ca8" stroke-width="1.5"/><circle cx="1654.5" cy="390.4" r="2.0" fill="rgba(31,119,180,0.5)" stroke="#136ca8" stroke-width="1.5"/><circle cx="1668.9" cy="397.0" r="2.0" fill="rgba(31,119,180,0.5)" stroke="#136ca8" stroke-width="1.5"/><circle cx="1683.9" cy="410.5" r="2.0" fill="rgba(31,119,180,0.5)" stroke="#136ca8" stroke-width="1.5"/><circle cx="1837.4" cy="380.2" r="2.0" fill="rgba(31,119,180,0.5)" stroke="#136ca8" stroke-width="1.5"/><circle cx="1950.8" cy="487.5" r="2.0" fill="rgba(31,119,180,0.5)" stroke="#136ca8" stroke-width="1.5"/><circle cx="1899.9" cy="502.2" r="2.0" fill="rgba(31,119,180,0.5)" stroke="#136ca8" stroke-width="1.5"/><circle cx="1974.6" cy="531.4" r="6.7" fill="rgba(31,119,180,0.5)" stroke="#136ca8" stroke-width="1.5"/><circle cx="2092.2" cy="537.9" r="2.0" fill="rgba(31,119,180,0.5)" stroke="#136ca8" stroke-width="1.5"/><circle cx="2162.2" cy="553.3" r="2.0" fill="rgba(31,119,180,0.5)" stroke="#136ca8" stroke-width="1.5"/><circle cx="2194.4" cy="580.4" r="2.0" fill="rgba(31,119,180,0.5)" stroke="#136ca8" stroke-width="1.5"/><circle cx="2246.7" cy="591.1" r="2.0" fill="rgba(31,119,180,0.5)" stroke="#136ca8" stroke-width="1.5"/><circle cx="2220.6" cy="499.6" r="2.0" fill="rgba(31,119,180,0.5)" stroke="#136ca8" stroke-width="1.5"/><circle cx="2214.5" cy="475.4" r="2.0" fill="rgba(31,119,180,0.5)" stroke="#136ca8" stroke-width="1.5"/><circle cx="2153.8" cy="476.3" r="2.0" fill="rgba(31,119,180,0.5)" stroke="#136ca8" stroke-width="1.5"/><circle cx="2043.7" cy="473.5" r="2.0" fill="rgba(31,119,180,0.5)" stroke="#136ca8" stroke-width="1.5"/><circle cx="2091.3" cy="446.0" r="2.0" fill="rgba(31,119,180,0.5)" stroke="#136ca8" stroke-width="1.5"/><circle cx="2095.5" cy="437.6" r="2.0" fill="rgba(31,119,180,0.5)" stroke="#136ca8" stroke-width="1.5"/><circle cx="612.3" cy="572.9" r="2.0" fill="rgba(31,119,180,0.5)" stroke="#136ca8" stroke-width="1.5"/><circle cx="597.8" cy="607.4" r="2.0" fill="rgba(31,119,180,0.5)" stroke="#136ca8" stroke-width="1.5"/><circle cx="718.3" cy="591.1" r="2.0" fill="rgba(31,119,180,0.5)" stroke="#136ca8" stroke-width="1.5"/><circle cx="618.8" cy="575.2" r="2.0" fill="rgba(31,119,180,0.5)" stroke="#136ca8" stroke-width="1.5"/><circle cx="2188.4" cy="607.9" r="2.0" fill="rgba(31,119,180,0.5)" stroke="#136ca8" stroke-width="1.5"/><circle cx="2035.3" cy="633.8" r="2.0" fill="rgba(31,119,180,0.5)" stroke="#136ca8" stroke-width="1.5"/><circle cx="2220.6" cy="702.2" r="2.0" fill="rgba(31,119,180,0.5)" stroke="#136ca8" stroke-width="1.5"/><circle cx="1382.8" cy="219.1" r="2.0" fill="rgba(31,119,180,0.5)" stroke="#136ca8" stroke-width="1.5"/><circle cx="680.4" cy="410.5" r="2.0" fill="rgba(31,119,180,0.5)" stroke="#136ca8" stroke-width="1.5"/><circle cx="668.8" cy="417.5" r="2.0" fill="rgba(31,119,180,0.5)" stroke="#136ca8" stroke-width="1.5"/></g></svg>
<div class="grip" style="left:2278px;top:204px;height:30px"></div>
<div class="grip" style="left:2278px;top:240px;height:30px"></div>
<div class="panel" style="left:2302px;top:144px;width:726px;height:1104px"></div>
<div class="ttl" style="left:2326px;top:172.7px;font-size:24px">Most Populated Countries</div>
<div class="keb" style="left:2998.0px;top:170.0px"><i></i><i></i><i></i></div>
<div class="abs" style="left:2334px;top:214px;font-size:18px;font-weight:700;line-height:20px;color:#262626">country_name</div>
<div class="abs" style="left:2718px;top:214px;font-size:17.4px;font-weight:700;line-height:20px;color:#262626">sum__SP_POP_TOTL</div>
<svg class="abs" style="left:2691px;top:213px" width="12" height="16"><path d="M1 6 L6 1 L11 6 Z M1 10 L6 15 L11 10 Z" fill="#c7c7c7"/></svg>
<svg class="abs" style="left:2985px;top:213px" width="12" height="16"><path d="M1 6 L6 1 L11 6 Z M1 10 L6 15 L11 10 Z" fill="#c7c7c7"/></svg>
<div class="abs" style="left:2326px;top:241.3px;width:678px;height:2px;background:#d2dde1"></div>
<div class="abs" style="left:2326px;top:243.3px;width:678px;height:36.5px;background:#fafafa"></div>
<div class="abs" style="left:2710px;top:242.8px;width:294.0px;height:37.5px;background:#cacaca"></div>
<div class="abs" style="left:2334px;top:250.8px;font-size:18px;line-height:22px;color:#333;white-space:nowrap">China</div>
<div class="abs" style="right:68px;top:250.8px;font-size:17.6px;line-height:22px;color:#333;white-space:nowrap">1.36B</div>
<div class="abs" style="left:2326px;top:279.3px;width:678px;height:2px;background:#d2dde1"></div>
<div class="abs" style="left:2710px;top:280.8px;width:279.1px;height:37.5px;background:#cacaca"></div>
<div class="abs" style="left:2334px;top:288.8px;font-size:18px;line-height:22px;color:#333;white-space:nowrap">India</div>
<div class="abs" style="right:68px;top:288.8px;font-size:17.6px;line-height:22px;color:#333;white-space:nowrap">1.3B</div>
<div class="abs" style="left:2326px;top:317.4px;width:678px;height:2px;background:#d2dde1"></div>
<div class="abs" style="left:2326px;top:319.4px;width:678px;height:36.5px;background:#fafafa"></div>
<div class="abs" style="left:2710px;top:318.9px;width:68.8px;height:37.5px;background:#cacaca"></div>
<div class="abs" style="left:2334px;top:326.9px;font-size:18px;line-height:22px;color:#333;white-space:nowrap">United States</div>
<div class="abs" style="right:68px;top:326.9px;font-size:17.6px;line-height:22px;color:#333;white-space:nowrap">319M</div>
<div class="abs" style="left:2326px;top:355.4px;width:678px;height:2px;background:#d2dde1"></div>
<div class="abs" style="left:2710px;top:356.9px;width:54.7px;height:37.5px;background:#cacaca"></div>
<div class="abs" style="left:2334px;top:364.9px;font-size:18px;line-height:22px;color:#333;white-space:nowrap">Indonesia</div>
<div class="abs" style="right:68px;top:364.9px;font-size:17.6px;line-height:22px;color:#333;white-space:nowrap">254M</div>
<div class="abs" style="left:2326px;top:393.5px;width:678px;height:2px;background:#d2dde1"></div>
<div class="abs" style="left:2326px;top:395.5px;width:678px;height:36.5px;background:#fafafa"></div>
<div class="abs" style="left:2710px;top:395.0px;width:44.4px;height:37.5px;background:#cacaca"></div>
<div class="abs" style="left:2334px;top:403.0px;font-size:18px;line-height:22px;color:#333;white-space:nowrap">Brazil</div>
<div class="abs" style="right:68px;top:403.0px;font-size:17.6px;line-height:22px;color:#333;white-space:nowrap">206M</div>
<div class="abs" style="left:2326px;top:431.5px;width:678px;height:2px;background:#d2dde1"></div>
<div class="abs" style="left:2710px;top:433.0px;width:39.9px;height:37.5px;background:#cacaca"></div>
<div class="abs" style="left:2334px;top:441.0px;font-size:18px;line-height:22px;color:#333;white-space:nowrap">Pakistan</div>
<div class="abs" style="right:68px;top:441.0px;font-size:17.6px;line-height:22px;color:#333;white-space:nowrap">185M</div>
<div class="abs" style="left:2326px;top:469.5px;width:678px;height:2px;background:#d2dde1"></div>
<div class="abs" style="left:2326px;top:471.5px;width:678px;height:36.5px;background:#fafafa"></div>
<div class="abs" style="left:2710px;top:471.0px;width:38.2px;height:37.5px;background:#cacaca"></div>
<div class="abs" style="left:2334px;top:479.0px;font-size:18px;line-height:22px;color:#333;white-space:nowrap">Nigeria</div>
<div class="abs" style="right:68px;top:479.0px;font-size:17.6px;line-height:22px;color:#333;white-space:nowrap">177M</div>
<div class="abs" style="left:2326px;top:507.6px;width:678px;height:2px;background:#d2dde1"></div>
<div class="abs" style="left:2710px;top:509.1px;width:34.3px;height:37.5px;background:#cacaca"></div>
<div class="abs" style="left:2334px;top:517.1px;font-size:18px;line-height:22px;color:#333;white-space:nowrap">Bangladesh</div>
<div class="abs" style="right:68px;top:517.1px;font-size:17.6px;line-height:22px;color:#333;white-space:nowrap">159M</div>
<div class="abs" style="left:2326px;top:545.6px;width:678px;height:2px;background:#d2dde1"></div>
<div class="abs" style="left:2326px;top:547.6px;width:678px;height:36.5px;background:#fafafa"></div>
<div class="abs" style="left:2710px;top:547.1px;width:31.0px;height:37.5px;background:#cacaca"></div>
<div class="abs" style="left:2334px;top:555.1px;font-size:18px;line-height:22px;color:#333;white-space:nowrap">Russian Federation</div>
<div class="abs" style="right:68px;top:555.1px;font-size:17.6px;line-height:22px;color:#333;white-space:nowrap">144M</div>
<div class="abs" style="left:2326px;top:583.7px;width:678px;height:2px;background:#d2dde1"></div>
<div class="abs" style="left:2710px;top:585.2px;width:27.4px;height:37.5px;background:#cacaca"></div>
<div class="abs" style="left:2334px;top:593.2px;font-size:18px;line-height:22px;color:#333;white-space:nowrap">Japan</div>
<div class="abs" style="right:68px;top:593.2px;font-size:17.6px;line-height:22px;color:#333;white-space:nowrap">127M</div>
<div class="abs" style="left:2326px;top:621.7px;width:678px;height:2px;background:#d2dde1"></div>
<div class="abs" style="left:2326px;top:623.7px;width:678px;height:36.5px;background:#fafafa"></div>
<div class="abs" style="left:2710px;top:623.2px;width:26.9px;height:37.5px;background:#cacaca"></div>
<div class="abs" style="left:2334px;top:631.2px;font-size:18px;line-height:22px;color:#333;white-space:nowrap">Mexico</div>
<div class="abs" style="right:68px;top:631.2px;font-size:17.6px;line-height:22px;color:#333;white-space:nowrap">125M</div>
<div class="abs" style="left:2326px;top:659.7px;width:678px;height:2px;background:#d2dde1"></div>
<div class="abs" style="left:2710px;top:661.2px;width:21.4px;height:37.5px;background:#cacaca"></div>
<div class="abs" style="left:2334px;top:669.2px;font-size:18px;line-height:22px;color:#333;white-space:nowrap">Philippines</div>
<div class="abs" style="right:68px;top:669.2px;font-size:17.6px;line-height:22px;color:#333;white-space:nowrap">99.1M</div>
<div class="abs" style="left:2326px;top:697.8px;width:678px;height:2px;background:#d2dde1"></div>
<div class="abs" style="left:2326px;top:699.8px;width:678px;height:36.5px;background:#fafafa"></div>
<div class="abs" style="left:2710px;top:699.3px;width:20.9px;height:37.5px;background:#cacaca"></div>
<div class="abs" style="left:2334px;top:707.3px;font-size:18px;line-height:22px;color:#333;white-space:nowrap">Ethiopia</div>
<div class="abs" style="right:68px;top:707.3px;font-size:17.6px;line-height:22px;color:#333;white-space:nowrap">97M</div>
<div class="abs" style="left:2326px;top:735.8px;width:678px;height:2px;background:#d2dde1"></div>
<div class="abs" style="left:2710px;top:737.3px;width:19.5px;height:37.5px;background:#cacaca"></div>
<div class="abs" style="left:2334px;top:745.3px;font-size:18px;line-height:22px;color:#333;white-space:nowrap">Vietnam</div>
<div class="abs" style="right:68px;top:745.3px;font-size:17.6px;line-height:22px;color:#333;white-space:nowrap">90.7M</div>
<div class="abs" style="left:2326px;top:773.9px;width:678px;height:2px;background:#d2dde1"></div>
<div class="abs" style="left:2326px;top:775.9px;width:678px;height:36.5px;background:#fafafa"></div>
<div class="abs" style="left:2710px;top:775.4px;width:19.3px;height:37.5px;background:#cacaca"></div>
<div class="abs" style="left:2334px;top:783.4px;font-size:18px;line-height:22px;color:#333;white-space:nowrap">Egypt, Arab Rep.</div>
<div class="abs" style="right:68px;top:783.4px;font-size:17.6px;line-height:22px;color:#333;white-space:nowrap">89.6M</div>
<div class="abs" style="left:2326px;top:811.9px;width:678px;height:2px;background:#d2dde1"></div>
<div class="abs" style="left:2710px;top:813.4px;width:17.4px;height:37.5px;background:#cacaca"></div>
<div class="abs" style="left:2334px;top:821.4px;font-size:18px;line-height:22px;color:#333;white-space:nowrap">Germany</div>
<div class="abs" style="right:68px;top:821.4px;font-size:17.6px;line-height:22px;color:#333;white-space:nowrap">80.9M</div>
<div class="abs" style="left:2326px;top:849.9px;width:678px;height:2px;background:#d2dde1"></div>
<div class="abs" style="left:2326px;top:851.9px;width:678px;height:36.5px;background:#fafafa"></div>
<div class="abs" style="left:2710px;top:851.4px;width:16.8px;height:37.5px;background:#cacaca"></div>
<div class="abs" style="left:2334px;top:859.4px;font-size:18px;line-height:22px;color:#333;white-space:nowrap">Iran, Islamic Rep.</div>
<div class="abs" style="right:68px;top:859.4px;font-size:17.6px;line-height:22px;color:#333;white-space:nowrap">78.1M</div>
<div class="abs" style="left:2326px;top:888.0px;width:678px;height:2px;background:#d2dde1"></div>
<div class="abs" style="left:2710px;top:889.5px;width:16.4px;height:37.5px;background:#cacaca"></div>
<div class="abs" style="left:2334px;top:897.5px;font-size:18px;line-height:22px;color:#333;white-space:nowrap">Turkey</div>
<div class="abs" style="right:68px;top:897.5px;font-size:17.6px;line-height:22px;color:#333;white-space:nowrap">75.9M</div>
<div class="abs" style="left:2326px;top:926.0px;width:678px;height:2px;background:#d2dde1"></div>
<div class="abs" style="left:2326px;top:928.0px;width:678px;height:36.5px;background:#fafafa"></div>
<div class="abs" style="left:2710px;top:927.5px;width:16.1px;height:37.5px;background:#cacaca"></div>
<div class="abs" style="left:2334px;top:935.5px;font-size:18px;line-height:22px;color:#333;white-space:nowrap">Congo, Dem. Rep.</div>
<div class="abs" style="right:68px;top:935.5px;font-size:17.6px;line-height:22px;color:#333;white-space:nowrap">74.9M</div>
<div class="abs" style="left:2326px;top:964.1px;width:678px;height:2px;background:#d2dde1"></div>
<div class="abs" style="left:2710px;top:965.6px;width:14.6px;height:37.5px;background:#cacaca"></div>
<div class="abs" style="left:2334px;top:973.6px;font-size:18px;line-height:22px;color:#333;white-space:nowrap">Thailand</div>
<div class="abs" style="right:68px;top:973.6px;font-size:17.6px;line-height:22px;color:#333;white-space:nowrap">67.7M</div>
<div class="abs" style="left:2326px;top:1002.1px;width:678px;height:2px;background:#d2dde1"></div>
<div class="abs" style="left:2326px;top:1004.1px;width:678px;height:36.5px;background:#fafafa"></div>
<div class="abs" style="left:2710px;top:1003.6px;width:14.3px;height:37.5px;background:#cacaca"></div>
<div class="abs" style="left:2334px;top:1011.6px;font-size:18px;line-height:22px;color:#333;white-space:nowrap">France</div>
<div class="abs" style="right:68px;top:1011.6px;font-size:17.6px;line-height:22px;color:#333;white-space:nowrap">66.2M</div>
<div class="abs" style="left:2326px;top:1040.1px;width:678px;height:2px;background:#d2dde1"></div>
<div class="abs" style="left:2710px;top:1041.6px;width:13.9px;height:37.5px;background:#cacaca"></div>
<div class="abs" style="left:2334px;top:1049.6px;font-size:18px;line-height:22px;color:#333;white-space:nowrap">United Kingdom</div>
<div class="abs" style="right:68px;top:1049.6px;font-size:17.6px;line-height:22px;color:#333;white-space:nowrap">64.5M</div>
<div class="abs" style="left:2326px;top:1078.2px;width:678px;height:2px;background:#d2dde1"></div>
<div class="abs" style="left:2326px;top:1080.2px;width:678px;height:36.5px;background:#fafafa"></div>
<div class="abs" style="left:2710px;top:1079.7px;width:13.2px;height:37.5px;background:#cacaca"></div>
<div class="abs" style="left:2334px;top:1087.7px;font-size:18px;line-height:22px;color:#333;white-space:nowrap">Italy</div>
<div class="abs" style="right:68px;top:1087.7px;font-size:17.6px;line-height:22px;color:#333;white-space:nowrap">61.3M</div>
<div class="abs" style="left:2326px;top:1116.2px;width:678px;height:2px;background:#d2dde1"></div>
<div class="abs" style="left:2710px;top:1117.7px;width:11.6px;height:37.5px;background:#cacaca"></div>
<div class="abs" style="left:2334px;top:1125.7px;font-size:18px;line-height:22px;color:#333;white-space:nowrap">South Africa</div>
<div class="abs" style="right:68px;top:1125.7px;font-size:17.6px;line-height:22px;color:#333;white-space:nowrap">54M</div>
<div class="abs" style="left:2326px;top:1154.3px;width:678px;height:2px;background:#d2dde1"></div>
<div class="abs" style="left:2326px;top:1156.3px;width:678px;height:36.5px;background:#fafafa"></div>
<div class="abs" style="left:2710px;top:1155.8px;width:11.5px;height:37.5px;background:#cacaca"></div>
<div class="abs" style="left:2334px;top:1163.8px;font-size:18px;line-height:22px;color:#333;white-space:nowrap">Myanmar</div>
<div class="abs" style="right:68px;top:1163.8px;font-size:17.6px;line-height:22px;color:#333;white-space:nowrap">53.4M</div>
<div class="abs" style="left:2326px;top:1192.3px;width:678px;height:2px;background:#d2dde1"></div>
<div class="abs" style="left:2710px;top:1193.8px;width:11.2px;height:37.5px;background:#cacaca"></div>
<div class="abs" style="left:2334px;top:1201.8px;font-size:18px;line-height:22px;color:#333;white-space:nowrap">Tanzania</div>
<div class="abs" style="right:68px;top:1201.8px;font-size:17.6px;line-height:22px;color:#333;white-space:nowrap">51.8M</div>
<div class="grip" style="left:3028px;top:204px;height:30px"></div>
<div class="grip" style="left:3028px;top:240px;height:30px"></div>
<div class="panel" style="left:52px;top:792px;width:1476px;height:455px"></div>
<div class="ttl" style="left:76px;top:820.7px;font-size:24px">Growth Rate</div>
<div class="keb" style="left:1498.0px;top:818.0px"><i></i><i></i><i></i></div>
<svg class="abs" style="left:0;top:0" width="1540" height="1250"><circle cx="189.0" cy="876.4" r="9" fill="#5cc6e0"/><text class="lg" x="201.5" y="882.0">Bangladesh</text><circle cx="393.0" cy="876.4" r="9" fill="#e9555f"/><text class="lg" x="405.5" y="882.0">Brazil</text><circle cx="510.0" cy="876.4" r="9" fill="#484e5a"/><text class="lg" x="522.5" y="882.0">China</text><circle cx="612.7" cy="876.4" r="9" fill="#ff874f"/><text class="lg" x="625.2" y="882.0">Egypt, Arab Rep.</text><circle cx="797.7" cy="876.4" r="9" fill="#0b6f8c"/><text class="lg" x="810.2" y="882.0">Ethiopia</text><circle cx="973.6" cy="876.4" r="9" fill="#c7b8a6"/><text class="lg" x="986.1" y="882.0">France</text><circle cx="1129.7" cy="876.4" r="9" fill="#a875a9"/><text class="lg" x="1142.2" y="882.0">Germany</text><circle cx="1251.9" cy="876.4" r="9" fill="#b0e9d6"/><text class="lg" x="1264.4" y="882.0">India</text><circle cx="1368.6" cy="876.4" r="9" fill="#fde39f"/><text class="lg" x="1381.1" y="882.0">Indonesia</text><circle cx="189.0" cy="906.2" r="9" fill="#9ebfbf"/><text class="lg" x="201.5" y="911.8">Iran, Islamic Rep.</text><circle cx="393.0" cy="906.2" r="9" fill="#b1e3ee"/><text class="lg" x="405.5" y="911.8">Italy</text><circle cx="510.0" cy="906.2" r="9" fill="#f0a8ad"/><text class="lg" x="522.5" y="911.8">Japan</text><circle cx="612.7" cy="906.2" r="9" fill="#a6a6ab"/><text class="lg" x="625.2" y="911.8">Korea, Rep.</text><circle cx="797.7" cy="906.2" r="9" fill="#ffc3a7"/><text class="lg" x="810.2" y="911.8">Mexico</text><circle cx="973.6" cy="906.2" r="9" fill="#80b7c8"/><text class="lg" x="986.1" y="911.8">Myanmar</text><circle cx="1129.7" cy="906.2" r="9" fill="#e1dbd5"/><text class="lg" x="1142.2" y="911.8">Nigeria</text><circle cx="1251.9" cy="906.2" r="9" fill="#d7bbd9"/><text class="lg" x="1264.4" y="911.8">Pakistan</text><circle cx="1368.6" cy="906.2" r="9" fill="#6bcfa8"/><text class="lg" x="1381.1" y="911.8">Philippines</text><circle cx="189.0" cy="936.0" r="9" fill="#fcc54b"/><text class="lg" x="201.5" y="941.6">Russian Federation</text><circle cx="393.0" cy="936.0" r="9" fill="#417d81"/><text class="lg" x="405.5" y="941.6">Thailand</text><circle cx="510.0" cy="936.0" r="9" fill="#5cc6e0"/><text class="lg" x="522.5" y="941.6">Turkey</text><circle cx="612.7" cy="936.0" r="9" fill="#e9555f"/><text class="lg" x="625.2" y="941.6">Ukraine</text><circle cx="797.7" cy="936.0" r="9" fill="#484e5a"/><text class="lg" x="810.2" y="941.6">United Kingdom</text><circle cx="973.6" cy="936.0" r="9" fill="#ff874f"/><text class="lg" x="986.1" y="941.6">United States</text><circle cx="1129.7" cy="936.0" r="9" fill="#0b6f8c"/><text class="lg" x="1142.2" y="941.6">Vietnam</text><line x1="413.6" y1="959" x2="413.6" y2="1187.5" stroke="#e3e3e3" stroke-width="2"/><line x1="661.4" y1="959" x2="661.4" y2="1187.5" stroke="#e3e3e3" stroke-width="2"/><line x1="909.2" y1="959" x2="909.2" y2="1187.5" stroke="#e3e3e3" stroke-width="2"/><line x1="1157.0" y1="959" x2="1157.0" y2="1187.5" stroke="#e3e3e3" stroke-width="2"/><line x1="1404.8" y1="959" x2="1404.8" y2="1187.5" stroke="#e3e3e3" stroke-width="2"/><line x1="165.8" y1="1157.5" x2="1503.9" y2="1157.5" stroke="#e3e3e3" stroke-width="2"/><text class="ax" x="160.6" y="1163.7" text-anchor="end">200M</text><line x1="165.8" y1="1123.3" x2="1503.9" y2="1123.3" stroke="#e3e3e3" stroke-width="2"/><text class="ax" x="160.6" y="1129.5" text-anchor="end">400M</text><line x1="165.8" y1="1089.1" x2="1503.9" y2="1089.1" stroke="#e3e3e3" stroke-width="2"/><text class="ax" x="160.6" y="1095.3" text-anchor="end">600M</text><line x1="165.8" y1="1054.9" x2="1503.9" y2="1054.9" stroke="#e3e3e3" stroke-width="2"/><text class="ax" x="160.6" y="1061.1" text-anchor="end">800M</text><line x1="165.8" y1="1020.7" x2="1503.9" y2="1020.7" stroke="#e3e3e3" stroke-width="2"/><text class="ax" x="160.6" y="1026.9" text-anchor="end">1B</text><line x1="165.8" y1="986.5" x2="1503.9" y2="986.5" stroke="#e3e3e3" stroke-width="2"/><text class="ax" x="160.6" y="992.7" text-anchor="end">1.2B</text><text class="ax" x="165.8" y="1211.2" text-anchor="middle">1960</text><text class="ax" x="413.6" y="1211.2" text-anchor="middle">1970</text><text class="ax" x="661.4" y="1211.2" text-anchor="middle">1980</text><text class="ax" x="909.2" y="1211.2" text-anchor="middle">1990</text><text class="ax" x="1157.0" y="1211.2" text-anchor="middle">2000</text><text class="ax" x="1404.8" y="1211.2" text-anchor="middle">2010</text><path d="M165.8 1184.3 L190.6 1184.3 L215.4 1184.2 L240.1 1184.1 L264.9 1184.1 L289.7 1184.0 L314.5 1183.9 L339.3 1183.9 L364.0 1183.8 L388.8 1183.7 L413.6 1183.7 L438.4 1183.6 L463.2 1183.5 L487.9 1183.5 L512.7 1183.4 L537.5 1183.4 L562.3 1183.3 L587.1 1183.3 L611.8 1183.2 L636.6 1183.2 L661.4 1183.2 L686.2 1183.1 L711.0 1183.1 L735.7 1183.0 L760.5 1183.0 L785.3 1182.9 L810.1 1182.9 L834.9 1182.8 L859.6 1182.8 L884.4 1182.8 L909.2 1182.8 L934.0 1182.8 L958.8 1182.9 L983.5 1182.9 L1008.3 1183.0 L1033.1 1183.0 L1057.9 1183.1 L1082.7 1183.1 L1107.4 1183.2 L1132.2 1183.3 L1157.0 1183.3 L1181.8 1183.4 L1206.6 1183.4 L1231.3 1183.5 L1256.1 1183.5 L1280.9 1183.6 L1305.7 1183.6 L1330.5 1183.7 L1355.2 1183.7 L1380.0 1183.8 L1404.8 1183.8 L1429.6 1183.9 L1454.4 1183.9 L1479.1 1184.0 L1503.9 1184.0" fill="none" stroke="#e9555f" stroke-width="2.6"/><path d="M165.8 1187.4 L190.6 1187.3 L215.4 1187.2 L240.1 1187.1 L264.9 1186.9 L289.7 1186.8 L314.5 1186.7 L339.3 1186.6 L364.0 1186.5 L388.8 1186.3 L413.6 1186.2 L438.4 1186.1 L463.2 1186.0 L487.9 1185.9 L512.7 1185.8 L537.5 1185.7 L562.3 1185.6 L587.1 1185.5 L611.8 1185.4 L636.6 1185.3 L661.4 1185.2 L686.2 1185.1 L711.0 1185.0 L735.7 1184.9 L760.5 1184.8 L785.3 1184.8 L810.1 1184.7 L834.9 1184.6 L859.6 1184.5 L884.4 1184.4 L909.2 1184.3 L934.0 1184.3 L958.8 1184.2 L983.5 1184.1 L1008.3 1184.0 L1033.1 1184.0 L1057.9 1183.9 L1082.7 1183.8 L1107.4 1183.8 L1132.2 1183.7 L1157.0 1183.7 L1181.8 1183.6 L1206.6 1183.6 L1231.3 1183.5 L1256.1 1183.5 L1280.9 1183.5 L1305.7 1183.4 L1330.5 1183.4 L1355.2 1183.4 L1380.0 1183.4 L1404.8 1183.3 L1429.6 1183.3 L1454.4 1183.2 L1479.1 1183.2 L1503.9 1183.2" fill="none" stroke="#a6a6ab" stroke-width="2.6"/><path d="M165.8 1188.1 L190.6 1188.0 L215.4 1187.9 L240.1 1187.8 L264.9 1187.7 L289.7 1187.6 L314.5 1187.5 L339.3 1187.4 L364.0 1187.3 L388.8 1187.2 L413.6 1187.1 L438.4 1187.0 L463.2 1186.9 L487.9 1186.7 L512.7 1186.6 L537.5 1186.5 L562.3 1186.4 L587.1 1186.3 L611.8 1186.1 L636.6 1186.0 L661.4 1185.9 L686.2 1185.8 L711.0 1185.6 L735.7 1185.5 L760.5 1185.4 L785.3 1185.3 L810.1 1185.1 L834.9 1185.0 L859.6 1184.9 L884.4 1184.8 L909.2 1184.7 L934.0 1184.6 L958.8 1184.5 L983.5 1184.4 L1008.3 1184.3 L1033.1 1184.2 L1057.9 1184.2 L1082.7 1184.1 L1107.4 1184.0 L1132.2 1183.9 L1157.0 1183.8 L1181.8 1183.7 L1206.6 1183.7 L1231.3 1183.6 L1256.1 1183.5 L1280.9 1183.4 L1305.7 1183.3 L1330.5 1183.2 L1355.2 1183.2 L1380.0 1183.1 L1404.8 1183.0 L1429.6 1182.9 L1454.4 1182.8 L1479.1 1182.7 L1503.9 1182.6" fill="none" stroke="#80b7c8" stroke-width="2.6"/><path d="M165.8 1183.2 L190.6 1183.1 L215.4 1183.0 L240.1 1182.9 L264.9 1182.9 L289.7 1182.8 L314.5 1182.7 L339.3 1182.6 L364.0 1182.6 L388.8 1182.5 L413.6 1182.5 L438.4 1182.4 L463.2 1182.4 L487.9 1182.3 L512.7 1182.3 L537.5 1182.3 L562.3 1182.2 L587.1 1182.2 L611.8 1182.2 L636.6 1182.1 L661.4 1182.1 L686.2 1182.1 L711.0 1182.1 L735.7 1182.1 L760.5 1182.0 L785.3 1182.0 L810.1 1182.0 L834.9 1182.0 L859.6 1182.0 L884.4 1182.0 L909.2 1182.0 L934.0 1181.9 L958.8 1181.9 L983.5 1182.0 L1008.3 1182.0 L1033.1 1182.0 L1057.9 1182.0 L1082.7 1182.0 L1107.4 1182.0 L1132.2 1182.0 L1157.0 1182.0 L1181.8 1181.9 L1206.6 1181.9 L1231.3 1181.9 L1256.1 1181.9 L1280.9 1181.8 L1305.7 1181.8 L1330.5 1181.8 L1355.2 1181.7 L1380.0 1181.7 L1404.8 1181.6 L1429.6 1181.5 L1454.4 1181.5 L1479.1 1181.4 L1503.9 1181.3" fill="none" stroke="#b1e3ee" stroke-width="2.6"/><path d="M165.8 1182.8 L190.6 1182.7 L215.4 1182.7 L240.1 1182.6 L264.9 1182.5 L289.7 1182.4 L314.5 1182.3 L339.3 1182.3 L364.0 1182.2 L388.8 1182.2 L413.6 1182.1 L438.4 1182.1 L463.2 1182.1 L487.9 1182.1 L512.7 1182.1 L537.5 1182.1 L562.3 1182.1 L587.1 1182.1 L611.8 1182.1 L636.6 1182.1 L661.4 1182.1 L686.2 1182.1 L711.0 1182.1 L735.7 1182.1 L760.5 1182.1 L785.3 1182.1 L810.1 1182.0 L834.9 1182.0 L859.6 1182.0 L884.4 1182.0 L909.2 1182.0 L934.0 1181.9 L958.8 1181.9 L983.5 1181.9 L1008.3 1181.8 L1033.1 1181.8 L1057.9 1181.8 L1082.7 1181.7 L1107.4 1181.7 L1132.2 1181.7 L1157.0 1181.6 L1181.8 1181.6 L1206.6 1181.5 L1231.3 1181.4 L1256.1 1181.4 L1280.9 1181.3 L1305.7 1181.2 L1330.5 1181.1 L1355.2 1181.1 L1380.0 1181.0 L1404.8 1180.9 L1429.6 1180.9 L1454.4 1180.8 L1479.1 1180.7 L1503.9 1180.7" fill="none" stroke="#484e5a" stroke-width="2.6"/><path d="M165.8 1183.7 L190.6 1183.6 L215.4 1183.5 L240.1 1183.4 L264.9 1183.3 L289.7 1183.2 L314.5 1183.1 L339.3 1183.0 L364.0 1183.0 L388.8 1182.9 L413.6 1182.8 L438.4 1182.7 L463.2 1182.7 L487.9 1182.6 L512.7 1182.6 L537.5 1182.5 L562.3 1182.5 L587.1 1182.4 L611.8 1182.4 L636.6 1182.3 L661.4 1182.3 L686.2 1182.2 L711.0 1182.2 L735.7 1182.1 L760.5 1182.1 L785.3 1182.0 L810.1 1182.0 L834.9 1181.9 L859.6 1181.9 L884.4 1181.8 L909.2 1181.8 L934.0 1181.7 L958.8 1181.7 L983.5 1181.6 L1008.3 1181.6 L1033.1 1181.5 L1057.9 1181.5 L1082.7 1181.4 L1107.4 1181.4 L1132.2 1181.3 L1157.0 1181.3 L1181.8 1181.2 L1206.6 1181.1 L1231.3 1181.1 L1256.1 1181.0 L1280.9 1180.9 L1305.7 1180.8 L1330.5 1180.8 L1355.2 1180.7 L1380.0 1180.6 L1404.8 1180.6 L1429.6 1180.5 L1454.4 1180.5 L1479.1 1180.5 L1503.9 1180.4" fill="none" stroke="#c7b8a6" stroke-width="2.6"/><path d="M165.8 1187.1 L190.6 1186.9 L215.4 1186.7 L240.1 1186.6 L264.9 1186.4 L289.7 1186.2 L314.5 1186.1 L339.3 1185.9 L364.0 1185.7 L388.8 1185.5 L413.6 1185.4 L438.4 1185.2 L463.2 1185.0 L487.9 1184.9 L512.7 1184.7 L537.5 1184.5 L562.3 1184.3 L587.1 1184.2 L611.8 1184.0 L636.6 1183.8 L661.4 1183.7 L686.2 1183.5 L711.0 1183.3 L735.7 1183.1 L760.5 1182.9 L785.3 1182.8 L810.1 1182.6 L834.9 1182.4 L859.6 1182.3 L884.4 1182.1 L909.2 1182.0 L934.0 1181.8 L958.8 1181.7 L983.5 1181.6 L1008.3 1181.5 L1033.1 1181.4 L1057.9 1181.3 L1082.7 1181.2 L1107.4 1181.1 L1132.2 1181.0 L1157.0 1180.9 L1181.8 1180.8 L1206.6 1180.8 L1231.3 1180.7 L1256.1 1180.6 L1280.9 1180.5 L1305.7 1180.5 L1330.5 1180.4 L1355.2 1180.4 L1380.0 1180.3 L1404.8 1180.2 L1429.6 1180.2 L1454.4 1180.2 L1479.1 1180.1 L1503.9 1180.1" fill="none" stroke="#417d81" stroke-width="2.6"/><path d="M165.8 1186.9 L190.6 1186.8 L215.4 1186.7 L240.1 1186.6 L264.9 1186.4 L289.7 1186.3 L314.5 1186.2 L339.3 1186.1 L364.0 1186.0 L388.8 1185.8 L413.6 1185.7 L438.4 1185.6 L463.2 1185.4 L487.9 1185.3 L512.7 1185.1 L537.5 1185.0 L562.3 1184.8 L587.1 1184.7 L611.8 1184.5 L636.6 1184.3 L661.4 1184.2 L686.2 1184.0 L711.0 1183.8 L735.7 1183.7 L760.5 1183.5 L785.3 1183.3 L810.1 1183.2 L834.9 1183.0 L859.6 1182.8 L884.4 1182.6 L909.2 1182.5 L934.0 1182.3 L958.8 1182.1 L983.5 1181.9 L1008.3 1181.8 L1033.1 1181.6 L1057.9 1181.4 L1082.7 1181.3 L1107.4 1181.1 L1132.2 1180.9 L1157.0 1180.8 L1181.8 1180.6 L1206.6 1180.4 L1231.3 1180.3 L1256.1 1180.1 L1280.9 1180.0 L1305.7 1179.8 L1330.5 1179.7 L1355.2 1179.5 L1380.0 1179.4 L1404.8 1179.2 L1429.6 1179.1 L1454.4 1179.0 L1479.1 1178.8 L1503.9 1178.7" fill="none" stroke="#5cc6e0" stroke-width="2.6"/><path d="M165.8 1187.9 L190.6 1187.8 L215.4 1187.7 L240.1 1187.6 L264.9 1187.5 L289.7 1187.4 L314.5 1187.3 L339.3 1187.1 L364.0 1187.0 L388.8 1186.9 L413.6 1186.7 L438.4 1186.6 L463.2 1186.5 L487.9 1186.3 L512.7 1186.2 L537.5 1186.0 L562.3 1185.8 L587.1 1185.6 L611.8 1185.5 L636.6 1185.3 L661.4 1185.0 L686.2 1184.8 L711.0 1184.5 L735.7 1184.2 L760.5 1183.9 L785.3 1183.6 L810.1 1183.3 L834.9 1182.9 L859.6 1182.6 L884.4 1182.4 L909.2 1182.1 L934.0 1181.9 L958.8 1181.7 L983.5 1181.5 L1008.3 1181.3 L1033.1 1181.2 L1057.9 1181.0 L1082.7 1180.9 L1107.4 1180.7 L1132.2 1180.6 L1157.0 1180.4 L1181.8 1180.3 L1206.6 1180.1 L1231.3 1179.9 L1256.1 1179.8 L1280.9 1179.6 L1305.7 1179.5 L1330.5 1179.3 L1355.2 1179.2 L1380.0 1179.0 L1404.8 1178.9 L1429.6 1178.7 L1454.4 1178.6 L1479.1 1178.5 L1503.9 1178.4" fill="none" stroke="#9ebfbf" stroke-width="2.6"/><path d="M165.8 1179.2 L190.6 1179.1 L215.4 1179.0 L240.1 1178.9 L264.9 1178.8 L289.7 1178.7 L314.5 1178.6 L339.3 1178.6 L364.0 1178.5 L388.8 1178.4 L413.6 1178.4 L438.4 1178.3 L463.2 1178.3 L487.9 1178.3 L512.7 1178.3 L537.5 1178.3 L562.3 1178.3 L587.1 1178.3 L611.8 1178.4 L636.6 1178.4 L661.4 1178.4 L686.2 1178.4 L711.0 1178.3 L735.7 1178.3 L760.5 1178.3 L785.3 1178.3 L810.1 1178.3 L834.9 1178.3 L859.6 1178.2 L884.4 1178.2 L909.2 1178.2 L934.0 1178.2 L958.8 1178.1 L983.5 1178.0 L1008.3 1178.0 L1033.1 1177.9 L1057.9 1177.9 L1082.7 1177.8 L1107.4 1177.7 L1132.2 1177.7 L1157.0 1177.7 L1181.8 1177.7 L1206.6 1177.7 L1231.3 1177.7 L1256.1 1177.7 L1280.9 1177.7 L1305.7 1177.8 L1330.5 1177.8 L1355.2 1177.8 L1380.0 1177.8 L1404.8 1177.8 L1429.6 1177.9 L1454.4 1177.9 L1479.1 1177.9 L1503.9 1177.8" fill="none" stroke="#a875a9" stroke-width="2.6"/><path d="M165.8 1187.1 L190.6 1186.9 L215.4 1186.8 L240.1 1186.7 L264.9 1186.5 L289.7 1186.4 L314.5 1186.3 L339.3 1186.1 L364.0 1186.0 L388.8 1185.9 L413.6 1185.7 L438.4 1185.6 L463.2 1185.4 L487.9 1185.3 L512.7 1185.1 L537.5 1185.0 L562.3 1184.8 L587.1 1184.7 L611.8 1184.5 L636.6 1184.4 L661.4 1184.2 L686.2 1184.0 L711.0 1183.8 L735.7 1183.5 L760.5 1183.3 L785.3 1183.1 L810.1 1182.9 L834.9 1182.6 L859.6 1182.4 L884.4 1182.2 L909.2 1182.0 L934.0 1181.8 L958.8 1181.6 L983.5 1181.4 L1008.3 1181.2 L1033.1 1181.0 L1057.9 1180.9 L1082.7 1180.7 L1107.4 1180.5 L1132.2 1180.3 L1157.0 1180.1 L1181.8 1179.8 L1206.6 1179.6 L1231.3 1179.4 L1256.1 1179.1 L1280.9 1178.9 L1305.7 1178.6 L1330.5 1178.3 L1355.2 1178.1 L1380.0 1177.8 L1404.8 1177.5 L1429.6 1177.2 L1454.4 1176.9 L1479.1 1176.6 L1503.9 1176.3" fill="none" stroke="#ff874f" stroke-width="2.6"/><path d="M165.8 1186.2 L190.6 1186.0 L215.4 1185.9 L240.1 1185.7 L264.9 1185.5 L289.7 1185.3 L314.5 1185.1 L339.3 1184.9 L364.0 1184.7 L388.8 1184.5 L413.6 1184.3 L438.4 1184.2 L463.2 1184.0 L487.9 1183.8 L512.7 1183.6 L537.5 1183.4 L562.3 1183.3 L587.1 1183.1 L611.8 1182.9 L636.6 1182.7 L661.4 1182.5 L686.2 1182.2 L711.0 1182.0 L735.7 1181.8 L760.5 1181.5 L785.3 1181.3 L810.1 1181.0 L834.9 1180.8 L859.6 1180.5 L884.4 1180.3 L909.2 1180.1 L934.0 1179.8 L958.8 1179.6 L983.5 1179.4 L1008.3 1179.2 L1033.1 1179.0 L1057.9 1178.8 L1082.7 1178.6 L1107.4 1178.4 L1132.2 1178.2 L1157.0 1178.0 L1181.8 1177.9 L1206.6 1177.7 L1231.3 1177.6 L1256.1 1177.4 L1280.9 1177.3 L1305.7 1177.2 L1330.5 1177.0 L1355.2 1176.9 L1380.0 1176.8 L1404.8 1176.7 L1429.6 1176.5 L1454.4 1176.4 L1479.1 1176.3 L1503.9 1176.1" fill="none" stroke="#0b6f8c" stroke-width="2.6"/><path d="M165.8 1187.9 L190.6 1187.8 L215.4 1187.7 L240.1 1187.6 L264.9 1187.5 L289.7 1187.3 L314.5 1187.2 L339.3 1187.1 L364.0 1187.0 L388.8 1186.9 L413.6 1186.7 L438.4 1186.6 L463.2 1186.5 L487.9 1186.5 L512.7 1186.4 L537.5 1186.3 L562.3 1186.2 L587.1 1186.1 L611.8 1186.0 L636.6 1185.9 L661.4 1185.7 L686.2 1185.5 L711.0 1185.4 L735.7 1185.2 L760.5 1185.0 L785.3 1184.7 L810.1 1184.5 L834.9 1184.3 L859.6 1184.0 L884.4 1183.8 L909.2 1183.5 L934.0 1183.2 L958.8 1182.9 L983.5 1182.6 L1008.3 1182.3 L1033.1 1182.0 L1057.9 1181.7 L1082.7 1181.4 L1107.4 1181.1 L1132.2 1180.7 L1157.0 1180.4 L1181.8 1180.1 L1206.6 1179.7 L1231.3 1179.4 L1256.1 1179.0 L1280.9 1178.7 L1305.7 1178.3 L1330.5 1178.0 L1355.2 1177.6 L1380.0 1177.2 L1404.8 1176.8 L1429.6 1176.4 L1454.4 1176.0 L1479.1 1175.5 L1503.9 1175.1" fill="none" stroke="#0b6f8c" stroke-width="2.6"/><path d="M165.8 1187.3 L190.6 1187.1 L215.4 1186.9 L240.1 1186.7 L264.9 1186.6 L289.7 1186.4 L314.5 1186.2 L339.3 1186.1 L364.0 1185.9 L388.8 1185.7 L413.6 1185.5 L438.4 1185.4 L463.2 1185.2 L487.9 1185.0 L512.7 1184.8 L537.5 1184.7 L562.3 1184.5 L587.1 1184.3 L611.8 1184.1 L636.6 1183.9 L661.4 1183.7 L686.2 1183.4 L711.0 1183.2 L735.7 1182.9 L760.5 1182.7 L785.3 1182.4 L810.1 1182.2 L834.9 1181.9 L859.6 1181.6 L884.4 1181.4 L909.2 1181.1 L934.0 1180.8 L958.8 1180.6 L983.5 1180.3 L1008.3 1180.0 L1033.1 1179.7 L1057.9 1179.5 L1082.7 1179.2 L1107.4 1178.9 L1132.2 1178.6 L1157.0 1178.4 L1181.8 1178.1 L1206.6 1177.8 L1231.3 1177.6 L1256.1 1177.3 L1280.9 1177.1 L1305.7 1176.8 L1330.5 1176.6 L1355.2 1176.3 L1380.0 1176.1 L1404.8 1175.8 L1429.6 1175.5 L1454.4 1175.3 L1479.1 1175.0 L1503.9 1174.8" fill="none" stroke="#6bcfa8" stroke-width="2.6"/><path d="M165.8 1185.2 L190.6 1185.0 L215.4 1184.8 L240.1 1184.6 L264.9 1184.3 L289.7 1184.1 L314.5 1183.9 L339.3 1183.7 L364.0 1183.5 L388.8 1183.2 L413.6 1183.0 L438.4 1182.7 L463.2 1182.4 L487.9 1182.2 L512.7 1181.9 L537.5 1181.6 L562.3 1181.3 L587.1 1181.0 L611.8 1180.7 L636.6 1180.4 L661.4 1180.1 L686.2 1179.8 L711.0 1179.5 L735.7 1179.2 L760.5 1179.0 L785.3 1178.7 L810.1 1178.4 L834.9 1178.2 L859.6 1177.9 L884.4 1177.6 L909.2 1177.3 L934.0 1177.1 L958.8 1176.8 L983.5 1176.5 L1008.3 1176.2 L1033.1 1175.9 L1057.9 1175.6 L1082.7 1175.3 L1107.4 1175.0 L1132.2 1174.7 L1157.0 1174.4 L1181.8 1174.1 L1206.6 1173.8 L1231.3 1173.6 L1256.1 1173.3 L1280.9 1173.0 L1305.7 1172.7 L1330.5 1172.4 L1355.2 1172.1 L1380.0 1171.8 L1404.8 1171.5 L1429.6 1171.2 L1454.4 1170.9 L1479.1 1170.6 L1503.9 1170.3" fill="none" stroke="#ffc3a7" stroke-width="2.6"/><path d="M165.8 1176.0 L190.6 1175.8 L215.4 1175.6 L240.1 1175.4 L264.9 1175.2 L289.7 1175.0 L314.5 1174.7 L339.3 1174.5 L364.0 1174.3 L388.8 1174.1 L413.6 1173.9 L438.4 1173.7 L463.2 1173.5 L487.9 1173.2 L512.7 1173.0 L537.5 1172.8 L562.3 1172.5 L587.1 1172.3 L611.8 1172.1 L636.6 1171.9 L661.4 1171.7 L686.2 1171.5 L711.0 1171.4 L735.7 1171.2 L760.5 1171.1 L785.3 1171.0 L810.1 1170.9 L834.9 1170.8 L859.6 1170.7 L884.4 1170.6 L909.2 1170.5 L934.0 1170.4 L958.8 1170.3 L983.5 1170.3 L1008.3 1170.2 L1033.1 1170.2 L1057.9 1170.1 L1082.7 1170.1 L1107.4 1170.1 L1132.2 1170.0 L1157.0 1170.0 L1181.8 1169.9 L1206.6 1169.9 L1231.3 1169.9 L1256.1 1169.9 L1280.9 1169.8 L1305.7 1169.8 L1330.5 1169.8 L1355.2 1169.8 L1380.0 1169.8 L1404.8 1169.8 L1429.6 1169.8 L1454.4 1169.9 L1479.1 1169.9 L1503.9 1170.0" fill="none" stroke="#f0a8ad" stroke-width="2.6"/><path d="M165.8 1171.2 L190.6 1171.0 L215.4 1170.8 L240.1 1170.7 L264.9 1170.5 L289.7 1170.3 L314.5 1170.1 L339.3 1170.0 L364.0 1169.8 L388.8 1169.6 L413.6 1169.5 L438.4 1169.3 L463.2 1169.2 L487.9 1169.0 L512.7 1168.8 L537.5 1168.7 L562.3 1168.5 L587.1 1168.4 L611.8 1168.2 L636.6 1168.1 L661.4 1167.9 L686.2 1167.8 L711.0 1167.6 L735.7 1167.4 L760.5 1167.2 L785.3 1167.1 L810.1 1166.9 L834.9 1166.7 L859.6 1166.6 L884.4 1166.5 L909.2 1166.4 L934.0 1166.3 L958.8 1166.3 L983.5 1166.3 L1008.3 1166.3 L1033.1 1166.3 L1057.9 1166.4 L1082.7 1166.4 L1107.4 1166.5 L1132.2 1166.5 L1157.0 1166.6 L1181.8 1166.6 L1206.6 1166.7 L1231.3 1166.8 L1256.1 1166.9 L1280.9 1166.9 L1305.7 1167.0 L1330.5 1167.1 L1355.2 1167.2 L1380.0 1167.2 L1404.8 1167.2 L1429.6 1167.2 L1454.4 1167.2 L1479.1 1167.1 L1503.9 1167.1" fill="none" stroke="#fcc54b" stroke-width="2.6"/><path d="M165.8 1183.5 L190.6 1183.2 L215.4 1182.9 L240.1 1182.6 L264.9 1182.3 L289.7 1182.0 L314.5 1181.7 L339.3 1181.4 L364.0 1181.1 L388.8 1180.9 L413.6 1180.6 L438.4 1180.3 L463.2 1180.1 L487.9 1179.8 L512.7 1179.6 L537.5 1179.4 L562.3 1179.2 L587.1 1178.9 L611.8 1178.6 L636.6 1178.4 L661.4 1178.0 L686.2 1177.7 L711.0 1177.2 L735.7 1176.8 L760.5 1176.4 L785.3 1175.9 L810.1 1175.4 L834.9 1175.0 L859.6 1174.5 L884.4 1174.0 L909.2 1173.6 L934.0 1173.1 L958.8 1172.7 L983.5 1172.3 L1008.3 1171.8 L1033.1 1171.4 L1057.9 1171.0 L1082.7 1170.5 L1107.4 1170.1 L1132.2 1169.7 L1157.0 1169.3 L1181.8 1168.9 L1206.6 1168.5 L1231.3 1168.2 L1256.1 1167.8 L1280.9 1167.4 L1305.7 1167.1 L1330.5 1166.7 L1355.2 1166.4 L1380.0 1166.0 L1404.8 1165.7 L1429.6 1165.4 L1454.4 1165.1 L1479.1 1164.8 L1503.9 1164.5" fill="none" stroke="#5cc6e0" stroke-width="2.6"/><path d="M165.8 1184.0 L190.6 1183.8 L215.4 1183.6 L240.1 1183.5 L264.9 1183.3 L289.7 1183.1 L314.5 1183.0 L339.3 1182.8 L364.0 1182.6 L388.8 1182.4 L413.6 1182.1 L438.4 1181.9 L463.2 1181.6 L487.9 1181.4 L512.7 1181.1 L537.5 1180.8 L562.3 1180.5 L587.1 1180.2 L611.8 1179.9 L636.6 1179.5 L661.4 1179.2 L686.2 1178.9 L711.0 1178.5 L735.7 1178.2 L760.5 1177.8 L785.3 1177.5 L810.1 1177.1 L834.9 1176.7 L859.6 1176.3 L884.4 1175.9 L909.2 1175.5 L934.0 1175.0 L958.8 1174.6 L983.5 1174.1 L1008.3 1173.7 L1033.1 1173.2 L1057.9 1172.7 L1082.7 1172.2 L1107.4 1171.7 L1132.2 1171.2 L1157.0 1170.7 L1181.8 1170.1 L1206.6 1169.5 L1231.3 1169.0 L1256.1 1168.4 L1280.9 1167.8 L1305.7 1167.1 L1330.5 1166.5 L1355.2 1165.9 L1380.0 1165.2 L1404.8 1164.5 L1429.6 1163.8 L1454.4 1163.0 L1479.1 1162.2 L1503.9 1161.4" fill="none" stroke="#e1dbd5" stroke-width="2.6"/><path d="M165.8 1184.0 L190.6 1183.8 L215.4 1183.6 L240.1 1183.4 L264.9 1183.2 L289.7 1183.0 L314.5 1182.8 L339.3 1182.5 L364.0 1182.3 L388.8 1182.1 L413.6 1181.8 L438.4 1181.5 L463.2 1181.2 L487.9 1180.9 L512.7 1180.6 L537.5 1180.2 L562.3 1179.9 L587.1 1179.5 L611.8 1179.2 L636.6 1178.8 L661.4 1178.4 L686.2 1177.9 L711.0 1177.5 L735.7 1177.0 L760.5 1176.5 L785.3 1176.0 L810.1 1175.5 L834.9 1175.0 L859.6 1174.4 L884.4 1173.9 L909.2 1173.4 L934.0 1172.9 L958.8 1172.4 L983.5 1171.8 L1008.3 1171.3 L1033.1 1170.8 L1057.9 1170.3 L1082.7 1169.7 L1107.4 1169.2 L1132.2 1168.6 L1157.0 1168.1 L1181.8 1167.6 L1206.6 1167.0 L1231.3 1166.5 L1256.1 1166.0 L1280.9 1165.4 L1305.7 1164.9 L1330.5 1164.3 L1355.2 1163.8 L1380.0 1163.2 L1404.8 1162.6 L1429.6 1162.0 L1454.4 1161.4 L1479.1 1160.7 L1503.9 1160.1" fill="none" stroke="#d7bbd9" stroke-width="2.6"/><path d="M165.8 1179.4 L190.6 1179.0 L215.4 1178.6 L240.1 1178.2 L264.9 1177.8 L289.7 1177.5 L314.5 1177.1 L339.3 1176.7 L364.0 1176.3 L388.8 1175.9 L413.6 1175.5 L438.4 1175.0 L463.2 1174.6 L487.9 1174.2 L512.7 1173.7 L537.5 1173.3 L562.3 1172.8 L587.1 1172.4 L611.8 1171.9 L636.6 1171.5 L661.4 1171.0 L686.2 1170.5 L711.0 1170.0 L735.7 1169.5 L760.5 1169.0 L785.3 1168.5 L810.1 1168.0 L834.9 1167.5 L859.6 1167.0 L884.4 1166.5 L909.2 1166.0 L934.0 1165.6 L958.8 1165.1 L983.5 1164.7 L1008.3 1164.2 L1033.1 1163.8 L1057.9 1163.4 L1082.7 1163.0 L1107.4 1162.6 L1132.2 1162.2 L1157.0 1161.8 L1181.8 1161.4 L1206.6 1161.1 L1231.3 1160.7 L1256.1 1160.4 L1280.9 1160.1 L1305.7 1159.8 L1330.5 1159.4 L1355.2 1159.1 L1380.0 1158.7 L1404.8 1158.4 L1429.6 1157.9 L1454.4 1157.4 L1479.1 1157.0 L1503.9 1156.5" fill="none" stroke="#e9555f" stroke-width="2.6"/><path d="M165.8 1176.7 L190.6 1176.2 L215.4 1175.7 L240.1 1175.3 L264.9 1174.8 L289.7 1174.4 L314.5 1173.9 L339.3 1173.5 L364.0 1173.0 L388.8 1172.5 L413.6 1172.0 L438.4 1171.5 L463.2 1171.0 L487.9 1170.5 L512.7 1169.9 L537.5 1169.4 L562.3 1168.8 L587.1 1168.3 L611.8 1167.7 L636.6 1167.1 L661.4 1166.6 L686.2 1166.0 L711.0 1165.4 L735.7 1164.8 L760.5 1164.2 L785.3 1163.6 L810.1 1163.1 L834.9 1162.5 L859.6 1161.9 L884.4 1161.3 L909.2 1160.7 L934.0 1160.2 L958.8 1159.7 L983.5 1159.1 L1008.3 1158.6 L1033.1 1158.1 L1057.9 1157.5 L1082.7 1157.0 L1107.4 1156.5 L1132.2 1156.0 L1157.0 1155.4 L1181.8 1154.9 L1206.6 1154.4 L1231.3 1153.9 L1256.1 1153.4 L1280.9 1152.9 L1305.7 1152.4 L1330.5 1151.9 L1355.2 1151.3 L1380.0 1150.8 L1404.8 1150.3 L1429.6 1149.8 L1454.4 1149.3 L1479.1 1148.8 L1503.9 1148.3" fill="none" stroke="#fde39f" stroke-width="2.6"/><path d="M165.8 1160.7 L190.6 1160.3 L215.4 1159.9 L240.1 1159.5 L264.9 1159.1 L289.7 1158.7 L314.5 1158.3 L339.3 1157.9 L364.0 1157.4 L388.8 1157.0 L413.6 1156.6 L438.4 1156.3 L463.2 1155.9 L487.9 1155.5 L512.7 1155.1 L537.5 1154.8 L562.3 1154.4 L587.1 1154.0 L611.8 1153.6 L636.6 1153.3 L661.4 1152.9 L686.2 1152.5 L711.0 1152.1 L735.7 1151.8 L760.5 1151.4 L785.3 1151.0 L810.1 1150.6 L834.9 1150.2 L859.6 1149.8 L884.4 1149.4 L909.2 1149.0 L934.0 1148.5 L958.8 1147.9 L983.5 1147.4 L1008.3 1146.8 L1033.1 1146.3 L1057.9 1145.7 L1082.7 1145.1 L1107.4 1144.5 L1132.2 1144.0 L1157.0 1143.5 L1181.8 1143.0 L1206.6 1142.5 L1231.3 1142.0 L1256.1 1141.6 L1280.9 1141.1 L1305.7 1140.6 L1330.5 1140.2 L1355.2 1139.7 L1380.0 1139.3 L1404.8 1138.9 L1429.6 1138.4 L1454.4 1138.0 L1479.1 1137.6 L1503.9 1137.2" fill="none" stroke="#ff874f" stroke-width="2.6"/><path d="M165.8 1114.8 L190.6 1113.0 L215.4 1111.3 L240.1 1109.6 L264.9 1107.9 L289.7 1106.2 L314.5 1104.5 L339.3 1102.7 L364.0 1100.8 L388.8 1098.9 L413.6 1096.8 L438.4 1094.6 L463.2 1092.4 L487.9 1090.0 L512.7 1087.7 L537.5 1085.2 L562.3 1082.7 L587.1 1080.1 L611.8 1077.5 L636.6 1074.9 L661.4 1072.2 L686.2 1069.4 L711.0 1066.6 L735.7 1063.8 L760.5 1060.8 L785.3 1057.9 L810.1 1054.9 L834.9 1051.9 L859.6 1048.8 L884.4 1045.8 L909.2 1042.8 L934.0 1039.7 L958.8 1036.6 L983.5 1033.5 L1008.3 1030.4 L1033.1 1027.3 L1057.9 1024.1 L1082.7 1021.0 L1107.4 1017.8 L1132.2 1014.7 L1157.0 1011.6 L1181.8 1008.6 L1206.6 1005.5 L1231.3 1002.4 L1256.1 999.3 L1280.9 996.2 L1305.7 993.1 L1330.5 990.1 L1355.2 987.1 L1380.0 984.1 L1404.8 981.2 L1429.6 978.4 L1454.4 975.7 L1479.1 973.0 L1503.9 970.3" fill="none" stroke="#b0e9d6" stroke-width="2.6"/><path d="M165.8 1077.6 L190.6 1078.8 L215.4 1077.8 L240.1 1075.5 L264.9 1072.6 L289.7 1069.4 L314.5 1066.1 L339.3 1062.6 L364.0 1059.0 L388.8 1055.3 L413.6 1051.8 L438.4 1048.3 L463.2 1044.8 L487.9 1041.3 L512.7 1038.0 L537.5 1035.1 L562.3 1032.5 L587.1 1030.3 L611.8 1028.2 L636.6 1026.1 L661.4 1023.9 L686.2 1021.6 L711.0 1019.3 L735.7 1017.0 L760.5 1014.5 L785.3 1012.0 L810.1 1009.2 L834.9 1006.3 L859.6 1003.3 L884.4 1000.4 L909.2 997.6 L934.0 995.0 L958.8 992.6 L983.5 990.2 L1008.3 987.9 L1033.1 985.6 L1057.9 983.5 L1082.7 981.4 L1107.4 979.4 L1132.2 977.5 L1157.0 975.7 L1181.8 974.1 L1206.6 972.7 L1231.3 971.3 L1256.1 970.0 L1280.9 968.7 L1305.7 967.5 L1330.5 966.3 L1355.2 965.2 L1380.0 964.0 L1404.8 962.9 L1429.6 961.8 L1454.4 960.7 L1479.1 959.6 L1503.9 958.5" fill="none" stroke="#484e5a" stroke-width="2.6"/><line x1="165.8" y1="959" x2="165.8" y2="1188" stroke="#222" stroke-width="2.2"/></svg>
<div class="grip" style="left:1528px;top:852px;height:30px"></div>
<div class="grip" style="left:1528px;top:888px;height:30px"></div>
<div class="panel" style="left:1552px;top:792px;width:726px;height:455px"></div>
<div class="ttl" style="left:1576px;top:820.7px;font-size:24px">Rural Breakdown</div>
<div class="keb" style="left:2248.0px;top:818.0px"><i></i><i></i><i></i></div>
<svg class="abs" style="left:1552px;top:792px" width="726" height="455" viewBox="1552 792 726 455"><path d="M1915.20 930.00 A127.50 127.50 0 0 1 2031.86 1108.95 L1998.00 1094.02 A90.50 90.50 0 0 0 1915.20 967.00 Z" fill="#fffaf0" stroke="#e4e4e4" stroke-width="1.3"/><path d="M2031.86 1108.95 A127.50 127.50 0 0 1 1874.32 1178.27 L1886.18 1143.22 A90.50 90.50 0 0 0 1998.00 1094.02 Z" fill="#fbd67c" stroke="#e4e4e4" stroke-width="1.3"/><path d="M1874.32 1178.27 A127.50 127.50 0 0 1 1800.31 1112.79 L1833.65 1096.75 A90.50 90.50 0 0 0 1886.18 1143.22 Z" fill="#fcde90" stroke="#e4e4e4" stroke-width="1.3"/><path d="M1800.31 1112.79 A127.50 127.50 0 0 1 1796.25 1011.60 L1830.77 1024.92 A90.50 90.50 0 0 0 1833.65 1096.75 Z" fill="#adf0ea" stroke="#e4e4e4" stroke-width="1.3"/><path d="M1796.25 1011.60 A127.50 127.50 0 0 1 1835.66 957.86 L1858.74 986.77 A90.50 90.50 0 0 0 1830.77 1024.92 Z" fill="#7ae6de" stroke="#e4e4e4" stroke-width="1.3"/><path d="M1835.66 957.86 A127.50 127.50 0 0 1 1875.17 936.45 L1886.78 971.58 A90.50 90.50 0 0 0 1858.74 986.77 Z" fill="#d6f6f5" stroke="#e4e4e4" stroke-width="1.3"/><path d="M1875.17 936.45 A127.50 127.50 0 0 1 1915.20 930.00 L1915.20 967.00 A90.50 90.50 0 0 0 1886.78 971.58 Z" fill="#70e3dc" stroke="#e4e4e4" stroke-width="1.3"/><path d="M1915.20 900.50 A157.00 157.00 0 0 1 2062.06 1002.00 L2034.47 1012.43 A127.50 127.50 0 0 0 1915.20 930.00 Z" fill="#fef6e4" stroke="#e4e4e4" stroke-width="1.3"/><path d="M2062.06 1002.00 A157.00 157.00 0 0 1 2070.82 1036.74 L2041.58 1040.64 A127.50 127.50 0 0 0 2034.47 1012.43 Z" fill="#fef6e4" stroke="#e4e4e4" stroke-width="1.3"/><path d="M2070.82 1036.74 A157.00 157.00 0 0 1 2072.15 1053.39 L2042.66 1054.16 A127.50 127.50 0 0 0 2041.58 1040.64 Z" fill="#2fd6cb" stroke="#e4e4e4" stroke-width="1.3"/><path d="M2072.15 1053.39 A157.00 157.00 0 0 1 2071.92 1066.81 L2042.48 1065.06 A127.50 127.50 0 0 0 2042.66 1054.16 Z" fill="#fdeac0" stroke="#e4e4e4" stroke-width="1.3"/><path d="M2071.92 1066.81 A157.00 157.00 0 0 1 2071.13 1075.82 L2041.83 1072.38 A127.50 127.50 0 0 0 2042.48 1065.06 Z" fill="#fcd77a" stroke="#e4e4e4" stroke-width="1.3"/><path d="M2071.13 1075.82 A157.00 157.00 0 0 1 2070.09 1083.14 L2040.99 1078.32 A127.50 127.50 0 0 0 2041.83 1072.38 Z" fill="#fde9c0" stroke="#e4e4e4" stroke-width="1.3"/><path d="M2070.09 1083.14 A157.00 157.00 0 0 1 2068.77 1090.14 L2039.91 1084.01 A127.50 127.50 0 0 0 2040.99 1078.32 Z" fill="#fcd77a" stroke="#e4e4e4" stroke-width="1.3"/><path d="M2068.77 1090.14 A157.00 157.00 0 0 1 2067.40 1096.01 L2038.80 1088.78 A127.50 127.50 0 0 0 2039.91 1084.01 Z" fill="#5edfd5" stroke="#e4e4e4" stroke-width="1.3"/><path d="M2059.50 1119.35 A157.00 157.00 0 0 1 1921.23 1214.38 L1920.09 1184.91 A127.50 127.50 0 0 0 2032.39 1107.73 Z" fill="#fbd67c" stroke="#e4e4e4" stroke-width="1.3"/><path d="M1921.23 1214.38 A157.00 157.00 0 0 1 1898.52 1213.61 L1901.65 1184.28 A127.50 127.50 0 0 0 1920.09 1184.91 Z" fill="#fcdd92" stroke="#e4e4e4" stroke-width="1.3"/><path d="M1898.52 1213.61 A157.00 157.00 0 0 1 1877.22 1209.84 L1884.35 1181.21 A127.50 127.50 0 0 0 1901.65 1184.28 Z" fill="#fbd67c" stroke="#e4e4e4" stroke-width="1.3"/><path d="M1877.22 1209.84 A157.00 157.00 0 0 1 1873.77 1208.94 L1881.56 1180.48 A127.50 127.50 0 0 0 1884.35 1181.21 Z" fill="#f9c440" stroke="#e4e4e4" stroke-width="1.3"/><path d="M1873.77 1208.94 A157.00 157.00 0 0 1 1870.35 1207.96 L1878.77 1179.69 A127.50 127.50 0 0 0 1881.56 1180.48 Z" fill="#fcd77a" stroke="#e4e4e4" stroke-width="1.3"/><path d="M1870.35 1207.96 A157.00 157.00 0 0 1 1866.68 1206.82 L1875.80 1178.76 A127.50 127.50 0 0 0 1878.77 1179.69 Z" fill="#f9c440" stroke="#e4e4e4" stroke-width="1.3"/><path d="M1866.68 1206.82 A157.00 157.00 0 0 1 1845.64 1198.25 L1858.71 1171.80 A127.50 127.50 0 0 0 1875.80 1178.76 Z" fill="#fdebbf" stroke="#e4e4e4" stroke-width="1.3"/><path d="M1845.64 1198.25 A157.00 157.00 0 0 1 1834.10 1191.93 L1849.34 1166.67 A127.50 127.50 0 0 0 1858.71 1171.80 Z" fill="#fcc12f" stroke="#e4e4e4" stroke-width="1.3"/><path d="M1834.10 1191.93 A157.00 157.00 0 0 1 1824.70 1185.79 L1841.70 1161.69 A127.50 127.50 0 0 0 1849.34 1166.67 Z" fill="#fde6b0" stroke="#e4e4e4" stroke-width="1.3"/><path d="M1824.70 1185.79 A157.00 157.00 0 0 1 1818.97 1181.55 L1837.05 1158.24 A127.50 127.50 0 0 0 1841.70 1161.69 Z" fill="#d7f5f5" stroke="#e4e4e4" stroke-width="1.3"/><path d="M1818.97 1181.55 A157.00 157.00 0 0 1 1814.28 1177.77 L1833.24 1155.17 A127.50 127.50 0 0 0 1837.05 1158.24 Z" fill="#fcd060" stroke="#e4e4e4" stroke-width="1.3"/><path d="M1814.28 1177.77 A157.00 157.00 0 0 1 1810.15 1174.17 L1829.89 1152.25 A127.50 127.50 0 0 0 1833.24 1155.17 Z" fill="#fde3a0" stroke="#e4e4e4" stroke-width="1.3"/><path d="M1810.15 1174.17 A157.00 157.00 0 0 1 1806.14 1170.44 L1826.63 1149.22 A127.50 127.50 0 0 0 1829.89 1152.25 Z" fill="#f9c440" stroke="#e4e4e4" stroke-width="1.3"/><path d="M1806.14 1170.44 A157.00 157.00 0 0 1 1802.45 1166.76 L1823.64 1146.23 A127.50 127.50 0 0 0 1826.63 1149.22 Z" fill="#fcd77a" stroke="#e4e4e4" stroke-width="1.3"/><path d="M1772.91 1123.85 A157.00 157.00 0 0 1 1765.47 1104.71 L1793.60 1095.84 A127.50 127.50 0 0 0 1799.65 1111.38 Z" fill="#9deee7" stroke="#e4e4e4" stroke-width="1.3"/><path d="M1765.47 1104.71 A157.00 157.00 0 0 1 1761.19 1087.99 L1790.13 1082.26 A127.50 127.50 0 0 0 1793.60 1095.84 Z" fill="#a6ede6" stroke="#e4e4e4" stroke-width="1.3"/><path d="M1761.19 1087.99 A157.00 157.00 0 0 1 1759.15 1074.73 L1788.47 1071.49 A127.50 127.50 0 0 0 1790.13 1082.26 Z" fill="#93e9e2" stroke="#e4e4e4" stroke-width="1.3"/><path d="M1759.15 1074.73 A157.00 157.00 0 0 1 1758.55 1067.91 L1787.98 1065.95 A127.50 127.50 0 0 0 1788.47 1071.49 Z" fill="#6ee2d9" stroke="#e4e4e4" stroke-width="1.3"/><path d="M1758.55 1067.91 A157.00 157.00 0 0 1 1758.21 1059.14 L1787.71 1058.84 A127.50 127.50 0 0 0 1787.98 1065.95 Z" fill="#aef0eb" stroke="#e4e4e4" stroke-width="1.3"/><path d="M1758.21 1059.14 A157.00 157.00 0 0 1 1758.25 1053.39 L1787.74 1054.16 A127.50 127.50 0 0 0 1787.71 1058.84 Z" fill="#7ee5dd" stroke="#e4e4e4" stroke-width="1.3"/><path d="M1758.25 1053.39 A157.00 157.00 0 0 1 1758.56 1046.82 L1788.00 1048.83 A127.50 127.50 0 0 0 1787.74 1054.16 Z" fill="#b0efea" stroke="#e4e4e4" stroke-width="1.3"/><path d="M1769.63 998.69 A157.00 157.00 0 0 1 1780.20 977.34 L1805.57 992.41 A127.50 127.50 0 0 0 1796.98 1009.74 Z" fill="#5adfd5" stroke="#e4e4e4" stroke-width="1.3"/><path d="M1780.20 977.34 A157.00 157.00 0 0 1 1791.65 960.63 L1814.87 978.83 A127.50 127.50 0 0 0 1805.57 992.41 Z" fill="#7ce5dd" stroke="#e4e4e4" stroke-width="1.3"/><path d="M1819.19 933.28 A157.00 157.00 0 0 1 1828.32 926.73 L1844.64 951.30 A127.50 127.50 0 0 0 1837.23 956.62 Z" fill="#fde6b5" stroke="#e4e4e4" stroke-width="1.3"/><path d="M1828.32 926.73 A157.00 157.00 0 0 1 1845.64 916.75 L1858.71 943.20 A127.50 127.50 0 0 0 1844.64 951.30 Z" fill="#a8ede6" stroke="#e4e4e4" stroke-width="1.3"/><path d="M1867.21 908.02 A157.00 157.00 0 0 1 1909.99 900.59 L1910.97 930.07 A127.50 127.50 0 0 0 1876.22 936.10 Z" fill="#70e3dc" stroke="#e4e4e4" stroke-width="1.3"/><path d="M1909.99 900.59 A157.00 157.00 0 0 1 1915.20 900.50 L1915.20 930.00 A127.50 127.50 0 0 0 1910.97 930.07 Z" fill="#5fdfd5" stroke="#e4e4e4" stroke-width="1.3"/><path d="M1802.45 1166.76 A157.00 157.00 0 0 1 1800.85 1165.07 L1822.33 1144.86 A127.50 127.50 0 0 0 1823.64 1146.23 Z" fill="#fcd060" stroke="#e8e8e8" stroke-width="0.8"/><path d="M1800.85 1165.07 A157.00 157.00 0 0 1 1799.26 1163.37 L1821.05 1143.47 A127.50 127.50 0 0 0 1822.33 1144.86 Z" fill="#fdf1d6" stroke="#e8e8e8" stroke-width="0.8"/><path d="M1799.26 1163.37 A157.00 157.00 0 0 1 1797.70 1161.63 L1819.78 1142.07 A127.50 127.50 0 0 0 1821.05 1143.47 Z" fill="#f7d790" stroke="#e8e8e8" stroke-width="0.8"/><path d="M1797.70 1161.63 A157.00 157.00 0 0 1 1796.17 1159.88 L1818.54 1140.64 A127.50 127.50 0 0 0 1819.78 1142.07 Z" fill="#fbe7bd" stroke="#e8e8e8" stroke-width="0.8"/><path d="M1796.17 1159.88 A157.00 157.00 0 0 1 1794.67 1158.10 L1817.32 1139.20 A127.50 127.50 0 0 0 1818.54 1140.64 Z" fill="#f5d48a" stroke="#e8e8e8" stroke-width="0.8"/><path d="M1794.67 1158.10 A157.00 157.00 0 0 1 1793.19 1156.30 L1816.11 1137.74 A127.50 127.50 0 0 0 1817.32 1139.20 Z" fill="#fff8ea" stroke="#e8e8e8" stroke-width="0.8"/><path d="M1793.19 1156.30 A157.00 157.00 0 0 1 1791.74 1154.48 L1814.93 1136.26 A127.50 127.50 0 0 0 1816.11 1137.74 Z" fill="#f9c440" stroke="#e8e8e8" stroke-width="0.8"/><path d="M1791.74 1154.48 A157.00 157.00 0 0 1 1790.31 1152.64 L1813.78 1134.76 A127.50 127.50 0 0 0 1814.93 1136.26 Z" fill="#eadcc0" stroke="#e8e8e8" stroke-width="0.8"/><path d="M1790.31 1152.64 A157.00 157.00 0 0 1 1788.91 1150.78 L1812.64 1133.25 A127.50 127.50 0 0 0 1813.78 1134.76 Z" fill="#fde3a0" stroke="#e8e8e8" stroke-width="0.8"/><path d="M1788.91 1150.78 A157.00 157.00 0 0 1 1787.54 1148.89 L1811.53 1131.72 A127.50 127.50 0 0 0 1812.64 1133.25 Z" fill="#f7e6c2" stroke="#e8e8e8" stroke-width="0.8"/><path d="M1787.54 1148.89 A157.00 157.00 0 0 1 1786.20 1146.99 L1810.44 1130.17 A127.50 127.50 0 0 0 1811.53 1131.72 Z" fill="#f3d48c" stroke="#e8e8e8" stroke-width="0.8"/><path d="M1786.20 1146.99 A157.00 157.00 0 0 1 1784.89 1145.07 L1809.37 1128.61 A127.50 127.50 0 0 0 1810.44 1130.17 Z" fill="#fffaf0" stroke="#e8e8e8" stroke-width="0.8"/><path d="M1784.89 1145.07 A157.00 157.00 0 0 1 1783.60 1143.12 L1808.33 1127.03 A127.50 127.50 0 0 0 1809.37 1128.61 Z" fill="#e8dcc4" stroke="#e8e8e8" stroke-width="0.8"/><path d="M1783.60 1143.12 A157.00 157.00 0 0 1 1782.35 1141.16 L1807.31 1125.44 A127.50 127.50 0 0 0 1808.33 1127.03 Z" fill="#fcd77a" stroke="#e8e8e8" stroke-width="0.8"/><path d="M1782.35 1141.16 A157.00 157.00 0 0 1 1781.12 1139.18 L1806.31 1123.83 A127.50 127.50 0 0 0 1807.31 1125.44 Z" fill="#efe3c9" stroke="#e8e8e8" stroke-width="0.8"/><path d="M1781.12 1139.18 A157.00 157.00 0 0 1 1779.92 1137.18 L1805.34 1122.21 A127.50 127.50 0 0 0 1806.31 1123.83 Z" fill="#fde9c0" stroke="#e8e8e8" stroke-width="0.8"/><path d="M1779.92 1137.18 A157.00 157.00 0 0 1 1778.76 1135.17 L1804.39 1120.57 A127.50 127.50 0 0 0 1805.34 1122.21 Z" fill="#e6dcc8" stroke="#e8e8e8" stroke-width="0.8"/><path d="M1778.76 1135.17 A157.00 157.00 0 0 1 1777.62 1133.14 L1803.47 1118.92 A127.50 127.50 0 0 0 1804.39 1120.57 Z" fill="#f5e7cf" stroke="#e8e8e8" stroke-width="0.8"/><path d="M1777.62 1133.14 A157.00 157.00 0 0 1 1776.51 1131.09 L1802.57 1117.26 A127.50 127.50 0 0 0 1803.47 1118.92 Z" fill="#e0d8c8" stroke="#e8e8e8" stroke-width="0.8"/><path d="M1776.51 1131.09 A157.00 157.00 0 0 1 1775.44 1129.02 L1801.70 1115.58 A127.50 127.50 0 0 0 1802.57 1117.26 Z" fill="#ece2cf" stroke="#e8e8e8" stroke-width="0.8"/><path d="M1758.56 1046.82 A157.00 157.00 0 0 1 1758.75 1044.32 L1788.15 1046.80 A127.50 127.50 0 0 0 1788.00 1048.83 Z" fill="#b0efea" stroke="#e8e8e8" stroke-width="0.8"/><path d="M1758.75 1044.32 A157.00 157.00 0 0 1 1758.98 1041.83 L1788.34 1044.77 A127.50 127.50 0 0 0 1788.15 1046.80 Z" fill="#fde3a0" stroke="#e8e8e8" stroke-width="0.8"/><path d="M1758.98 1041.83 A157.00 157.00 0 0 1 1759.25 1039.34 L1788.56 1042.75 A127.50 127.50 0 0 0 1788.34 1044.77 Z" fill="#e4f8f6" stroke="#e8e8e8" stroke-width="0.8"/><path d="M1759.25 1039.34 A157.00 157.00 0 0 1 1759.56 1036.85 L1788.81 1040.73 A127.50 127.50 0 0 0 1788.56 1042.75 Z" fill="#c8efeb" stroke="#e8e8e8" stroke-width="0.8"/><path d="M1759.56 1036.85 A157.00 157.00 0 0 1 1759.91 1034.37 L1789.09 1038.72 A127.50 127.50 0 0 0 1788.81 1040.73 Z" fill="#fffaf0" stroke="#e8e8e8" stroke-width="0.8"/><path d="M1759.91 1034.37 A157.00 157.00 0 0 1 1760.30 1031.90 L1789.41 1036.71 A127.50 127.50 0 0 0 1789.09 1038.72 Z" fill="#a8ede6" stroke="#e8e8e8" stroke-width="0.8"/><path d="M1760.30 1031.90 A157.00 157.00 0 0 1 1760.73 1029.43 L1789.75 1034.70 A127.50 127.50 0 0 0 1789.41 1036.71 Z" fill="#dde9e6" stroke="#e8e8e8" stroke-width="0.8"/><path d="M1760.73 1029.43 A157.00 157.00 0 0 1 1761.20 1026.97 L1790.13 1032.70 A127.50 127.50 0 0 0 1789.75 1034.70 Z" fill="#cfe3df" stroke="#e8e8e8" stroke-width="0.8"/><path d="M1761.20 1026.97 A157.00 157.00 0 0 1 1761.70 1024.51 L1790.55 1030.71 A127.50 127.50 0 0 0 1790.13 1032.70 Z" fill="#e6efec" stroke="#e8e8e8" stroke-width="0.8"/><path d="M1761.70 1024.51 A157.00 157.00 0 0 1 1762.25 1022.07 L1790.99 1028.73 A127.50 127.50 0 0 0 1790.55 1030.71 Z" fill="#c6dedb" stroke="#e8e8e8" stroke-width="0.8"/><path d="M1762.25 1022.07 A157.00 157.00 0 0 1 1762.84 1019.63 L1791.46 1026.75 A127.50 127.50 0 0 0 1790.99 1028.73 Z" fill="#d8e6e3" stroke="#e8e8e8" stroke-width="0.8"/><path d="M1762.84 1019.63 A157.00 157.00 0 0 1 1763.46 1017.21 L1791.97 1024.78 A127.50 127.50 0 0 0 1791.46 1026.75 Z" fill="#cfe0dd" stroke="#e8e8e8" stroke-width="0.8"/><path d="M1763.46 1017.21 A157.00 157.00 0 0 1 1764.12 1014.79 L1792.51 1022.81 A127.50 127.50 0 0 0 1791.97 1024.78 Z" fill="#e0ebe8" stroke="#e8e8e8" stroke-width="0.8"/><path d="M1764.12 1014.79 A157.00 157.00 0 0 1 1764.82 1012.38 L1793.08 1020.86 A127.50 127.50 0 0 0 1792.51 1022.81 Z" fill="#d2e2df" stroke="#e8e8e8" stroke-width="0.8"/><path d="M1791.65 960.63 A157.00 157.00 0 0 1 1793.58 958.22 L1816.43 976.87 A127.50 127.50 0 0 0 1814.87 978.83 Z" fill="#2fd6cb" stroke="#e8e8e8" stroke-width="0.8"/><path d="M1793.58 958.22 A157.00 157.00 0 0 1 1795.55 955.85 L1818.03 974.95 A127.50 127.50 0 0 0 1816.43 976.87 Z" fill="#6fe0d8" stroke="#e8e8e8" stroke-width="0.8"/><path d="M1795.55 955.85 A157.00 157.00 0 0 1 1797.57 953.52 L1819.67 973.06 A127.50 127.50 0 0 0 1818.03 974.95 Z" fill="#3fd8ce" stroke="#e8e8e8" stroke-width="0.8"/><path d="M1797.57 953.52 A157.00 157.00 0 0 1 1799.63 951.23 L1821.35 971.20 A127.50 127.50 0 0 0 1819.67 973.06 Z" fill="#9deee7" stroke="#e8e8e8" stroke-width="0.8"/><path d="M1799.63 951.23 A157.00 157.00 0 0 1 1801.74 948.98 L1823.06 969.37 A127.50 127.50 0 0 0 1821.35 971.20 Z" fill="#2fd6cb" stroke="#e8e8e8" stroke-width="0.8"/><path d="M1801.74 948.98 A157.00 157.00 0 0 1 1803.89 946.78 L1824.81 967.58 A127.50 127.50 0 0 0 1823.06 969.37 Z" fill="#e6ece8" stroke="#e8e8e8" stroke-width="0.8"/><path d="M1803.89 946.78 A157.00 157.00 0 0 1 1806.09 944.61 L1826.59 965.82 A127.50 127.50 0 0 0 1824.81 967.58 Z" fill="#d5e4e0" stroke="#e8e8e8" stroke-width="0.8"/><path d="M1806.09 944.61 A157.00 157.00 0 0 1 1808.33 942.49 L1828.41 964.10 A127.50 127.50 0 0 0 1826.59 965.82 Z" fill="#fdeac0" stroke="#e8e8e8" stroke-width="0.8"/><path d="M1808.33 942.49 A157.00 157.00 0 0 1 1810.61 940.41 L1830.26 962.41 A127.50 127.50 0 0 0 1828.41 964.10 Z" fill="#dfe8e4" stroke="#e8e8e8" stroke-width="0.8"/><path d="M1810.61 940.41 A157.00 157.00 0 0 1 1812.92 938.38 L1832.14 960.77 A127.50 127.50 0 0 0 1830.26 962.41 Z" fill="#cfdcd8" stroke="#e8e8e8" stroke-width="0.8"/><path d="M1812.92 938.38 A157.00 157.00 0 0 1 1815.28 936.40 L1834.06 959.15 A127.50 127.50 0 0 0 1832.14 960.77 Z" fill="#e8eeea" stroke="#e8e8e8" stroke-width="0.8"/><path d="M1815.28 936.40 A157.00 157.00 0 0 1 1817.68 934.46 L1836.00 957.58 A127.50 127.50 0 0 0 1834.06 959.15 Z" fill="#d8e2de" stroke="#e8e8e8" stroke-width="0.8"/><path d="M1845.64 916.75 A157.00 157.00 0 0 1 1847.56 915.82 L1860.27 942.44 A127.50 127.50 0 0 0 1858.71 943.20 Z" fill="#e9f8f7" stroke="#e8e8e8" stroke-width="0.8"/><path d="M1847.56 915.82 A157.00 157.00 0 0 1 1849.50 914.91 L1861.84 941.70 A127.50 127.50 0 0 0 1860.27 942.44 Z" fill="#7ee5dd" stroke="#e8e8e8" stroke-width="0.8"/><path d="M1849.50 914.91 A157.00 157.00 0 0 1 1851.44 914.03 L1863.42 940.99 A127.50 127.50 0 0 0 1861.84 941.70 Z" fill="#fffaf0" stroke="#e8e8e8" stroke-width="0.8"/><path d="M1851.44 914.03 A157.00 157.00 0 0 1 1853.40 913.17 L1865.01 940.29 A127.50 127.50 0 0 0 1863.42 940.99 Z" fill="#b8f0eb" stroke="#e8e8e8" stroke-width="0.8"/><path d="M1853.40 913.17 A157.00 157.00 0 0 1 1855.37 912.35 L1866.61 939.62 A127.50 127.50 0 0 0 1865.01 940.29 Z" fill="#2fd6cb" stroke="#e8e8e8" stroke-width="0.8"/><path d="M1855.37 912.35 A157.00 157.00 0 0 1 1857.35 911.55 L1868.22 938.97 A127.50 127.50 0 0 0 1866.61 939.62 Z" fill="#fcd77a" stroke="#e8e8e8" stroke-width="0.8"/><path d="M1857.35 911.55 A157.00 157.00 0 0 1 1859.35 910.77 L1869.84 938.34 A127.50 127.50 0 0 0 1868.22 938.97 Z" fill="#fdeac0" stroke="#e8e8e8" stroke-width="0.8"/><path d="M1859.35 910.77 A157.00 157.00 0 0 1 1861.35 910.02 L1871.47 937.73 A127.50 127.50 0 0 0 1869.84 938.34 Z" fill="#d5e4e2" stroke="#e8e8e8" stroke-width="0.8"/><path d="M1861.35 910.02 A157.00 157.00 0 0 1 1863.36 909.31 L1873.10 937.15 A127.50 127.50 0 0 0 1871.47 937.73 Z" fill="#e8f3f1" stroke="#e8e8e8" stroke-width="0.8"/><path d="M1863.36 909.31 A157.00 157.00 0 0 1 1865.38 908.61 L1874.74 936.59 A127.50 127.50 0 0 0 1873.10 937.15 Z" fill="#c8dcd9" stroke="#e8e8e8" stroke-width="0.8"/><path d="M2067.40 1096.01 A157.00 157.00 0 0 1 2066.80 1098.33 L2038.31 1090.66 A127.50 127.50 0 0 0 2038.80 1088.78 Z" fill="#bff0ec" stroke="#e8e8e8" stroke-width="0.8"/><path d="M2066.80 1098.33 A157.00 157.00 0 0 1 2066.16 1100.64 L2037.79 1092.54 A127.50 127.50 0 0 0 2038.31 1090.66 Z" fill="#5edfd5" stroke="#e8e8e8" stroke-width="0.8"/><path d="M2066.16 1100.64 A157.00 157.00 0 0 1 2065.48 1102.94 L2037.24 1094.40 A127.50 127.50 0 0 0 2037.79 1092.54 Z" fill="#e6f8f6" stroke="#e8e8e8" stroke-width="0.8"/><path d="M2065.48 1102.94 A157.00 157.00 0 0 1 2064.77 1105.23 L2036.66 1096.26 A127.50 127.50 0 0 0 2037.24 1094.40 Z" fill="#5edfd5" stroke="#e8e8e8" stroke-width="0.8"/><path d="M2064.77 1105.23 A157.00 157.00 0 0 1 2064.02 1107.51 L2036.06 1098.11 A127.50 127.50 0 0 0 2036.66 1096.26 Z" fill="#e6ece0" stroke="#e8e8e8" stroke-width="0.8"/><path d="M2064.02 1107.51 A157.00 157.00 0 0 1 2063.24 1109.78 L2035.42 1099.96 A127.50 127.50 0 0 0 2036.06 1098.11 Z" fill="#fcd77a" stroke="#e8e8e8" stroke-width="0.8"/><path d="M2063.24 1109.78 A157.00 157.00 0 0 1 2062.42 1112.03 L2034.76 1101.79 A127.50 127.50 0 0 0 2035.42 1099.96 Z" fill="#d9d4c6" stroke="#e8e8e8" stroke-width="0.8"/><path d="M2062.42 1112.03 A157.00 157.00 0 0 1 2061.57 1114.28 L2034.07 1103.61 A127.50 127.50 0 0 0 2034.76 1101.79 Z" fill="#e9e4d6" stroke="#e8e8e8" stroke-width="0.8"/></svg>
<div class="grip" style="left:2278px;top:852px;height:30px"></div>
<div class="grip" style="left:2278px;top:888px;height:30px"></div>
<div class="panel" style="left:52px;top:1272px;width:976px;height:600px"></div>
<div class="ttl" style="left:76px;top:1300.7px;font-size:24px">World's Pop Growth</div>
<div class="keb" style="left:998.0px;top:1298.0px"><i></i><i></i><i></i></div>
<svg class="abs" style="left:0;top:0" width="1040" height="1828"><circle cx="175.4" cy="1355.7" r="9" fill="#c8b8a6"/><text class="lg" x="187.9" y="1361.3">East Asia &amp; Pacific</text><circle cx="403.7" cy="1355.7" r="9" fill="#a874a9"/><text class="lg" x="416.2" y="1361.3">South Asia</text><circle cx="567.3" cy="1355.7" r="9" fill="#b0e9d6"/><text class="lg" x="579.8" y="1361.3">Europe &amp; Central Asi...</text><circle cx="798.4" cy="1355.7" r="9" fill="#fde39f"/><text class="lg" x="810.9" y="1361.3">Sub-Saharan Africa</text><circle cx="175.4" cy="1385.8" r="9" fill="#9ebfbf"/><text class="lg" x="187.9" y="1391.4">Latin America &amp; Cari...</text><circle cx="403.7" cy="1385.8" r="9" fill="#b1e3ee"/><text class="lg" x="416.2" y="1391.4">North America</text><circle cx="567.3" cy="1385.8" r="9" fill="#f0a8ad"/><text class="lg" x="579.8" y="1391.4">Middle East &amp; North ...</text><path d="M126.8 1753.6 L143.0 1752.3 L159.3 1751.0 L175.5 1749.7 L191.8 1748.4 L208.0 1747.0 L224.2 1745.7 L240.5 1744.4 L256.7 1743.1 L273.0 1741.7 L289.2 1740.3 L305.4 1738.9 L321.7 1737.4 L337.9 1735.9 L354.2 1734.4 L370.4 1732.9 L386.6 1731.4 L402.9 1729.9 L419.1 1728.4 L435.4 1726.9 L451.6 1725.4 L467.8 1723.9 L484.1 1722.5 L500.3 1721.0 L516.6 1719.5 L532.8 1718.1 L549.0 1716.6 L565.3 1715.2 L581.5 1713.8 L597.8 1712.4 L614.0 1711.0 L630.2 1709.6 L646.5 1708.2 L662.7 1706.9 L679.0 1705.5 L695.2 1704.2 L711.4 1702.8 L727.7 1701.6 L743.9 1700.3 L760.2 1699.2 L776.4 1698.1 L792.6 1697.1 L808.9 1696.2 L825.1 1695.3 L841.4 1694.5 L857.6 1693.7 L873.8 1693.0 L890.1 1692.3 L906.3 1691.5 L922.6 1690.8 L938.8 1690.0 L955.0 1689.2 L971.3 1688.4 L987.5 1687.6 L1003.8 1686.8 L1003.8 1811.4 L987.5 1811.4 L971.3 1811.4 L955.0 1811.4 L938.8 1811.4 L922.6 1811.4 L906.3 1811.4 L890.1 1811.4 L873.8 1811.4 L857.6 1811.4 L841.4 1811.4 L825.1 1811.4 L808.9 1811.4 L792.6 1811.4 L776.4 1811.4 L760.2 1811.4 L743.9 1811.4 L727.7 1811.4 L711.4 1811.4 L695.2 1811.4 L679.0 1811.4 L662.7 1811.4 L646.5 1811.4 L630.2 1811.4 L614.0 1811.4 L597.8 1811.4 L581.5 1811.4 L565.3 1811.4 L549.0 1811.4 L532.8 1811.4 L516.6 1811.4 L500.3 1811.4 L484.1 1811.4 L467.8 1811.4 L451.6 1811.4 L435.4 1811.4 L419.1 1811.4 L402.9 1811.4 L386.6 1811.4 L370.4 1811.4 L354.2 1811.4 L337.9 1811.4 L321.7 1811.4 L305.4 1811.4 L289.2 1811.4 L273.0 1811.4 L256.7 1811.4 L240.5 1811.4 L224.2 1811.4 L208.0 1811.4 L191.8 1811.4 L175.5 1811.4 L159.3 1811.4 L143.0 1811.4 L126.8 1811.4 Z" fill="#d8cfc5"/><path d="M126.8 1723.0 L143.0 1720.8 L159.3 1718.7 L175.5 1716.6 L191.8 1714.5 L208.0 1712.4 L224.2 1710.2 L240.5 1708.1 L256.7 1705.9 L273.0 1703.6 L289.2 1701.3 L305.4 1698.9 L321.7 1696.5 L337.9 1694.0 L354.2 1691.5 L370.4 1689.0 L386.6 1686.4 L402.9 1683.9 L419.1 1681.2 L435.4 1678.6 L451.6 1676.0 L467.8 1673.3 L484.1 1670.7 L500.3 1667.9 L516.6 1665.2 L532.8 1662.5 L549.0 1659.7 L565.3 1656.9 L581.5 1654.2 L597.8 1651.4 L614.0 1648.7 L630.2 1646.0 L646.5 1643.2 L662.7 1640.4 L679.0 1637.6 L695.2 1634.8 L711.4 1632.1 L727.7 1629.4 L743.9 1626.7 L760.2 1624.2 L776.4 1621.7 L792.6 1619.3 L808.9 1617.1 L825.1 1614.9 L841.4 1612.8 L857.6 1610.7 L873.8 1608.6 L890.1 1606.6 L906.3 1604.5 L922.6 1602.5 L938.8 1600.4 L955.0 1598.3 L971.3 1596.2 L987.5 1594.1 L1003.8 1592.0 L1003.8 1686.8 L987.5 1687.6 L971.3 1688.4 L955.0 1689.2 L938.8 1690.0 L922.6 1690.8 L906.3 1691.5 L890.1 1692.3 L873.8 1693.0 L857.6 1693.7 L841.4 1694.5 L825.1 1695.3 L808.9 1696.2 L792.6 1697.1 L776.4 1698.1 L760.2 1699.2 L743.9 1700.3 L727.7 1701.6 L711.4 1702.8 L695.2 1704.2 L679.0 1705.5 L662.7 1706.9 L646.5 1708.2 L630.2 1709.6 L614.0 1711.0 L597.8 1712.4 L581.5 1713.8 L565.3 1715.2 L549.0 1716.6 L532.8 1718.1 L516.6 1719.5 L500.3 1721.0 L484.1 1722.5 L467.8 1723.9 L451.6 1725.4 L435.4 1726.9 L419.1 1728.4 L402.9 1729.9 L386.6 1731.4 L370.4 1732.9 L354.2 1734.4 L337.9 1735.9 L321.7 1737.4 L305.4 1738.9 L289.2 1740.3 L273.0 1741.7 L256.7 1743.1 L240.5 1744.4 L224.2 1745.7 L208.0 1747.0 L191.8 1748.4 L175.5 1749.7 L159.3 1751.0 L143.0 1752.3 L126.8 1753.6 Z" fill="#c8a0c4"/><path d="M126.8 1686.0 L143.0 1683.4 L159.3 1680.8 L175.5 1678.3 L191.8 1675.7 L208.0 1673.1 L224.2 1670.6 L240.5 1668.0 L256.7 1665.3 L273.0 1662.7 L289.2 1660.0 L305.4 1657.3 L321.7 1654.5 L337.9 1651.8 L354.2 1649.0 L370.4 1646.2 L386.6 1643.3 L402.9 1640.5 L419.1 1637.6 L435.4 1634.7 L451.6 1631.8 L467.8 1628.8 L484.1 1625.8 L500.3 1622.8 L516.6 1619.7 L532.8 1616.6 L549.0 1613.6 L565.3 1610.5 L581.5 1607.5 L597.8 1604.5 L614.0 1601.6 L630.2 1598.7 L646.5 1595.9 L662.7 1593.1 L679.0 1590.3 L695.2 1587.6 L711.4 1584.9 L727.7 1582.2 L743.9 1579.5 L760.2 1576.9 L776.4 1574.3 L792.6 1571.8 L808.9 1569.2 L825.1 1566.8 L841.4 1564.3 L857.6 1561.9 L873.8 1559.5 L890.1 1557.2 L906.3 1554.8 L922.6 1552.5 L938.8 1550.2 L955.0 1547.9 L971.3 1545.7 L987.5 1543.6 L1003.8 1541.4 L1003.8 1592.0 L987.5 1594.1 L971.3 1596.2 L955.0 1598.3 L938.8 1600.4 L922.6 1602.5 L906.3 1604.5 L890.1 1606.6 L873.8 1608.6 L857.6 1610.7 L841.4 1612.8 L825.1 1614.9 L808.9 1617.1 L792.6 1619.3 L776.4 1621.7 L760.2 1624.2 L743.9 1626.7 L727.7 1629.4 L711.4 1632.1 L695.2 1634.8 L679.0 1637.6 L662.7 1640.4 L646.5 1643.2 L630.2 1646.0 L614.0 1648.7 L597.8 1651.4 L581.5 1654.2 L565.3 1656.9 L549.0 1659.7 L532.8 1662.5 L516.6 1665.2 L500.3 1667.9 L484.1 1670.7 L467.8 1673.3 L451.6 1676.0 L435.4 1678.6 L419.1 1681.2 L402.9 1683.9 L386.6 1686.4 L370.4 1689.0 L354.2 1691.5 L337.9 1694.0 L321.7 1696.5 L305.4 1698.9 L289.2 1701.3 L273.0 1703.6 L256.7 1705.9 L240.5 1708.1 L224.2 1710.2 L208.0 1712.4 L191.8 1714.5 L175.5 1716.6 L159.3 1718.7 L143.0 1720.8 L126.8 1723.0 Z" fill="#c9eee3"/><path d="M126.8 1672.8 L143.0 1669.9 L159.3 1667.1 L175.5 1664.2 L191.8 1661.4 L208.0 1658.5 L224.2 1655.7 L240.5 1652.8 L256.7 1649.8 L273.0 1646.9 L289.2 1643.8 L305.4 1640.7 L321.7 1637.6 L337.9 1634.4 L354.2 1631.2 L370.4 1628.0 L386.6 1624.7 L402.9 1621.3 L419.1 1617.9 L435.4 1614.4 L451.6 1610.9 L467.8 1607.3 L484.1 1603.5 L500.3 1599.7 L516.6 1595.7 L532.8 1591.8 L549.0 1587.8 L565.3 1583.9 L581.5 1579.9 L597.8 1576.1 L614.0 1572.3 L630.2 1568.6 L646.5 1565.0 L662.7 1561.3 L679.0 1557.8 L695.2 1554.2 L711.4 1550.6 L727.7 1547.1 L743.9 1543.6 L760.2 1540.0 L776.4 1536.5 L792.6 1532.9 L808.9 1529.4 L825.1 1525.9 L841.4 1522.3 L857.6 1518.8 L873.8 1515.3 L890.1 1511.8 L906.3 1508.2 L922.6 1504.7 L938.8 1501.2 L955.0 1497.7 L971.3 1494.1 L987.5 1490.6 L1003.8 1487.1 L1003.8 1541.4 L987.5 1543.6 L971.3 1545.7 L955.0 1547.9 L938.8 1550.2 L922.6 1552.5 L906.3 1554.8 L890.1 1557.2 L873.8 1559.5 L857.6 1561.9 L841.4 1564.3 L825.1 1566.8 L808.9 1569.2 L792.6 1571.8 L776.4 1574.3 L760.2 1576.9 L743.9 1579.5 L727.7 1582.2 L711.4 1584.9 L695.2 1587.6 L679.0 1590.3 L662.7 1593.1 L646.5 1595.9 L630.2 1598.7 L614.0 1601.6 L597.8 1604.5 L581.5 1607.5 L565.3 1610.5 L549.0 1613.6 L532.8 1616.6 L516.6 1619.7 L500.3 1622.8 L484.1 1625.8 L467.8 1628.8 L451.6 1631.8 L435.4 1634.7 L419.1 1637.6 L402.9 1640.5 L386.6 1643.3 L370.4 1646.2 L354.2 1649.0 L337.9 1651.8 L321.7 1654.5 L305.4 1657.3 L289.2 1660.0 L273.0 1662.7 L256.7 1665.3 L240.5 1668.0 L224.2 1670.6 L208.0 1673.1 L191.8 1675.7 L175.5 1678.3 L159.3 1680.8 L143.0 1683.4 L126.8 1686.0 Z" fill="#fde9c2"/><path d="M126.8 1660.3 L143.0 1657.2 L159.3 1654.1 L175.5 1651.0 L191.8 1647.9 L208.0 1644.9 L224.2 1641.7 L240.5 1638.6 L256.7 1635.4 L273.0 1632.0 L289.2 1628.6 L305.4 1625.1 L321.7 1621.4 L337.9 1617.7 L354.2 1614.0 L370.4 1610.1 L386.6 1606.3 L402.9 1602.3 L419.1 1598.4 L435.4 1594.4 L451.6 1590.4 L467.8 1586.4 L484.1 1582.2 L500.3 1578.1 L516.6 1573.9 L532.8 1569.6 L549.0 1565.4 L565.3 1561.1 L581.5 1556.9 L597.8 1552.7 L614.0 1548.6 L630.2 1544.5 L646.5 1540.5 L662.7 1536.4 L679.0 1532.4 L695.2 1528.4 L711.4 1524.4 L727.7 1520.4 L743.9 1516.4 L760.2 1512.4 L776.4 1508.4 L792.6 1504.4 L808.9 1500.3 L825.1 1496.3 L841.4 1492.3 L857.6 1488.2 L873.8 1484.2 L890.1 1480.2 L906.3 1476.2 L922.6 1472.2 L938.8 1468.2 L955.0 1464.2 L971.3 1460.3 L987.5 1456.4 L1003.8 1452.5 L1003.8 1487.1 L987.5 1490.6 L971.3 1494.1 L955.0 1497.7 L938.8 1501.2 L922.6 1504.7 L906.3 1508.2 L890.1 1511.8 L873.8 1515.3 L857.6 1518.8 L841.4 1522.3 L825.1 1525.9 L808.9 1529.4 L792.6 1532.9 L776.4 1536.5 L760.2 1540.0 L743.9 1543.6 L727.7 1547.1 L711.4 1550.6 L695.2 1554.2 L679.0 1557.8 L662.7 1561.3 L646.5 1565.0 L630.2 1568.6 L614.0 1572.3 L597.8 1576.1 L581.5 1579.9 L565.3 1583.9 L549.0 1587.8 L532.8 1591.8 L516.6 1595.7 L500.3 1599.7 L484.1 1603.5 L467.8 1607.3 L451.6 1610.9 L435.4 1614.4 L419.1 1617.9 L402.9 1621.3 L386.6 1624.7 L370.4 1628.0 L354.2 1631.2 L337.9 1634.4 L321.7 1637.6 L305.4 1640.7 L289.2 1643.8 L273.0 1646.9 L256.7 1649.8 L240.5 1652.8 L224.2 1655.7 L208.0 1658.5 L191.8 1661.4 L175.5 1664.2 L159.3 1667.1 L143.0 1669.9 L126.8 1672.8 Z" fill="#bad3d4"/><path d="M126.8 1648.7 L143.0 1645.4 L159.3 1642.2 L175.5 1639.0 L191.8 1635.8 L208.0 1632.6 L224.2 1629.4 L240.5 1626.1 L256.7 1622.7 L273.0 1619.3 L289.2 1615.7 L305.4 1612.0 L321.7 1608.3 L337.9 1604.5 L354.2 1600.6 L370.4 1596.7 L386.6 1592.7 L402.9 1588.6 L419.1 1584.6 L435.4 1580.4 L451.6 1576.3 L467.8 1572.1 L484.1 1567.8 L500.3 1563.4 L516.6 1559.0 L532.8 1554.6 L549.0 1550.1 L565.3 1545.7 L581.5 1541.3 L597.8 1536.9 L614.0 1532.5 L630.2 1528.2 L646.5 1523.9 L662.7 1519.6 L679.0 1515.4 L695.2 1511.1 L711.4 1506.9 L727.7 1502.6 L743.9 1498.4 L760.2 1494.1 L776.4 1489.9 L792.6 1485.6 L808.9 1481.4 L825.1 1477.1 L841.4 1472.8 L857.6 1468.5 L873.8 1464.2 L890.1 1460.0 L906.3 1455.8 L922.6 1451.7 L938.8 1447.7 L955.0 1443.8 L971.3 1440.1 L987.5 1436.5 L1003.8 1432.8 L1003.8 1452.5 L987.5 1456.4 L971.3 1460.3 L955.0 1464.2 L938.8 1468.2 L922.6 1472.2 L906.3 1476.2 L890.1 1480.2 L873.8 1484.2 L857.6 1488.2 L841.4 1492.3 L825.1 1496.3 L808.9 1500.3 L792.6 1504.4 L776.4 1508.4 L760.2 1512.4 L743.9 1516.4 L727.7 1520.4 L711.4 1524.4 L695.2 1528.4 L679.0 1532.4 L662.7 1536.4 L646.5 1540.5 L630.2 1544.5 L614.0 1548.6 L597.8 1552.7 L581.5 1556.9 L565.3 1561.1 L549.0 1565.4 L532.8 1569.6 L516.6 1573.9 L500.3 1578.1 L484.1 1582.2 L467.8 1586.4 L451.6 1590.4 L435.4 1594.4 L419.1 1598.4 L402.9 1602.3 L386.6 1606.3 L370.4 1610.1 L354.2 1614.0 L337.9 1617.7 L321.7 1621.4 L305.4 1625.1 L289.2 1628.6 L273.0 1632.0 L256.7 1635.4 L240.5 1638.6 L224.2 1641.7 L208.0 1644.9 L191.8 1647.9 L175.5 1651.0 L159.3 1654.1 L143.0 1657.2 L126.8 1660.3 Z" fill="#cbebf2"/><path d="M126.8 1643.8 L143.0 1640.2 L159.3 1636.7 L175.5 1633.2 L191.8 1629.8 L208.0 1626.3 L224.2 1622.7 L240.5 1619.2 L256.7 1615.5 L273.0 1611.8 L289.2 1608.0 L305.4 1604.1 L321.7 1600.2 L337.9 1596.2 L354.2 1592.1 L370.4 1588.0 L386.6 1583.8 L402.9 1579.5 L419.1 1575.2 L435.4 1570.8 L451.6 1566.3 L467.8 1561.7 L484.1 1556.9 L500.3 1552.0 L516.6 1547.0 L532.8 1542.0 L549.0 1536.9 L565.3 1531.9 L581.5 1526.9 L597.8 1522.0 L614.0 1517.2 L630.2 1512.5 L646.5 1507.9 L662.7 1503.4 L679.0 1498.9 L695.2 1494.4 L711.4 1489.9 L727.7 1485.5 L743.9 1481.1 L760.2 1476.6 L776.4 1472.2 L792.6 1467.8 L808.9 1463.4 L825.1 1459.0 L841.4 1454.6 L857.6 1450.2 L873.8 1445.9 L890.1 1441.5 L906.3 1437.0 L922.6 1432.5 L938.8 1428.0 L955.0 1423.4 L971.3 1418.6 L987.5 1413.9 L1003.8 1409.1 L1003.8 1432.8 L987.5 1436.5 L971.3 1440.1 L955.0 1443.8 L938.8 1447.7 L922.6 1451.7 L906.3 1455.8 L890.1 1460.0 L873.8 1464.2 L857.6 1468.5 L841.4 1472.8 L825.1 1477.1 L808.9 1481.4 L792.6 1485.6 L776.4 1489.9 L760.2 1494.1 L743.9 1498.4 L727.7 1502.6 L711.4 1506.9 L695.2 1511.1 L679.0 1515.4 L662.7 1519.6 L646.5 1523.9 L630.2 1528.2 L614.0 1532.5 L597.8 1536.9 L581.5 1541.3 L565.3 1545.7 L549.0 1550.1 L532.8 1554.6 L516.6 1559.0 L500.3 1563.4 L484.1 1567.8 L467.8 1572.1 L451.6 1576.3 L435.4 1580.4 L419.1 1584.6 L402.9 1588.6 L386.6 1592.7 L370.4 1596.7 L354.2 1600.6 L337.9 1604.5 L321.7 1608.3 L305.4 1612.0 L289.2 1615.7 L273.0 1619.3 L256.7 1622.7 L240.5 1626.1 L224.2 1629.4 L208.0 1632.6 L191.8 1635.8 L175.5 1639.0 L159.3 1642.2 L143.0 1645.4 L126.8 1648.7 Z" fill="#f6c5c8"/><line x1="289.2" y1="1408.7" x2="289.2" y2="1811.4" stroke="rgba(0,0,0,0.06)" stroke-width="2"/><line x1="451.6" y1="1408.7" x2="451.6" y2="1811.4" stroke="rgba(0,0,0,0.06)" stroke-width="2"/><line x1="614.0" y1="1408.7" x2="614.0" y2="1811.4" stroke="rgba(0,0,0,0.06)" stroke-width="2"/><line x1="776.4" y1="1408.7" x2="776.4" y2="1811.4" stroke="rgba(0,0,0,0.06)" stroke-width="2"/><line x1="938.8" y1="1408.7" x2="938.8" y2="1811.4" stroke="rgba(0,0,0,0.06)" stroke-width="2"/><line x1="126.8" y1="1700.3" x2="1003.8" y2="1700.3" stroke="rgba(0,0,0,0.07)" stroke-width="2"/><text class="ax" x="121.6" y="1706.5" text-anchor="end">2B</text><line x1="126.8" y1="1589.2" x2="1003.8" y2="1589.2" stroke="rgba(0,0,0,0.07)" stroke-width="2"/><text class="ax" x="121.6" y="1595.4" text-anchor="end">4B</text><line x1="126.8" y1="1478.1" x2="1003.8" y2="1478.1" stroke="rgba(0,0,0,0.07)" stroke-width="2"/><text class="ax" x="121.6" y="1484.3" text-anchor="end">6B</text><text class="ax" x="121.6" y="1817.6" text-anchor="end">0</text><text class="ax" x="126.8" y="1834.5" text-anchor="middle">1960</text><text class="ax" x="289.2" y="1834.5" text-anchor="middle">1970</text><text class="ax" x="451.6" y="1834.5" text-anchor="middle">1980</text><text class="ax" x="614.0" y="1834.5" text-anchor="middle">1990</text><text class="ax" x="776.4" y="1834.5" text-anchor="middle">2000</text><text class="ax" x="938.8" y="1834.5" text-anchor="middle">2010</text><line x1="126.8" y1="1408.7" x2="126.8" y2="1812" stroke="#222" stroke-width="2.2"/></svg>
<div class="grip" style="left:1028px;top:1332px;height:30px"></div>
<div class="grip" style="left:1028px;top:1368px;height:30px"></div>
<div class="panel" style="left:1052px;top:1272px;width:1976px;height:600px"></div>
<div class="ttl" style="left:1076px;top:1300.7px;font-size:24px">Life Expectancy VS Rural %</div>
<div class="keb" style="left:2998.0px;top:1298.0px"><i></i><i></i><i></i></div>
<svg class="abs" style="left:1040px;top:1260px" width="2000" height="568" viewBox="1040 1260 2000 568"><circle cx="1614.0" cy="1356" r="9" fill="#c8b8a6"/><text class="lg" x="1626.5" y="1361.6">East Asia &amp; Pacific</text><circle cx="1813.3" cy="1356" r="9" fill="#a874a9"/><text class="lg" x="1825.8" y="1361.6">South Asia</text><circle cx="1948.2" cy="1356" r="9" fill="#b1e3ee"/><text class="lg" x="1960.7" y="1361.6">North America</text><circle cx="2110.8" cy="1356" r="9" fill="#9ebfbf"/><text class="lg" x="2123.3" y="1361.6">Latin America &amp; Cari...</text><circle cx="2339.2" cy="1356" r="9" fill="#fde39f"/><text class="lg" x="2351.7" y="1361.6">Sub-Saharan Africa</text><circle cx="2544.1" cy="1356" r="9" fill="#b0e9d6"/><text class="lg" x="2556.6" y="1361.6">Europe &amp; Central Asi...</text><circle cx="2775.4" cy="1356" r="9" fill="#f0a8ad"/><text class="lg" x="2787.9" y="1361.6">Middle East &amp; North ...</text><line x1="1346.2" y1="1379" x2="1346.2" y2="1811" stroke="#e2e2e2" stroke-width="2"/><line x1="1550.7" y1="1379" x2="1550.7" y2="1811" stroke="#e2e2e2" stroke-width="2"/><line x1="1755.2" y1="1379" x2="1755.2" y2="1811" stroke="#e2e2e2" stroke-width="2"/><line x1="1959.7" y1="1379" x2="1959.7" y2="1811" stroke="#e2e2e2" stroke-width="2"/><line x1="2164.2" y1="1379" x2="2164.2" y2="1811" stroke="#e2e2e2" stroke-width="2"/><line x1="2368.7" y1="1379" x2="2368.7" y2="1811" stroke="#e2e2e2" stroke-width="2"/><line x1="2573.2" y1="1379" x2="2573.2" y2="1811" stroke="#e2e2e2" stroke-width="2"/><line x1="2777.7" y1="1379" x2="2777.7" y2="1811" stroke="#e2e2e2" stroke-width="2"/><line x1="2982.2" y1="1379" x2="2982.2" y2="1811" stroke="#e2e2e2" stroke-width="2"/><line x1="1141.7" y1="1417.0" x2="3003.8" y2="1417.0" stroke="#e2e2e2" stroke-width="2"/><text class="ax" x="1127" y="1423.2" text-anchor="end">80</text><line x1="1141.7" y1="1530.2" x2="3003.8" y2="1530.2" stroke="#e2e2e2" stroke-width="2"/><text class="ax" x="1127" y="1536.4" text-anchor="end">70</text><line x1="1141.7" y1="1643.0" x2="3003.8" y2="1643.0" stroke="#e2e2e2" stroke-width="2"/><text class="ax" x="1127" y="1649.2" text-anchor="end">60</text><line x1="1141.7" y1="1756.1" x2="3003.8" y2="1756.1" stroke="#e2e2e2" stroke-width="2"/><text class="ax" x="1127" y="1762.3" text-anchor="end">50</text><circle cx="2152.5" cy="1473.4" r="41.6" fill="#c8b8a6" fill-opacity="0.45" stroke="#c8b8a6" stroke-width="2"/><circle cx="2547.6" cy="1576.1" r="39.7" fill="#a874a9" fill-opacity="0.45" stroke="#a874a9" stroke-width="2"/><circle cx="1531.5" cy="1432.6" r="19.7" fill="#b1e3ee" fill-opacity="0.45" stroke="#b1e3ee" stroke-width="2"/><circle cx="2149.7" cy="1525.8" r="17.2" fill="#c8b8a6" fill-opacity="0.45" stroke="#c8b8a6" stroke-width="2"/><circle cx="1456.2" cy="1492.8" r="15.4" fill="#97b9b9" fill-opacity="0.45" stroke="#97b9b9" stroke-width="2"/><circle cx="2429.9" cy="1572.4" r="14.4" fill="#a874a9" fill-opacity="0.45" stroke="#a874a9" stroke-width="2"/><circle cx="2279.3" cy="1736.9" r="14.1" fill="#fde39f" fill-opacity="0.45" stroke="#fde39f" stroke-width="2"/><circle cx="2548.3" cy="1531.4" r="13.5" fill="#a874a9" fill-opacity="0.45" stroke="#a874a9" stroke-width="2"/><circle cx="1678.9" cy="1534.2" r="12.9" fill="#b0e9d6" fill-opacity="0.45" stroke="#b0e9d6" stroke-width="2"/><circle cx="1320.7" cy="1387.9" r="12.6" fill="#c8b8a6" fill-opacity="0.45" stroke="#c8b8a6" stroke-width="2"/><circle cx="1588.9" cy="1452.1" r="11.7" fill="#97b9b9" fill-opacity="0.45" stroke="#97b9b9" stroke-width="2"/><circle cx="2266.0" cy="1548.4" r="10.4" fill="#c8b8a6" fill-opacity="0.45" stroke="#c8b8a6" stroke-width="2"/><circle cx="2823.5" cy="1617.8" r="10.4" fill="#fde39f" fill-opacity="0.45" stroke="#fde39f" stroke-width="2"/><circle cx="2307.4" cy="1522.8" r="10.1" fill="#f0a8ad" fill-opacity="0.45" stroke="#f0a8ad" stroke-width="2"/><circle cx="2552.0" cy="1468.8" r="10.1" fill="#c8b8a6" fill-opacity="0.45" stroke="#c8b8a6" stroke-width="2"/><circle cx="1663.4" cy="1408.9" r="9.5" fill="#b0e9d6" fill-opacity="0.45" stroke="#b0e9d6" stroke-width="2"/><circle cx="1729.5" cy="1478.9" r="9.2" fill="#b0e9d6" fill-opacity="0.45" stroke="#b0e9d6" stroke-width="2"/><circle cx="1730.7" cy="1491.6" r="9.2" fill="#f0a8ad" fill-opacity="0.45" stroke="#f0a8ad" stroke-width="2"/><circle cx="1518.8" cy="1406.4" r="8.9" fill="#b0e9d6" fill-opacity="0.45" stroke="#b0e9d6" stroke-width="2"/><circle cx="2258.3" cy="1485.1" r="8.9" fill="#c8b8a6" fill-opacity="0.45" stroke="#c8b8a6" stroke-width="2"/><circle cx="2359.5" cy="1764.4" r="8.9" fill="#fde39f" fill-opacity="0.45" stroke="#fde39f" stroke-width="2"/><circle cx="1579.9" cy="1393.5" r="8.6" fill="#b0e9d6" fill-opacity="0.45" stroke="#b0e9d6" stroke-width="2"/><circle cx="1786.9" cy="1392.5" r="7.9" fill="#b0e9d6" fill-opacity="0.45" stroke="#b0e9d6" stroke-width="2"/><circle cx="2533.5" cy="1589.7" r="7.9" fill="#c8b8a6" fill-opacity="0.45" stroke="#c8b8a6" stroke-width="2"/><circle cx="1509.0" cy="1406.4" r="7.6" fill="#c8b8a6" fill-opacity="0.45" stroke="#c8b8a6" stroke-width="2"/><circle cx="1903.5" cy="1696.5" r="7.3" fill="#fde39f" fill-opacity="0.45" stroke="#fde39f" stroke-width="2"/><circle cx="2597.6" cy="1642.5" r="7.3" fill="#fde39f" fill-opacity="0.45" stroke="#fde39f" stroke-width="2"/><circle cx="2696.4" cy="1639.4" r="7.3" fill="#fde39f" fill-opacity="0.45" stroke="#fde39f" stroke-width="2"/><circle cx="1646.5" cy="1490.0" r="7.0" fill="#97b9b9" fill-opacity="0.45" stroke="#97b9b9" stroke-width="2"/><circle cx="1323.2" cy="1464.4" r="6.7" fill="#97b9b9" fill-opacity="0.45" stroke="#97b9b9" stroke-width="2"/><circle cx="1577.5" cy="1389.1" r="6.7" fill="#b0e9d6" fill-opacity="0.45" stroke="#b0e9d6" stroke-width="2"/><circle cx="1777.9" cy="1520.9" r="6.7" fill="#b0e9d6" fill-opacity="0.45" stroke="#b0e9d6" stroke-width="2"/><circle cx="1528.1" cy="1405.5" r="6.4" fill="#b1e3ee" fill-opacity="0.45" stroke="#b1e3ee" stroke-width="2"/><circle cx="1943.7" cy="1453.9" r="6.4" fill="#b0e9d6" fill-opacity="0.45" stroke="#b0e9d6" stroke-width="2"/><circle cx="2883.7" cy="1666.0" r="6.4" fill="#fde39f" fill-opacity="0.45" stroke="#fde39f" stroke-width="2"/><circle cx="1791.8" cy="1521.8" r="6.1" fill="#f0a8ad" fill-opacity="0.45" stroke="#f0a8ad" stroke-width="2"/><circle cx="1503.7" cy="1470.6" r="5.8" fill="#f0a8ad" fill-opacity="0.45" stroke="#f0a8ad" stroke-width="2"/><circle cx="1773.6" cy="1541.3" r="5.8" fill="#f0a8ad" fill-opacity="0.45" stroke="#f0a8ad" stroke-width="2"/><circle cx="1996.7" cy="1525.8" r="5.8" fill="#f0a8ad" fill-opacity="0.45" stroke="#f0a8ad" stroke-width="2"/><circle cx="2446.9" cy="1553.3" r="5.8" fill="#b0e9d6" fill-opacity="0.45" stroke="#b0e9d6" stroke-width="2"/><circle cx="2673.9" cy="1642.5" r="5.8" fill="#a874a9" fill-opacity="0.45" stroke="#a874a9" stroke-width="2"/><circle cx="1370.7" cy="1481.4" r="5.5" fill="#97b9b9" fill-opacity="0.45" stroke="#97b9b9" stroke-width="2"/><circle cx="1606.4" cy="1482.6" r="5.5" fill="#97b9b9" fill-opacity="0.45" stroke="#97b9b9" stroke-width="2"/><circle cx="1719.6" cy="1477.4" r="5.5" fill="#c8b8a6" fill-opacity="0.45" stroke="#c8b8a6" stroke-width="2"/><circle cx="2835.3" cy="1557.9" r="5.5" fill="#a874a9" fill-opacity="0.45" stroke="#a874a9" stroke-width="2"/><circle cx="1953.2" cy="1539.4" r="5.2" fill="#c8b8a6" fill-opacity="0.45" stroke="#c8b8a6" stroke-width="2"/><circle cx="2135.5" cy="1634.5" r="5.2" fill="#fde39f" fill-opacity="0.45" stroke="#fde39f" stroke-width="2"/><circle cx="2350.0" cy="1744.3" r="5.2" fill="#fde39f" fill-opacity="0.45" stroke="#fde39f" stroke-width="2"/><circle cx="2526.0" cy="1612.6" r="5.2" fill="#f0a8ad" fill-opacity="0.45" stroke="#f0a8ad" stroke-width="2"/><circle cx="2509.4" cy="1624.0" r="5.2" fill="#fde39f" fill-opacity="0.45" stroke="#fde39f" stroke-width="2"/><circle cx="2548.9" cy="1762.2" r="5.2" fill="#fde39f" fill-opacity="0.45" stroke="#fde39f" stroke-width="2"/><circle cx="1369.2" cy="1396.2" r="4.9" fill="#c8b8a6" fill-opacity="0.45" stroke="#c8b8a6" stroke-width="2"/><circle cx="2083.3" cy="1478.6" r="4.9" fill="#b0e9d6" fill-opacity="0.45" stroke="#b0e9d6" stroke-width="2"/><circle cx="2121.0" cy="1709.8" r="4.9" fill="#fde39f" fill-opacity="0.45" stroke="#fde39f" stroke-width="2"/><circle cx="2137.6" cy="1755.8" r="4.9" fill="#fde39f" fill-opacity="0.45" stroke="#fde39f" stroke-width="2"/><circle cx="2039.9" cy="1476.5" r="4.6" fill="#f0a8ad" fill-opacity="0.45" stroke="#f0a8ad" stroke-width="2"/><circle cx="2520.8" cy="1600.2" r="4.6" fill="#fde39f" fill-opacity="0.45" stroke="#fde39f" stroke-width="2"/><circle cx="2812.1" cy="1486.3" r="4.6" fill="#a874a9" fill-opacity="0.45" stroke="#a874a9" stroke-width="2"/><circle cx="2823.2" cy="1671.8" r="4.6" fill="#fde39f" fill-opacity="0.45" stroke="#fde39f" stroke-width="2"/><circle cx="1371.0" cy="1425.2" r="4.2" fill="#97b9b9" fill-opacity="0.45" stroke="#97b9b9" stroke-width="2"/><circle cx="2169.1" cy="1515.4" r="4.2" fill="#97b9b9" fill-opacity="0.45" stroke="#97b9b9" stroke-width="2"/><circle cx="2091.0" cy="1541.9" r="4.2" fill="#b0e9d6" fill-opacity="0.45" stroke="#b0e9d6" stroke-width="2"/><circle cx="2434.2" cy="1708.8" r="4.2" fill="#fde39f" fill-opacity="0.45" stroke="#fde39f" stroke-width="2"/><circle cx="2778.2" cy="1518.7" r="4.2" fill="#c8b8a6" fill-opacity="0.45" stroke="#c8b8a6" stroke-width="2"/><circle cx="2644.6" cy="1695.0" r="4.2" fill="#fde39f" fill-opacity="0.45" stroke="#fde39f" stroke-width="2"/><circle cx="2866.1" cy="1709.5" r="4.2" fill="#fde39f" fill-opacity="0.45" stroke="#fde39f" stroke-width="2"/><circle cx="1390.5" cy="1403.6" r="3.9" fill="#b0e9d6" fill-opacity="0.45" stroke="#b0e9d6" stroke-width="2"/><circle cx="1900.8" cy="1463.5" r="3.9" fill="#97b9b9" fill-opacity="0.45" stroke="#97b9b9" stroke-width="2"/><circle cx="2317.6" cy="1608.9" r="3.9" fill="#fde39f" fill-opacity="0.45" stroke="#fde39f" stroke-width="2"/><circle cx="2386.1" cy="1690.3" r="3.9" fill="#fde39f" fill-opacity="0.45" stroke="#fde39f" stroke-width="2"/><circle cx="2511.1" cy="1689.1" r="3.9" fill="#fde39f" fill-opacity="0.45" stroke="#fde39f" stroke-width="2"/><circle cx="2735.6" cy="1753.6" r="3.9" fill="#fde39f" fill-opacity="0.45" stroke="#fde39f" stroke-width="2"/><circle cx="2464.8" cy="1693.1" r="3.6" fill="#fde39f" fill-opacity="0.45" stroke="#fde39f" stroke-width="2"/><circle cx="2677.0" cy="1610.4" r="3.6" fill="#fde39f" fill-opacity="0.45" stroke="#fde39f" stroke-width="2"/><circle cx="2818.0" cy="1710.7" r="3.6" fill="#fde39f" fill-opacity="0.45" stroke="#fde39f" stroke-width="2"/><circle cx="1189.3" cy="1410.7" r="3.3" fill="#b0e9d6" fill-opacity="0.45" stroke="#b0e9d6" stroke-width="2"/><circle cx="1619.3" cy="1408.9" r="3.3" fill="#b0e9d6" fill-opacity="0.45" stroke="#b0e9d6" stroke-width="2"/><circle cx="1618.4" cy="1429.9" r="3.3" fill="#97b9b9" fill-opacity="0.45" stroke="#97b9b9" stroke-width="2"/><circle cx="1690.0" cy="1441.3" r="3.3" fill="#b0e9d6" fill-opacity="0.45" stroke="#b0e9d6" stroke-width="2"/><circle cx="1768.4" cy="1475.5" r="3.3" fill="#b0e9d6" fill-opacity="0.45" stroke="#b0e9d6" stroke-width="2"/><circle cx="1834.7" cy="1481.4" r="3.3" fill="#f0a8ad" fill-opacity="0.45" stroke="#f0a8ad" stroke-width="2"/><circle cx="1819.3" cy="1568.4" r="3.3" fill="#97b9b9" fill-opacity="0.45" stroke="#97b9b9" stroke-width="2"/><circle cx="1935.9" cy="1412.0" r="3.3" fill="#b0e9d6" fill-opacity="0.45" stroke="#b0e9d6" stroke-width="2"/><circle cx="2093.5" cy="1617.2" r="3.3" fill="#97b9b9" fill-opacity="0.45" stroke="#97b9b9" stroke-width="2"/><circle cx="2322.2" cy="1655.1" r="3.3" fill="#fde39f" fill-opacity="0.45" stroke="#fde39f" stroke-width="2"/><circle cx="2415.4" cy="1707.0" r="3.3" fill="#fde39f" fill-opacity="0.45" stroke="#fde39f" stroke-width="2"/><circle cx="2512.5" cy="1689.1" r="3.3" fill="#fde39f" fill-opacity="0.45" stroke="#fde39f" stroke-width="2"/><circle cx="2963.0" cy="1720.9" r="3.3" fill="#fde39f" fill-opacity="0.45" stroke="#fde39f" stroke-width="2"/><circle cx="1444.2" cy="1397.2" r="3.0" fill="#b0e9d6" fill-opacity="0.45" stroke="#b0e9d6" stroke-width="2"/><circle cx="1461.1" cy="1453.9" r="3.0" fill="#f0a8ad" fill-opacity="0.45" stroke="#f0a8ad" stroke-width="2"/><circle cx="1654.5" cy="1495.9" r="3.0" fill="#97b9b9" fill-opacity="0.45" stroke="#97b9b9" stroke-width="2"/><circle cx="1652.0" cy="1524.0" r="3.0" fill="#b0e9d6" fill-opacity="0.45" stroke="#b0e9d6" stroke-width="2"/><circle cx="1840.0" cy="1406.4" r="3.0" fill="#b0e9d6" fill-opacity="0.45" stroke="#b0e9d6" stroke-width="2"/><circle cx="2056.8" cy="1478.9" r="3.0" fill="#b0e9d6" fill-opacity="0.45" stroke="#b0e9d6" stroke-width="2"/><circle cx="2117.0" cy="1494.4" r="3.0" fill="#97b9b9" fill-opacity="0.45" stroke="#97b9b9" stroke-width="2"/><circle cx="2090.1" cy="1524.0" r="3.0" fill="#b0e9d6" fill-opacity="0.45" stroke="#b0e9d6" stroke-width="2"/><circle cx="2643.9" cy="1562.9" r="3.0" fill="#b0e9d6" fill-opacity="0.45" stroke="#b0e9d6" stroke-width="2"/><circle cx="2920.4" cy="1619.0" r="3.0" fill="#c8b8a6" fill-opacity="0.45" stroke="#c8b8a6" stroke-width="2"/><circle cx="1141.7" cy="1378.6" r="2.7" fill="#c8b8a6" fill-opacity="0.45" stroke="#c8b8a6" stroke-width="2"/><circle cx="1307.8" cy="1398.7" r="2.7" fill="#f0a8ad" fill-opacity="0.45" stroke="#f0a8ad" stroke-width="2"/><circle cx="1495.1" cy="1490.0" r="2.7" fill="#f0a8ad" fill-opacity="0.45" stroke="#f0a8ad" stroke-width="2"/><circle cx="1595.7" cy="1474.3" r="2.7" fill="#f0a8ad" fill-opacity="0.45" stroke="#f0a8ad" stroke-width="2"/><circle cx="1679.5" cy="1387.0" r="2.7" fill="#b0e9d6" fill-opacity="0.45" stroke="#b0e9d6" stroke-width="2"/><circle cx="1701.4" cy="1483.3" r="2.7" fill="#b0e9d6" fill-opacity="0.45" stroke="#b0e9d6" stroke-width="2"/><circle cx="1861.6" cy="1509.2" r="2.7" fill="#97b9b9" fill-opacity="0.45" stroke="#97b9b9" stroke-width="2"/><circle cx="2009.7" cy="1483.6" r="2.7" fill="#97b9b9" fill-opacity="0.45" stroke="#97b9b9" stroke-width="2"/><circle cx="2056.0" cy="1478.9" r="2.7" fill="#b0e9d6" fill-opacity="0.45" stroke="#b0e9d6" stroke-width="2"/><circle cx="1985.9" cy="1506.4" r="2.7" fill="#97b9b9" fill-opacity="0.45" stroke="#97b9b9" stroke-width="2"/><circle cx="2074.1" cy="1462.9" r="2.7" fill="#b0e9d6" fill-opacity="0.45" stroke="#b0e9d6" stroke-width="2"/><circle cx="2190.4" cy="1585.1" r="2.7" fill="#b0e9d6" fill-opacity="0.45" stroke="#b0e9d6" stroke-width="2"/><circle cx="2409.2" cy="1690.6" r="2.7" fill="#fde39f" fill-opacity="0.45" stroke="#fde39f" stroke-width="2"/><circle cx="2463.8" cy="1534.8" r="2.7" fill="#b0e9d6" fill-opacity="0.45" stroke="#b0e9d6" stroke-width="2"/><circle cx="2486.1" cy="1560.4" r="2.7" fill="#c8b8a6" fill-opacity="0.45" stroke="#c8b8a6" stroke-width="2"/><circle cx="2758.1" cy="1624.0" r="2.7" fill="#fde39f" fill-opacity="0.45" stroke="#fde39f" stroke-width="2"/><circle cx="1141.7" cy="1397.8" r="2.4" fill="#c8b8a6" fill-opacity="0.45" stroke="#c8b8a6" stroke-width="2"/><circle cx="1401.3" cy="1422.5" r="2.4" fill="#f0a8ad" fill-opacity="0.45" stroke="#f0a8ad" stroke-width="2"/><circle cx="1408.7" cy="1419.7" r="2.4" fill="#b0e9d6" fill-opacity="0.45" stroke="#b0e9d6" stroke-width="2"/><circle cx="1424.4" cy="1407.0" r="2.4" fill="#c8b8a6" fill-opacity="0.45" stroke="#c8b8a6" stroke-width="2"/><circle cx="1475.3" cy="1412.0" r="2.4" fill="#b0e9d6" fill-opacity="0.45" stroke="#b0e9d6" stroke-width="2"/><circle cx="1563.3" cy="1402.7" r="2.4" fill="#b0e9d6" fill-opacity="0.45" stroke="#b0e9d6" stroke-width="2"/><circle cx="1696.5" cy="1423.1" r="2.4" fill="#97b9b9" fill-opacity="0.45" stroke="#97b9b9" stroke-width="2"/><circle cx="1595.6" cy="1474.0" r="2.4" fill="#f0a8ad" fill-opacity="0.45" stroke="#f0a8ad" stroke-width="2"/><circle cx="1916.5" cy="1408.9" r="2.4" fill="#b0e9d6" fill-opacity="0.45" stroke="#b0e9d6" stroke-width="2"/><circle cx="2004.8" cy="1453.6" r="2.4" fill="#b0e9d6" fill-opacity="0.45" stroke="#b0e9d6" stroke-width="2"/><circle cx="2102.5" cy="1487.3" r="2.4" fill="#b0e9d6" fill-opacity="0.45" stroke="#b0e9d6" stroke-width="2"/><circle cx="2388.2" cy="1770.0" r="2.4" fill="#fde39f" fill-opacity="0.45" stroke="#fde39f" stroke-width="2"/><circle cx="2397.8" cy="1811.6" r="2.4" fill="#fde39f" fill-opacity="0.45" stroke="#fde39f" stroke-width="2"/><circle cx="1252.2" cy="1453.9" r="2.1" fill="#97b9b9" fill-opacity="0.45" stroke="#97b9b9" stroke-width="2"/><circle cx="1269.5" cy="1436.0" r="2.1" fill="#97b9b9" fill-opacity="0.45" stroke="#97b9b9" stroke-width="2"/><circle cx="1666.2" cy="1498.4" r="2.1" fill="#f0a8ad" fill-opacity="0.45" stroke="#f0a8ad" stroke-width="2"/><circle cx="1849.2" cy="1449.6" r="2.1" fill="#97b9b9" fill-opacity="0.45" stroke="#97b9b9" stroke-width="2"/><circle cx="1884.7" cy="1668.4" r="2.1" fill="#fde39f" fill-opacity="0.45" stroke="#fde39f" stroke-width="2"/><circle cx="2014.0" cy="1629.8" r="2.1" fill="#fde39f" fill-opacity="0.45" stroke="#fde39f" stroke-width="2"/><circle cx="2097.8" cy="1449.3" r="2.1" fill="#b0e9d6" fill-opacity="0.45" stroke="#b0e9d6" stroke-width="2"/><circle cx="2083.9" cy="1495.6" r="2.1" fill="#97b9b9" fill-opacity="0.45" stroke="#97b9b9" stroke-width="2"/><circle cx="2201.5" cy="1645.0" r="2.1" fill="#fde39f" fill-opacity="0.45" stroke="#fde39f" stroke-width="2"/><circle cx="2383.3" cy="1462.9" r="2.1" fill="#b0e9d6" fill-opacity="0.45" stroke="#b0e9d6" stroke-width="2"/><circle cx="1141.7" cy="1404.6" r="2.0" fill="#b1e3ee" fill-opacity="0.45" stroke="#b1e3ee" stroke-width="2"/><circle cx="1141.7" cy="1418.5" r="2.0" fill="#c8b8a6" fill-opacity="0.45" stroke="#c8b8a6" stroke-width="2"/><circle cx="1141.7" cy="1430.2" r="2.0" fill="#97b9b9" fill-opacity="0.45" stroke="#97b9b9" stroke-width="2"/><circle cx="1141.7" cy="1528.9" r="2.0" fill="#b0e9d6" fill-opacity="0.45" stroke="#b0e9d6" stroke-width="2"/><circle cx="1166.1" cy="1436.7" r="2.0" fill="#f0a8ad" fill-opacity="0.45" stroke="#f0a8ad" stroke-width="2"/><circle cx="1176.9" cy="1482.3" r="2.0" fill="#f0a8ad" fill-opacity="0.45" stroke="#f0a8ad" stroke-width="2"/><circle cx="1247.3" cy="1408.9" r="2.0" fill="#f0a8ad" fill-opacity="0.45" stroke="#f0a8ad" stroke-width="2"/><circle cx="1248.8" cy="1424.6" r="2.0" fill="#97b9b9" fill-opacity="0.45" stroke="#97b9b9" stroke-width="2"/><circle cx="1260.8" cy="1436.0" r="2.0" fill="#c8b8a6" fill-opacity="0.45" stroke="#c8b8a6" stroke-width="2"/><circle cx="1262.4" cy="1379.9" r="2.0" fill="#b0e9d6" fill-opacity="0.45" stroke="#b0e9d6" stroke-width="2"/><circle cx="1270.1" cy="1390.7" r="2.0" fill="#b0e9d6" fill-opacity="0.45" stroke="#b0e9d6" stroke-width="2"/><circle cx="1351.0" cy="1445.9" r="2.0" fill="#97b9b9" fill-opacity="0.45" stroke="#97b9b9" stroke-width="2"/><circle cx="1368.6" cy="1406.4" r="2.0" fill="#b0e9d6" fill-opacity="0.45" stroke="#b0e9d6" stroke-width="2"/><circle cx="1375.3" cy="1458.3" r="2.0" fill="#f0a8ad" fill-opacity="0.45" stroke="#f0a8ad" stroke-width="2"/><circle cx="1427.2" cy="1613.2" r="2.0" fill="#fde39f" fill-opacity="0.45" stroke="#fde39f" stroke-width="2"/><circle cx="1453.4" cy="1519.4" r="2.0" fill="#b0e9d6" fill-opacity="0.45" stroke="#b0e9d6" stroke-width="2"/><circle cx="1497.2" cy="1476.8" r="2.0" fill="#97b9b9" fill-opacity="0.45" stroke="#97b9b9" stroke-width="2"/><circle cx="1635.1" cy="1437.9" r="2.0" fill="#c8b8a6" fill-opacity="0.45" stroke="#c8b8a6" stroke-width="2"/><circle cx="1638.8" cy="1458.9" r="2.0" fill="#f0a8ad" fill-opacity="0.45" stroke="#f0a8ad" stroke-width="2"/><circle cx="1611.0" cy="1634.2" r="2.0" fill="#f0a8ad" fill-opacity="0.45" stroke="#f0a8ad" stroke-width="2"/><circle cx="1808.2" cy="1423.4" r="2.0" fill="#b0e9d6" fill-opacity="0.45" stroke="#b0e9d6" stroke-width="2"/><circle cx="1798.3" cy="1454.2" r="2.0" fill="#c8b8a6" fill-opacity="0.45" stroke="#c8b8a6" stroke-width="2"/><circle cx="1796.8" cy="1460.1" r="2.0" fill="#b0e9d6" fill-opacity="0.45" stroke="#b0e9d6" stroke-width="2"/><circle cx="1803.9" cy="1490.0" r="2.0" fill="#b0e9d6" fill-opacity="0.45" stroke="#b0e9d6" stroke-width="2"/><circle cx="1823.3" cy="1490.0" r="2.0" fill="#b0e9d6" fill-opacity="0.45" stroke="#b0e9d6" stroke-width="2"/><circle cx="1831.3" cy="1523.7" r="2.0" fill="#97b9b9" fill-opacity="0.45" stroke="#97b9b9" stroke-width="2"/><circle cx="1785.0" cy="1562.9" r="2.0" fill="#c8b8a6" fill-opacity="0.45" stroke="#c8b8a6" stroke-width="2"/><circle cx="1890.9" cy="1481.1" r="2.0" fill="#b0e9d6" fill-opacity="0.45" stroke="#b0e9d6" stroke-width="2"/><circle cx="1892.7" cy="1479.6" r="2.0" fill="#b0e9d6" fill-opacity="0.45" stroke="#b0e9d6" stroke-width="2"/><circle cx="1906.0" cy="1482.9" r="2.0" fill="#fde39f" fill-opacity="0.45" stroke="#fde39f" stroke-width="2"/><circle cx="1906.3" cy="1575.5" r="2.0" fill="#fde39f" fill-opacity="0.45" stroke="#fde39f" stroke-width="2"/><circle cx="2034.4" cy="1463.5" r="2.0" fill="#c8b8a6" fill-opacity="0.45" stroke="#c8b8a6" stroke-width="2"/><circle cx="2022.0" cy="1475.2" r="2.0" fill="#b0e9d6" fill-opacity="0.45" stroke="#b0e9d6" stroke-width="2"/><circle cx="2020.8" cy="1661.6" r="2.0" fill="#fde39f" fill-opacity="0.45" stroke="#fde39f" stroke-width="2"/><circle cx="2031.9" cy="1793.7" r="2.0" fill="#fde39f" fill-opacity="0.45" stroke="#fde39f" stroke-width="2"/><circle cx="2165.1" cy="1417.8" r="2.0" fill="#b0e9d6" fill-opacity="0.45" stroke="#b0e9d6" stroke-width="2"/><circle cx="2110.8" cy="1499.6" r="2.0" fill="#fde39f" fill-opacity="0.45" stroke="#fde39f" stroke-width="2"/><circle cx="2181.8" cy="1504.6" r="2.0" fill="#97b9b9" fill-opacity="0.45" stroke="#97b9b9" stroke-width="2"/><circle cx="2118.8" cy="1535.4" r="2.0" fill="#c8b8a6" fill-opacity="0.45" stroke="#c8b8a6" stroke-width="2"/><circle cx="2244.1" cy="1713.5" r="2.0" fill="#fde39f" fill-opacity="0.45" stroke="#fde39f" stroke-width="2"/><circle cx="2272.2" cy="1491.0" r="2.0" fill="#97b9b9" fill-opacity="0.45" stroke="#97b9b9" stroke-width="2"/><circle cx="2269.1" cy="1546.2" r="2.0" fill="#b0e9d6" fill-opacity="0.45" stroke="#b0e9d6" stroke-width="2"/><circle cx="2289.8" cy="1550.5" r="2.0" fill="#c8b8a6" fill-opacity="0.45" stroke="#c8b8a6" stroke-width="2"/><circle cx="2313.5" cy="1473.1" r="2.0" fill="#97b9b9" fill-opacity="0.45" stroke="#97b9b9" stroke-width="2"/><circle cx="2345.6" cy="1407.6" r="2.0" fill="#b0e9d6" fill-opacity="0.45" stroke="#b0e9d6" stroke-width="2"/><circle cx="2345.0" cy="1449.3" r="2.0" fill="#a874a9" fill-opacity="0.45" stroke="#a874a9" stroke-width="2"/><circle cx="2361.1" cy="1493.4" r="2.0" fill="#fde39f" fill-opacity="0.45" stroke="#fde39f" stroke-width="2"/><circle cx="2314.8" cy="1606.4" r="2.0" fill="#fde39f" fill-opacity="0.45" stroke="#fde39f" stroke-width="2"/><circle cx="2382.4" cy="1732.9" r="2.0" fill="#fde39f" fill-opacity="0.45" stroke="#fde39f" stroke-width="2"/><circle cx="2458.0" cy="1502.4" r="2.0" fill="#97b9b9" fill-opacity="0.45" stroke="#97b9b9" stroke-width="2"/><circle cx="2458.9" cy="1559.2" r="2.0" fill="#a874a9" fill-opacity="0.45" stroke="#a874a9" stroke-width="2"/><circle cx="2550.1" cy="1417.8" r="2.0" fill="#b0e9d6" fill-opacity="0.45" stroke="#b0e9d6" stroke-width="2"/><circle cx="2534.1" cy="1474.3" r="2.0" fill="#97b9b9" fill-opacity="0.45" stroke="#97b9b9" stroke-width="2"/><circle cx="2661.5" cy="1468.1" r="2.0" fill="#97b9b9" fill-opacity="0.45" stroke="#97b9b9" stroke-width="2"/><circle cx="2569.6" cy="1570.0" r="2.0" fill="#c8b8a6" fill-opacity="0.45" stroke="#c8b8a6" stroke-width="2"/><circle cx="2608.4" cy="1577.1" r="2.0" fill="#97b9b9" fill-opacity="0.45" stroke="#97b9b9" stroke-width="2"/><circle cx="2677.6" cy="1517.5" r="2.0" fill="#c8b8a6" fill-opacity="0.45" stroke="#c8b8a6" stroke-width="2"/><circle cx="2707.2" cy="1503.9" r="2.0" fill="#c8b8a6" fill-opacity="0.45" stroke="#c8b8a6" stroke-width="2"/><circle cx="2614.9" cy="1638.5" r="2.0" fill="#fde39f" fill-opacity="0.45" stroke="#fde39f" stroke-width="2"/><circle cx="2730.3" cy="1544.7" r="2.0" fill="#c8b8a6" fill-opacity="0.45" stroke="#c8b8a6" stroke-width="2"/><circle cx="2767.1" cy="1561.0" r="2.0" fill="#c8b8a6" fill-opacity="0.45" stroke="#c8b8a6" stroke-width="2"/><circle cx="2780.3" cy="1499.9" r="2.0" fill="#c8b8a6" fill-opacity="0.45" stroke="#c8b8a6" stroke-width="2"/><circle cx="2809.3" cy="1478.9" r="2.0" fill="#97b9b9" fill-opacity="0.45" stroke="#97b9b9" stroke-width="2"/><circle cx="2891.7" cy="1397.2" r="2.0" fill="#b0e9d6" fill-opacity="0.45" stroke="#b0e9d6" stroke-width="2"/><circle cx="3003.1" cy="1533.6" r="2.0" fill="#97b9b9" fill-opacity="0.45" stroke="#97b9b9" stroke-width="2"/><circle cx="2669.9" cy="1776.7" r="2.0" fill="#fde39f" fill-opacity="0.45" stroke="#fde39f" stroke-width="2"/><circle cx="2748.2" cy="1771.5" r="2.0" fill="#fde39f" fill-opacity="0.45" stroke="#fde39f" stroke-width="2"/><line x1="1141.7" y1="1379" x2="1141.7" y2="1811" stroke="#222" stroke-width="2.2"/><text class="ax" x="1141.7" y="1839.3" text-anchor="middle">0</text><text class="ax" x="1346.2" y="1839.3" text-anchor="middle">10</text><text class="ax" x="1550.7" y="1839.3" text-anchor="middle">20</text><text class="ax" x="1755.2" y="1839.3" text-anchor="middle">30</text><text class="ax" x="1959.7" y="1839.3" text-anchor="middle">40</text><text class="ax" x="2164.2" y="1839.3" text-anchor="middle">50</text><text class="ax" x="2368.7" y="1839.3" text-anchor="middle">60</text><text class="ax" x="2573.2" y="1839.3" text-anchor="middle">70</text><text class="ax" x="2777.7" y="1839.3" text-anchor="middle">80</text><text class="ax" x="2982.2" y="1839.3" text-anchor="middle">90</text></svg>
<div class="grip" style="left:3028px;top:1332px;height:30px"></div>
<div class="grip" style="left:3028px;top:1368px;height:30px"></div>
</body></html>
